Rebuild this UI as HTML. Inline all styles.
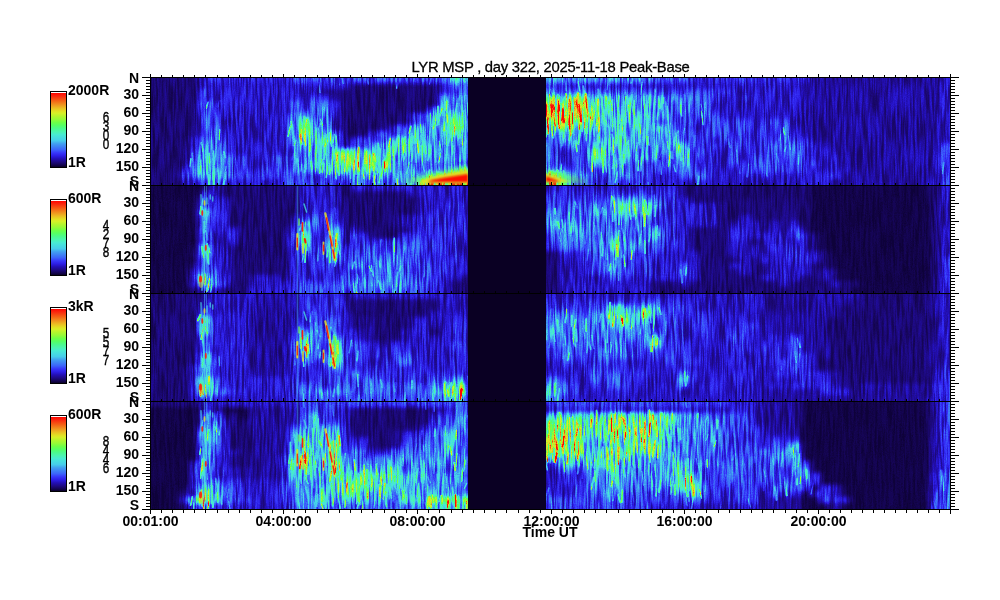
<!DOCTYPE html>
<html><head><meta charset="utf-8"><title>LYR MSP keogram</title>
<style>
html,body{margin:0;padding:0;background:#fff;width:1000px;height:600px;overflow:hidden}
svg{display:block}
text{font-family:"Liberation Sans",Arial,sans-serif;fill:#000}
.b{font-weight:bold;font-size:14px}
.t{font-size:14.8px;letter-spacing:-0.25px;stroke:#000;stroke-width:0.3px}
.w{font-size:13px;stroke:#000;stroke-width:0.35px}
</style></head><body>
<svg width="1000" height="600" viewBox="0 0 1000 600" shape-rendering="crispEdges">
<defs>
<linearGradient id="cbg" x1="0" y1="0" x2="0" y2="1"><stop offset="0.000" stop-color="rgb(255,5,0)"/><stop offset="0.041" stop-color="rgb(250,40,15)"/><stop offset="0.096" stop-color="rgb(245,90,20)"/><stop offset="0.151" stop-color="rgb(240,140,30)"/><stop offset="0.205" stop-color="rgb(235,190,35)"/><stop offset="0.247" stop-color="rgb(225,225,35)"/><stop offset="0.274" stop-color="rgb(215,240,40)"/><stop offset="0.315" stop-color="rgb(180,245,45)"/><stop offset="0.356" stop-color="rgb(150,250,55)"/><stop offset="0.397" stop-color="rgb(110,255,70)"/><stop offset="0.438" stop-color="rgb(85,255,100)"/><stop offset="0.479" stop-color="rgb(75,250,140)"/><stop offset="0.521" stop-color="rgb(75,245,175)"/><stop offset="0.562" stop-color="rgb(72,235,210)"/><stop offset="0.603" stop-color="rgb(70,220,225)"/><stop offset="0.644" stop-color="rgb(70,205,235)"/><stop offset="0.685" stop-color="rgb(65,160,240)"/><stop offset="0.726" stop-color="rgb(62,130,245)"/><stop offset="0.767" stop-color="rgb(60,100,250)"/><stop offset="0.808" stop-color="rgb(55,55,250)"/><stop offset="0.849" stop-color="rgb(45,30,230)"/><stop offset="0.890" stop-color="rgb(35,15,180)"/><stop offset="0.932" stop-color="rgb(30,10,130)"/><stop offset="0.973" stop-color="rgb(20,5,80)"/><stop offset="1.000" stop-color="rgb(10,0,40)"/></linearGradient>
<clipPath id="cp0"><rect x="150" y="77" width="800" height="108"/></clipPath>
<clipPath id="cp1"><rect x="150" y="185" width="800" height="108"/></clipPath>
<clipPath id="cp2"><rect x="150" y="293" width="800" height="108"/></clipPath>
<clipPath id="cp3"><rect x="150" y="401" width="800" height="108"/></clipPath>
<filter id="cm" x="-2%" y="-10%" width="104%" height="120%" color-interpolation-filters="sRGB">
<feOffset in="SourceGraphic" dx="0" dy="0" result="b"/>
<feTurbulence type="fractalNoise" baseFrequency="0.45 0.035" numOctaves="2" seed="7" result="n"/>
<feColorMatrix in="n" type="matrix" values="1 0 0 0 0  1 0 0 0 0  1 0 0 0 0  0 0 0 0 1" result="ng"/>
<feComponentTransfer in="ng" result="n3"><feFuncR type="table" tableValues="0.3 0.3 0.32 0.38 0.5 0.68 0.85 1 1 1 1"/><feFuncG type="table" tableValues="0.3 0.3 0.32 0.38 0.5 0.68 0.85 1 1 1 1"/><feFuncB type="table" tableValues="0.3 0.3 0.32 0.38 0.5 0.68 0.85 1 1 1 1"/></feComponentTransfer>
<feBlend in="b" in2="n3" mode="multiply" result="m"/>
<feTurbulence type="fractalNoise" baseFrequency="0.9" numOctaves="1" seed="3" result="f"/>
<feColorMatrix in="f" type="matrix" values="0.35 0 0 0 0.7  0.35 0 0 0 0.7  0.35 0 0 0 0.7  0 0 0 0 1" result="f3"/>
<feBlend in="m" in2="f3" mode="multiply" result="m2"/>
<feComponentTransfer in="m2">
<feFuncR type="table" tableValues="0.039 0.058 0.076 0.089 0.101 0.113 0.121 0.127 0.133 0.140 0.153 0.165 0.177 0.189 0.201 0.213 0.220 0.226 0.232 0.237 0.239 0.241 0.244 0.248 0.251 0.255 0.261 0.267 0.273 0.275 0.275 0.275 0.276 0.278 0.281 0.283 0.287 0.290 0.294 0.294 0.294 0.294 0.302 0.314 0.326 0.345 0.375 0.405 0.438 0.486 0.534 0.583 0.620 0.656 0.692 0.732 0.775 0.817 0.850 0.868 0.885 0.897 0.909 0.920 0.926 0.930 0.935 0.939 0.944 0.948 0.953 0.957 0.962 0.966 0.971 0.975 0.980 0.986 0.992 0.998 1.000 1.000 1.000 1.000 1.000 1.000 1.000 1.000 1.000 1.000 1.000 1.000 1.000 1.000 1.000 1.000 1.000 1.000 1.000 1.000 1.000 1.000 1.000 1.000 1.000 1.000 1.000 1.000 1.000 1.000 1.000 1.000 1.000 1.000 1.000 1.000 1.000 1.000 1.000 1.000 1.000 1.000 1.000 1.000 1.000 1.000 1.000 1.000"/>
<feFuncG type="table" tableValues="0.000 0.009 0.018 0.025 0.031 0.037 0.043 0.049 0.055 0.064 0.082 0.100 0.118 0.148 0.178 0.208 0.257 0.311 0.365 0.410 0.447 0.483 0.519 0.555 0.591 0.627 0.682 0.736 0.790 0.817 0.835 0.853 0.872 0.890 0.908 0.924 0.936 0.948 0.961 0.967 0.972 0.978 0.984 0.990 0.996 1.000 1.000 1.000 0.999 0.993 0.987 0.981 0.975 0.969 0.963 0.957 0.951 0.945 0.931 0.903 0.873 0.832 0.791 0.749 0.704 0.658 0.613 0.567 0.522 0.477 0.432 0.387 0.342 0.297 0.252 0.207 0.162 0.120 0.078 0.035 0.020 0.020 0.020 0.020 0.020 0.020 0.020 0.020 0.020 0.020 0.020 0.020 0.020 0.020 0.020 0.020 0.020 0.020 0.020 0.020 0.020 0.020 0.020 0.020 0.020 0.020 0.020 0.020 0.020 0.020 0.020 0.020 0.020 0.020 0.020 0.020 0.020 0.020 0.020 0.020 0.020 0.020 0.020 0.020 0.020 0.020 0.020 0.020"/>
<feFuncB type="table" tableValues="0.157 0.230 0.303 0.365 0.426 0.486 0.545 0.604 0.663 0.722 0.782 0.843 0.902 0.926 0.951 0.975 0.980 0.980 0.980 0.977 0.971 0.965 0.959 0.953 0.947 0.941 0.935 0.929 0.923 0.913 0.901 0.889 0.874 0.855 0.837 0.814 0.771 0.729 0.687 0.646 0.605 0.564 0.518 0.470 0.421 0.378 0.342 0.306 0.272 0.254 0.236 0.218 0.205 0.193 0.181 0.173 0.167 0.161 0.153 0.144 0.137 0.137 0.137 0.137 0.133 0.129 0.124 0.119 0.112 0.103 0.094 0.085 0.077 0.073 0.068 0.064 0.059 0.043 0.025 0.007 0.000 0.000 0.000 0.000 0.000 0.000 0.000 0.000 0.000 0.000 0.000 0.000 0.000 0.000 0.000 0.000 0.000 0.000 0.000 0.000 0.000 0.000 0.000 0.000 0.000 0.000 0.000 0.000 0.000 0.000 0.000 0.000 0.000 0.000 0.000 0.000 0.000 0.000 0.000 0.000 0.000 0.000 0.000 0.000 0.000 0.000 0.000 0.000"/>
<feFuncA type="linear" slope="0" intercept="1"/>
</feComponentTransfer>
</filter>
<filter id="sb05" x="-20%" y="-20%" width="140%" height="140%"><feGaussianBlur stdDeviation="0.45"/></filter>
<filter id="sb1" x="-20%" y="-50%" width="140%" height="200%"><feGaussianBlur stdDeviation="1.2"/></filter>
<filter id="sb2" x="-20%" y="-50%" width="140%" height="200%"><feGaussianBlur stdDeviation="2"/></filter>
<filter id="gb" x="-3%" y="-12%" width="106%" height="124%" color-interpolation-filters="sRGB"><feGaussianBlur stdDeviation="3.5 2.2"/></filter>
</defs>
<rect width="1000" height="600" fill="#fff"/>
<g clip-path="url(#cp0)"><g filter="url(#cm)" shape-rendering="auto">
<g filter="url(#gb)">
<rect x="140" y="69" width="60" height="14" fill="#0f0f0f"/>
<rect x="200" y="69" width="90" height="14" fill="#292929"/>
<rect x="290" y="69" width="150" height="14" fill="#373737"/>
<rect x="440" y="69" width="10" height="14" fill="#4c4c4c"/>
<rect x="450" y="69" width="20" height="14" fill="#5e5e5e"/>
<rect x="470" y="69" width="70" height="14" fill="#000000"/>
<rect x="540" y="69" width="110" height="14" fill="#4c4c4c"/>
<rect x="650" y="69" width="40" height="14" fill="#373737"/>
<rect x="690" y="69" width="120" height="14" fill="#292929"/>
<rect x="810" y="69" width="130" height="14" fill="#181818"/>
<rect x="940" y="69" width="20" height="14" fill="#212121"/>
<rect x="140" y="83" width="60" height="6" fill="#0f0f0f"/>
<rect x="200" y="83" width="150" height="6" fill="#212121"/>
<rect x="350" y="83" width="90" height="6" fill="#0f0f0f"/>
<rect x="440" y="83" width="10" height="6" fill="#212121"/>
<rect x="450" y="83" width="20" height="6" fill="#3e3e3e"/>
<rect x="470" y="83" width="70" height="6" fill="#000000"/>
<rect x="540" y="83" width="20" height="6" fill="#303030"/>
<rect x="560" y="83" width="240" height="6" fill="#212121"/>
<rect x="800" y="83" width="140" height="6" fill="#181818"/>
<rect x="940" y="83" width="20" height="6" fill="#212121"/>
<rect x="140" y="89" width="60" height="6" fill="#0f0f0f"/>
<rect x="200" y="89" width="10" height="6" fill="#303030"/>
<rect x="210" y="89" width="110" height="6" fill="#212121"/>
<rect x="320" y="89" width="120" height="6" fill="#0f0f0f"/>
<rect x="440" y="89" width="10" height="6" fill="#212121"/>
<rect x="450" y="89" width="20" height="6" fill="#3e3e3e"/>
<rect x="470" y="89" width="70" height="6" fill="#000000"/>
<rect x="540" y="89" width="10" height="6" fill="#4c4c4c"/>
<rect x="550" y="89" width="50" height="6" fill="#3e3e3e"/>
<rect x="600" y="89" width="10" height="6" fill="#303030"/>
<rect x="610" y="89" width="10" height="6" fill="#3e3e3e"/>
<rect x="620" y="89" width="30" height="6" fill="#303030"/>
<rect x="650" y="89" width="10" height="6" fill="#3e3e3e"/>
<rect x="660" y="89" width="70" height="6" fill="#303030"/>
<rect x="730" y="89" width="70" height="6" fill="#212121"/>
<rect x="800" y="89" width="140" height="6" fill="#181818"/>
<rect x="940" y="89" width="20" height="6" fill="#212121"/>
<rect x="140" y="95" width="60" height="6" fill="#0f0f0f"/>
<rect x="200" y="95" width="10" height="6" fill="#303030"/>
<rect x="210" y="95" width="90" height="6" fill="#212121"/>
<rect x="300" y="95" width="20" height="6" fill="#303030"/>
<rect x="320" y="95" width="10" height="6" fill="#212121"/>
<rect x="330" y="95" width="110" height="6" fill="#0f0f0f"/>
<rect x="440" y="95" width="10" height="6" fill="#4c4c4c"/>
<rect x="450" y="95" width="20" height="6" fill="#5e5e5e"/>
<rect x="470" y="95" width="70" height="6" fill="#000000"/>
<rect x="540" y="95" width="10" height="6" fill="#a3a3a3"/>
<rect x="550" y="95" width="10" height="6" fill="#8c8c8c"/>
<rect x="560" y="95" width="10" height="6" fill="#a3a3a3"/>
<rect x="570" y="95" width="30" height="6" fill="#8c8c8c"/>
<rect x="600" y="95" width="10" height="6" fill="#5e5e5e"/>
<rect x="610" y="95" width="10" height="6" fill="#737373"/>
<rect x="620" y="95" width="40" height="6" fill="#5e5e5e"/>
<rect x="660" y="95" width="30" height="6" fill="#4c4c4c"/>
<rect x="690" y="95" width="10" height="6" fill="#3e3e3e"/>
<rect x="700" y="95" width="10" height="6" fill="#303030"/>
<rect x="710" y="95" width="10" height="6" fill="#3e3e3e"/>
<rect x="720" y="95" width="20" height="6" fill="#212121"/>
<rect x="740" y="95" width="10" height="6" fill="#303030"/>
<rect x="750" y="95" width="50" height="6" fill="#212121"/>
<rect x="800" y="95" width="140" height="6" fill="#181818"/>
<rect x="940" y="95" width="20" height="6" fill="#212121"/>
<rect x="140" y="101" width="60" height="6" fill="#0f0f0f"/>
<rect x="200" y="101" width="10" height="6" fill="#3e3e3e"/>
<rect x="210" y="101" width="10" height="6" fill="#303030"/>
<rect x="220" y="101" width="70" height="6" fill="#212121"/>
<rect x="290" y="101" width="40" height="6" fill="#373737"/>
<rect x="330" y="101" width="10" height="6" fill="#212121"/>
<rect x="340" y="101" width="100" height="6" fill="#0f0f0f"/>
<rect x="440" y="101" width="30" height="6" fill="#5e5e5e"/>
<rect x="470" y="101" width="70" height="6" fill="#000000"/>
<rect x="540" y="101" width="10" height="6" fill="#b8b8b8"/>
<rect x="550" y="101" width="10" height="6" fill="#a3a3a3"/>
<rect x="560" y="101" width="10" height="6" fill="#cccccc"/>
<rect x="570" y="101" width="10" height="6" fill="#a3a3a3"/>
<rect x="580" y="101" width="20" height="6" fill="#8c8c8c"/>
<rect x="600" y="101" width="10" height="6" fill="#5e5e5e"/>
<rect x="610" y="101" width="10" height="6" fill="#737373"/>
<rect x="620" y="101" width="40" height="6" fill="#5e5e5e"/>
<rect x="660" y="101" width="10" height="6" fill="#4c4c4c"/>
<rect x="670" y="101" width="10" height="6" fill="#303030"/>
<rect x="680" y="101" width="10" height="6" fill="#4c4c4c"/>
<rect x="690" y="101" width="10" height="6" fill="#303030"/>
<rect x="700" y="101" width="10" height="6" fill="#3e3e3e"/>
<rect x="710" y="101" width="10" height="6" fill="#303030"/>
<rect x="720" y="101" width="80" height="6" fill="#212121"/>
<rect x="800" y="101" width="140" height="6" fill="#181818"/>
<rect x="940" y="101" width="20" height="6" fill="#212121"/>
<rect x="140" y="107" width="60" height="6" fill="#0f0f0f"/>
<rect x="200" y="107" width="10" height="6" fill="#3e3e3e"/>
<rect x="210" y="107" width="10" height="6" fill="#303030"/>
<rect x="220" y="107" width="70" height="6" fill="#212121"/>
<rect x="290" y="107" width="30" height="6" fill="#373737"/>
<rect x="320" y="107" width="10" height="6" fill="#4c4c4c"/>
<rect x="330" y="107" width="10" height="6" fill="#212121"/>
<rect x="340" y="107" width="90" height="6" fill="#0f0f0f"/>
<rect x="430" y="107" width="40" height="6" fill="#5e5e5e"/>
<rect x="470" y="107" width="70" height="6" fill="#000000"/>
<rect x="540" y="107" width="10" height="6" fill="#cccccc"/>
<rect x="550" y="107" width="20" height="6" fill="#b8b8b8"/>
<rect x="570" y="107" width="10" height="6" fill="#cccccc"/>
<rect x="580" y="107" width="10" height="6" fill="#a3a3a3"/>
<rect x="590" y="107" width="10" height="6" fill="#8c8c8c"/>
<rect x="600" y="107" width="20" height="6" fill="#5e5e5e"/>
<rect x="620" y="107" width="10" height="6" fill="#737373"/>
<rect x="630" y="107" width="20" height="6" fill="#5e5e5e"/>
<rect x="650" y="107" width="20" height="6" fill="#4c4c4c"/>
<rect x="670" y="107" width="10" height="6" fill="#303030"/>
<rect x="680" y="107" width="10" height="6" fill="#4c4c4c"/>
<rect x="690" y="107" width="10" height="6" fill="#303030"/>
<rect x="700" y="107" width="10" height="6" fill="#3e3e3e"/>
<rect x="710" y="107" width="10" height="6" fill="#303030"/>
<rect x="720" y="107" width="80" height="6" fill="#212121"/>
<rect x="800" y="107" width="140" height="6" fill="#181818"/>
<rect x="940" y="107" width="20" height="6" fill="#212121"/>
<rect x="140" y="113" width="60" height="6" fill="#0f0f0f"/>
<rect x="200" y="113" width="10" height="6" fill="#3e3e3e"/>
<rect x="210" y="113" width="10" height="6" fill="#303030"/>
<rect x="220" y="113" width="70" height="6" fill="#212121"/>
<rect x="290" y="113" width="20" height="6" fill="#4c4c4c"/>
<rect x="310" y="113" width="10" height="6" fill="#373737"/>
<rect x="320" y="113" width="10" height="6" fill="#4c4c4c"/>
<rect x="330" y="113" width="10" height="6" fill="#212121"/>
<rect x="340" y="113" width="70" height="6" fill="#0f0f0f"/>
<rect x="410" y="113" width="20" height="6" fill="#303030"/>
<rect x="430" y="113" width="20" height="6" fill="#5e5e5e"/>
<rect x="450" y="113" width="10" height="6" fill="#737373"/>
<rect x="460" y="113" width="10" height="6" fill="#5e5e5e"/>
<rect x="470" y="113" width="70" height="6" fill="#000000"/>
<rect x="540" y="113" width="10" height="6" fill="#cccccc"/>
<rect x="550" y="113" width="10" height="6" fill="#b8b8b8"/>
<rect x="560" y="113" width="10" height="6" fill="#a3a3a3"/>
<rect x="570" y="113" width="10" height="6" fill="#cccccc"/>
<rect x="580" y="113" width="10" height="6" fill="#a3a3a3"/>
<rect x="590" y="113" width="10" height="6" fill="#8c8c8c"/>
<rect x="600" y="113" width="50" height="6" fill="#5e5e5e"/>
<rect x="650" y="113" width="20" height="6" fill="#4c4c4c"/>
<rect x="670" y="113" width="30" height="6" fill="#303030"/>
<rect x="700" y="113" width="10" height="6" fill="#3e3e3e"/>
<rect x="710" y="113" width="10" height="6" fill="#303030"/>
<rect x="720" y="113" width="80" height="6" fill="#212121"/>
<rect x="800" y="113" width="140" height="6" fill="#181818"/>
<rect x="940" y="113" width="20" height="6" fill="#212121"/>
<rect x="140" y="119" width="60" height="6" fill="#0f0f0f"/>
<rect x="200" y="119" width="10" height="6" fill="#3e3e3e"/>
<rect x="210" y="119" width="10" height="6" fill="#303030"/>
<rect x="220" y="119" width="70" height="6" fill="#212121"/>
<rect x="290" y="119" width="10" height="6" fill="#4c4c4c"/>
<rect x="300" y="119" width="10" height="6" fill="#737373"/>
<rect x="310" y="119" width="20" height="6" fill="#4c4c4c"/>
<rect x="330" y="119" width="10" height="6" fill="#212121"/>
<rect x="340" y="119" width="70" height="6" fill="#0f0f0f"/>
<rect x="410" y="119" width="20" height="6" fill="#303030"/>
<rect x="430" y="119" width="20" height="6" fill="#5e5e5e"/>
<rect x="450" y="119" width="10" height="6" fill="#737373"/>
<rect x="460" y="119" width="10" height="6" fill="#5e5e5e"/>
<rect x="470" y="119" width="70" height="6" fill="#000000"/>
<rect x="540" y="119" width="10" height="6" fill="#cccccc"/>
<rect x="550" y="119" width="10" height="6" fill="#a3a3a3"/>
<rect x="560" y="119" width="10" height="6" fill="#8c8c8c"/>
<rect x="570" y="119" width="10" height="6" fill="#a3a3a3"/>
<rect x="580" y="119" width="10" height="6" fill="#8c8c8c"/>
<rect x="590" y="119" width="10" height="6" fill="#737373"/>
<rect x="600" y="119" width="40" height="6" fill="#5e5e5e"/>
<rect x="640" y="119" width="20" height="6" fill="#4c4c4c"/>
<rect x="660" y="119" width="90" height="6" fill="#303030"/>
<rect x="750" y="119" width="10" height="6" fill="#212121"/>
<rect x="760" y="119" width="30" height="6" fill="#303030"/>
<rect x="790" y="119" width="10" height="6" fill="#212121"/>
<rect x="800" y="119" width="140" height="6" fill="#181818"/>
<rect x="940" y="119" width="20" height="6" fill="#212121"/>
<rect x="140" y="125" width="60" height="6" fill="#0f0f0f"/>
<rect x="200" y="125" width="20" height="6" fill="#3e3e3e"/>
<rect x="220" y="125" width="10" height="6" fill="#303030"/>
<rect x="230" y="125" width="60" height="6" fill="#212121"/>
<rect x="290" y="125" width="10" height="6" fill="#5e5e5e"/>
<rect x="300" y="125" width="10" height="6" fill="#737373"/>
<rect x="310" y="125" width="20" height="6" fill="#5e5e5e"/>
<rect x="330" y="125" width="10" height="6" fill="#212121"/>
<rect x="340" y="125" width="50" height="6" fill="#0f0f0f"/>
<rect x="390" y="125" width="20" height="6" fill="#303030"/>
<rect x="410" y="125" width="20" height="6" fill="#5e5e5e"/>
<rect x="430" y="125" width="10" height="6" fill="#4c4c4c"/>
<rect x="440" y="125" width="10" height="6" fill="#5e5e5e"/>
<rect x="450" y="125" width="10" height="6" fill="#737373"/>
<rect x="460" y="125" width="10" height="6" fill="#5e5e5e"/>
<rect x="470" y="125" width="70" height="6" fill="#000000"/>
<rect x="540" y="125" width="10" height="6" fill="#a3a3a3"/>
<rect x="550" y="125" width="10" height="6" fill="#8c8c8c"/>
<rect x="560" y="125" width="10" height="6" fill="#737373"/>
<rect x="570" y="125" width="10" height="6" fill="#8c8c8c"/>
<rect x="580" y="125" width="20" height="6" fill="#737373"/>
<rect x="600" y="125" width="10" height="6" fill="#4c4c4c"/>
<rect x="610" y="125" width="20" height="6" fill="#5e5e5e"/>
<rect x="630" y="125" width="20" height="6" fill="#4c4c4c"/>
<rect x="650" y="125" width="10" height="6" fill="#737373"/>
<rect x="660" y="125" width="10" height="6" fill="#4c4c4c"/>
<rect x="670" y="125" width="20" height="6" fill="#303030"/>
<rect x="690" y="125" width="10" height="6" fill="#212121"/>
<rect x="700" y="125" width="50" height="6" fill="#303030"/>
<rect x="750" y="125" width="10" height="6" fill="#212121"/>
<rect x="760" y="125" width="20" height="6" fill="#303030"/>
<rect x="780" y="125" width="10" height="6" fill="#3e3e3e"/>
<rect x="790" y="125" width="10" height="6" fill="#303030"/>
<rect x="800" y="125" width="140" height="6" fill="#181818"/>
<rect x="940" y="125" width="20" height="6" fill="#212121"/>
<rect x="140" y="131" width="60" height="6" fill="#0f0f0f"/>
<rect x="200" y="131" width="20" height="6" fill="#3e3e3e"/>
<rect x="220" y="131" width="10" height="6" fill="#303030"/>
<rect x="230" y="131" width="60" height="6" fill="#212121"/>
<rect x="290" y="131" width="10" height="6" fill="#5e5e5e"/>
<rect x="300" y="131" width="10" height="6" fill="#8c8c8c"/>
<rect x="310" y="131" width="10" height="6" fill="#5e5e5e"/>
<rect x="320" y="131" width="10" height="6" fill="#8c8c8c"/>
<rect x="330" y="131" width="10" height="6" fill="#4c4c4c"/>
<rect x="340" y="131" width="30" height="6" fill="#0f0f0f"/>
<rect x="370" y="131" width="40" height="6" fill="#303030"/>
<rect x="410" y="131" width="10" height="6" fill="#737373"/>
<rect x="420" y="131" width="10" height="6" fill="#5e5e5e"/>
<rect x="430" y="131" width="20" height="6" fill="#4c4c4c"/>
<rect x="450" y="131" width="20" height="6" fill="#5e5e5e"/>
<rect x="470" y="131" width="70" height="6" fill="#000000"/>
<rect x="540" y="131" width="30" height="6" fill="#4c4c4c"/>
<rect x="570" y="131" width="10" height="6" fill="#737373"/>
<rect x="580" y="131" width="30" height="6" fill="#4c4c4c"/>
<rect x="610" y="131" width="20" height="6" fill="#5e5e5e"/>
<rect x="630" y="131" width="50" height="6" fill="#4c4c4c"/>
<rect x="680" y="131" width="70" height="6" fill="#303030"/>
<rect x="750" y="131" width="10" height="6" fill="#212121"/>
<rect x="760" y="131" width="20" height="6" fill="#303030"/>
<rect x="780" y="131" width="10" height="6" fill="#3e3e3e"/>
<rect x="790" y="131" width="10" height="6" fill="#303030"/>
<rect x="800" y="131" width="140" height="6" fill="#181818"/>
<rect x="940" y="131" width="20" height="6" fill="#212121"/>
<rect x="140" y="137" width="50" height="6" fill="#0f0f0f"/>
<rect x="190" y="137" width="10" height="6" fill="#212121"/>
<rect x="200" y="137" width="10" height="6" fill="#4c4c4c"/>
<rect x="210" y="137" width="10" height="6" fill="#3e3e3e"/>
<rect x="220" y="137" width="10" height="6" fill="#303030"/>
<rect x="230" y="137" width="60" height="6" fill="#212121"/>
<rect x="290" y="137" width="10" height="6" fill="#5e5e5e"/>
<rect x="300" y="137" width="10" height="6" fill="#737373"/>
<rect x="310" y="137" width="10" height="6" fill="#5e5e5e"/>
<rect x="320" y="137" width="10" height="6" fill="#a3a3a3"/>
<rect x="330" y="137" width="10" height="6" fill="#4c4c4c"/>
<rect x="340" y="137" width="10" height="6" fill="#0f0f0f"/>
<rect x="350" y="137" width="40" height="6" fill="#303030"/>
<rect x="390" y="137" width="30" height="6" fill="#737373"/>
<rect x="420" y="137" width="10" height="6" fill="#5e5e5e"/>
<rect x="430" y="137" width="30" height="6" fill="#4c4c4c"/>
<rect x="460" y="137" width="10" height="6" fill="#5e5e5e"/>
<rect x="470" y="137" width="70" height="6" fill="#000000"/>
<rect x="540" y="137" width="20" height="6" fill="#3e3e3e"/>
<rect x="560" y="137" width="10" height="6" fill="#4c4c4c"/>
<rect x="570" y="137" width="10" height="6" fill="#5e5e5e"/>
<rect x="580" y="137" width="10" height="6" fill="#303030"/>
<rect x="590" y="137" width="20" height="6" fill="#5e5e5e"/>
<rect x="610" y="137" width="20" height="6" fill="#737373"/>
<rect x="630" y="137" width="10" height="6" fill="#4c4c4c"/>
<rect x="640" y="137" width="10" height="6" fill="#5e5e5e"/>
<rect x="650" y="137" width="20" height="6" fill="#4c4c4c"/>
<rect x="670" y="137" width="10" height="6" fill="#5e5e5e"/>
<rect x="680" y="137" width="30" height="6" fill="#303030"/>
<rect x="710" y="137" width="10" height="6" fill="#212121"/>
<rect x="720" y="137" width="30" height="6" fill="#303030"/>
<rect x="750" y="137" width="10" height="6" fill="#212121"/>
<rect x="760" y="137" width="20" height="6" fill="#303030"/>
<rect x="780" y="137" width="10" height="6" fill="#3e3e3e"/>
<rect x="790" y="137" width="10" height="6" fill="#303030"/>
<rect x="800" y="137" width="10" height="6" fill="#292929"/>
<rect x="810" y="137" width="130" height="6" fill="#181818"/>
<rect x="940" y="137" width="20" height="6" fill="#212121"/>
<rect x="140" y="143" width="50" height="6" fill="#0f0f0f"/>
<rect x="190" y="143" width="10" height="6" fill="#212121"/>
<rect x="200" y="143" width="10" height="6" fill="#4c4c4c"/>
<rect x="210" y="143" width="10" height="6" fill="#3e3e3e"/>
<rect x="220" y="143" width="10" height="6" fill="#303030"/>
<rect x="230" y="143" width="60" height="6" fill="#212121"/>
<rect x="290" y="143" width="10" height="6" fill="#4c4c4c"/>
<rect x="300" y="143" width="30" height="6" fill="#5e5e5e"/>
<rect x="330" y="143" width="10" height="6" fill="#4c4c4c"/>
<rect x="340" y="143" width="10" height="6" fill="#0f0f0f"/>
<rect x="350" y="143" width="20" height="6" fill="#303030"/>
<rect x="370" y="143" width="10" height="6" fill="#4c4c4c"/>
<rect x="380" y="143" width="10" height="6" fill="#5e5e5e"/>
<rect x="390" y="143" width="20" height="6" fill="#737373"/>
<rect x="410" y="143" width="20" height="6" fill="#5e5e5e"/>
<rect x="430" y="143" width="40" height="6" fill="#4c4c4c"/>
<rect x="470" y="143" width="70" height="6" fill="#000000"/>
<rect x="540" y="143" width="10" height="6" fill="#3e3e3e"/>
<rect x="550" y="143" width="10" height="6" fill="#303030"/>
<rect x="560" y="143" width="10" height="6" fill="#3e3e3e"/>
<rect x="570" y="143" width="10" height="6" fill="#4c4c4c"/>
<rect x="580" y="143" width="10" height="6" fill="#303030"/>
<rect x="590" y="143" width="20" height="6" fill="#5e5e5e"/>
<rect x="610" y="143" width="10" height="6" fill="#737373"/>
<rect x="620" y="143" width="10" height="6" fill="#5e5e5e"/>
<rect x="630" y="143" width="40" height="6" fill="#4c4c4c"/>
<rect x="670" y="143" width="10" height="6" fill="#737373"/>
<rect x="680" y="143" width="10" height="6" fill="#5e5e5e"/>
<rect x="690" y="143" width="10" height="6" fill="#303030"/>
<rect x="700" y="143" width="10" height="6" fill="#212121"/>
<rect x="710" y="143" width="10" height="6" fill="#303030"/>
<rect x="720" y="143" width="10" height="6" fill="#212121"/>
<rect x="730" y="143" width="20" height="6" fill="#303030"/>
<rect x="750" y="143" width="10" height="6" fill="#212121"/>
<rect x="760" y="143" width="10" height="6" fill="#303030"/>
<rect x="770" y="143" width="10" height="6" fill="#3e3e3e"/>
<rect x="780" y="143" width="10" height="6" fill="#303030"/>
<rect x="790" y="143" width="10" height="6" fill="#3e3e3e"/>
<rect x="800" y="143" width="10" height="6" fill="#303030"/>
<rect x="810" y="143" width="10" height="6" fill="#212121"/>
<rect x="820" y="143" width="120" height="6" fill="#181818"/>
<rect x="940" y="143" width="20" height="6" fill="#303030"/>
<rect x="140" y="149" width="50" height="6" fill="#0f0f0f"/>
<rect x="190" y="149" width="10" height="6" fill="#303030"/>
<rect x="200" y="149" width="10" height="6" fill="#4c4c4c"/>
<rect x="210" y="149" width="10" height="6" fill="#3e3e3e"/>
<rect x="220" y="149" width="10" height="6" fill="#303030"/>
<rect x="230" y="149" width="60" height="6" fill="#212121"/>
<rect x="290" y="149" width="20" height="6" fill="#4c4c4c"/>
<rect x="310" y="149" width="10" height="6" fill="#5e5e5e"/>
<rect x="320" y="149" width="10" height="6" fill="#4c4c4c"/>
<rect x="330" y="149" width="40" height="6" fill="#737373"/>
<rect x="370" y="149" width="10" height="6" fill="#4c4c4c"/>
<rect x="380" y="149" width="30" height="6" fill="#737373"/>
<rect x="410" y="149" width="20" height="6" fill="#5e5e5e"/>
<rect x="430" y="149" width="40" height="6" fill="#4c4c4c"/>
<rect x="470" y="149" width="70" height="6" fill="#000000"/>
<rect x="540" y="149" width="10" height="6" fill="#3e3e3e"/>
<rect x="550" y="149" width="40" height="6" fill="#303030"/>
<rect x="590" y="149" width="10" height="6" fill="#8c8c8c"/>
<rect x="600" y="149" width="30" height="6" fill="#5e5e5e"/>
<rect x="630" y="149" width="40" height="6" fill="#4c4c4c"/>
<rect x="670" y="149" width="10" height="6" fill="#737373"/>
<rect x="680" y="149" width="10" height="6" fill="#5e5e5e"/>
<rect x="690" y="149" width="20" height="6" fill="#303030"/>
<rect x="710" y="149" width="20" height="6" fill="#212121"/>
<rect x="730" y="149" width="20" height="6" fill="#303030"/>
<rect x="750" y="149" width="10" height="6" fill="#212121"/>
<rect x="760" y="149" width="30" height="6" fill="#303030"/>
<rect x="790" y="149" width="10" height="6" fill="#3e3e3e"/>
<rect x="800" y="149" width="10" height="6" fill="#303030"/>
<rect x="810" y="149" width="20" height="6" fill="#212121"/>
<rect x="830" y="149" width="110" height="6" fill="#181818"/>
<rect x="940" y="149" width="20" height="6" fill="#303030"/>
<rect x="140" y="155" width="50" height="6" fill="#0f0f0f"/>
<rect x="190" y="155" width="10" height="6" fill="#303030"/>
<rect x="200" y="155" width="10" height="6" fill="#5e5e5e"/>
<rect x="210" y="155" width="10" height="6" fill="#4c4c4c"/>
<rect x="220" y="155" width="10" height="6" fill="#3e3e3e"/>
<rect x="230" y="155" width="20" height="6" fill="#303030"/>
<rect x="250" y="155" width="20" height="6" fill="#212121"/>
<rect x="270" y="155" width="20" height="6" fill="#303030"/>
<rect x="290" y="155" width="40" height="6" fill="#4c4c4c"/>
<rect x="330" y="155" width="10" height="6" fill="#737373"/>
<rect x="340" y="155" width="10" height="6" fill="#8c8c8c"/>
<rect x="350" y="155" width="40" height="6" fill="#737373"/>
<rect x="390" y="155" width="20" height="6" fill="#4c4c4c"/>
<rect x="410" y="155" width="10" height="6" fill="#5e5e5e"/>
<rect x="420" y="155" width="50" height="6" fill="#4c4c4c"/>
<rect x="470" y="155" width="70" height="6" fill="#000000"/>
<rect x="540" y="155" width="20" height="6" fill="#3e3e3e"/>
<rect x="560" y="155" width="30" height="6" fill="#303030"/>
<rect x="590" y="155" width="10" height="6" fill="#737373"/>
<rect x="600" y="155" width="10" height="6" fill="#5e5e5e"/>
<rect x="610" y="155" width="10" height="6" fill="#737373"/>
<rect x="620" y="155" width="40" height="6" fill="#4c4c4c"/>
<rect x="660" y="155" width="10" height="6" fill="#303030"/>
<rect x="670" y="155" width="20" height="6" fill="#5e5e5e"/>
<rect x="690" y="155" width="20" height="6" fill="#303030"/>
<rect x="710" y="155" width="20" height="6" fill="#212121"/>
<rect x="730" y="155" width="10" height="6" fill="#303030"/>
<rect x="740" y="155" width="10" height="6" fill="#212121"/>
<rect x="750" y="155" width="60" height="6" fill="#303030"/>
<rect x="810" y="155" width="30" height="6" fill="#212121"/>
<rect x="840" y="155" width="100" height="6" fill="#181818"/>
<rect x="940" y="155" width="20" height="6" fill="#303030"/>
<rect x="140" y="161" width="50" height="6" fill="#0f0f0f"/>
<rect x="190" y="161" width="10" height="6" fill="#3e3e3e"/>
<rect x="200" y="161" width="10" height="6" fill="#5e5e5e"/>
<rect x="210" y="161" width="10" height="6" fill="#4c4c4c"/>
<rect x="220" y="161" width="10" height="6" fill="#3e3e3e"/>
<rect x="230" y="161" width="20" height="6" fill="#303030"/>
<rect x="250" y="161" width="20" height="6" fill="#212121"/>
<rect x="270" y="161" width="20" height="6" fill="#303030"/>
<rect x="290" y="161" width="30" height="6" fill="#4c4c4c"/>
<rect x="320" y="161" width="10" height="6" fill="#5e5e5e"/>
<rect x="330" y="161" width="20" height="6" fill="#737373"/>
<rect x="350" y="161" width="10" height="6" fill="#8c8c8c"/>
<rect x="360" y="161" width="20" height="6" fill="#737373"/>
<rect x="380" y="161" width="10" height="6" fill="#8c8c8c"/>
<rect x="390" y="161" width="10" height="6" fill="#5e5e5e"/>
<rect x="400" y="161" width="20" height="6" fill="#4c4c4c"/>
<rect x="420" y="161" width="50" height="6" fill="#3e3e3e"/>
<rect x="470" y="161" width="70" height="6" fill="#000000"/>
<rect x="540" y="161" width="10" height="6" fill="#4c4c4c"/>
<rect x="550" y="161" width="10" height="6" fill="#3e3e3e"/>
<rect x="560" y="161" width="30" height="6" fill="#303030"/>
<rect x="590" y="161" width="20" height="6" fill="#4c4c4c"/>
<rect x="610" y="161" width="10" height="6" fill="#737373"/>
<rect x="620" y="161" width="10" height="6" fill="#4c4c4c"/>
<rect x="630" y="161" width="40" height="6" fill="#303030"/>
<rect x="670" y="161" width="10" height="6" fill="#4c4c4c"/>
<rect x="680" y="161" width="10" height="6" fill="#5e5e5e"/>
<rect x="690" y="161" width="20" height="6" fill="#303030"/>
<rect x="710" y="161" width="20" height="6" fill="#212121"/>
<rect x="730" y="161" width="30" height="6" fill="#303030"/>
<rect x="760" y="161" width="10" height="6" fill="#3e3e3e"/>
<rect x="770" y="161" width="50" height="6" fill="#303030"/>
<rect x="820" y="161" width="20" height="6" fill="#212121"/>
<rect x="840" y="161" width="100" height="6" fill="#181818"/>
<rect x="940" y="161" width="20" height="6" fill="#303030"/>
<rect x="140" y="167" width="40" height="6" fill="#0f0f0f"/>
<rect x="180" y="167" width="10" height="6" fill="#212121"/>
<rect x="190" y="167" width="10" height="6" fill="#4c4c4c"/>
<rect x="200" y="167" width="20" height="6" fill="#5e5e5e"/>
<rect x="220" y="167" width="10" height="6" fill="#3e3e3e"/>
<rect x="230" y="167" width="20" height="6" fill="#303030"/>
<rect x="250" y="167" width="10" height="6" fill="#212121"/>
<rect x="260" y="167" width="30" height="6" fill="#303030"/>
<rect x="290" y="167" width="30" height="6" fill="#4c4c4c"/>
<rect x="320" y="167" width="10" height="6" fill="#5e5e5e"/>
<rect x="330" y="167" width="60" height="6" fill="#737373"/>
<rect x="390" y="167" width="20" height="6" fill="#4c4c4c"/>
<rect x="410" y="167" width="30" height="6" fill="#3e3e3e"/>
<rect x="440" y="167" width="10" height="6" fill="#4c4c4c"/>
<rect x="450" y="167" width="10" height="6" fill="#737373"/>
<rect x="460" y="167" width="10" height="6" fill="#b8b8b8"/>
<rect x="470" y="167" width="70" height="6" fill="#000000"/>
<rect x="540" y="167" width="10" height="6" fill="#5e5e5e"/>
<rect x="550" y="167" width="10" height="6" fill="#4c4c4c"/>
<rect x="560" y="167" width="20" height="6" fill="#3e3e3e"/>
<rect x="580" y="167" width="30" height="6" fill="#303030"/>
<rect x="610" y="167" width="10" height="6" fill="#5e5e5e"/>
<rect x="620" y="167" width="10" height="6" fill="#3e3e3e"/>
<rect x="630" y="167" width="50" height="6" fill="#303030"/>
<rect x="680" y="167" width="10" height="6" fill="#4c4c4c"/>
<rect x="690" y="167" width="20" height="6" fill="#303030"/>
<rect x="710" y="167" width="30" height="6" fill="#212121"/>
<rect x="740" y="167" width="20" height="6" fill="#303030"/>
<rect x="760" y="167" width="10" height="6" fill="#3e3e3e"/>
<rect x="770" y="167" width="40" height="6" fill="#303030"/>
<rect x="810" y="167" width="40" height="6" fill="#212121"/>
<rect x="850" y="167" width="90" height="6" fill="#181818"/>
<rect x="940" y="167" width="20" height="6" fill="#303030"/>
<rect x="140" y="173" width="40" height="6" fill="#0f0f0f"/>
<rect x="180" y="173" width="10" height="6" fill="#303030"/>
<rect x="190" y="173" width="10" height="6" fill="#4c4c4c"/>
<rect x="200" y="173" width="20" height="6" fill="#5e5e5e"/>
<rect x="220" y="173" width="10" height="6" fill="#4c4c4c"/>
<rect x="230" y="173" width="20" height="6" fill="#303030"/>
<rect x="250" y="173" width="10" height="6" fill="#212121"/>
<rect x="260" y="173" width="70" height="6" fill="#303030"/>
<rect x="330" y="173" width="20" height="6" fill="#3e3e3e"/>
<rect x="350" y="173" width="70" height="6" fill="#4c4c4c"/>
<rect x="420" y="173" width="10" height="6" fill="#5e5e5e"/>
<rect x="430" y="173" width="10" height="6" fill="#8c8c8c"/>
<rect x="440" y="173" width="10" height="6" fill="#e0e0e0"/>
<rect x="450" y="173" width="20" height="6" fill="#f5f5f5"/>
<rect x="470" y="173" width="70" height="6" fill="#000000"/>
<rect x="540" y="173" width="10" height="6" fill="#f5f5f5"/>
<rect x="550" y="173" width="10" height="6" fill="#a3a3a3"/>
<rect x="560" y="173" width="10" height="6" fill="#5e5e5e"/>
<rect x="570" y="173" width="20" height="6" fill="#4c4c4c"/>
<rect x="590" y="173" width="30" height="6" fill="#373737"/>
<rect x="620" y="173" width="10" height="6" fill="#4c4c4c"/>
<rect x="630" y="173" width="20" height="6" fill="#373737"/>
<rect x="650" y="173" width="30" height="6" fill="#212121"/>
<rect x="680" y="173" width="30" height="6" fill="#373737"/>
<rect x="710" y="173" width="50" height="6" fill="#212121"/>
<rect x="760" y="173" width="10" height="6" fill="#303030"/>
<rect x="770" y="173" width="60" height="6" fill="#212121"/>
<rect x="830" y="173" width="10" height="6" fill="#303030"/>
<rect x="840" y="173" width="100" height="6" fill="#181818"/>
<rect x="940" y="173" width="20" height="6" fill="#303030"/>
<rect x="140" y="179" width="40" height="14" fill="#0f0f0f"/>
<rect x="180" y="179" width="10" height="14" fill="#212121"/>
<rect x="190" y="179" width="10" height="14" fill="#303030"/>
<rect x="200" y="179" width="20" height="14" fill="#3e3e3e"/>
<rect x="220" y="179" width="10" height="14" fill="#303030"/>
<rect x="230" y="179" width="50" height="14" fill="#212121"/>
<rect x="280" y="179" width="70" height="14" fill="#303030"/>
<rect x="350" y="179" width="60" height="14" fill="#3e3e3e"/>
<rect x="410" y="179" width="10" height="14" fill="#4c4c4c"/>
<rect x="420" y="179" width="10" height="14" fill="#b8b8b8"/>
<rect x="430" y="179" width="10" height="14" fill="#e0e0e0"/>
<rect x="440" y="179" width="30" height="14" fill="#f5f5f5"/>
<rect x="470" y="179" width="70" height="14" fill="#000000"/>
<rect x="540" y="179" width="10" height="14" fill="#f5f5f5"/>
<rect x="550" y="179" width="10" height="14" fill="#cccccc"/>
<rect x="560" y="179" width="10" height="14" fill="#5e5e5e"/>
<rect x="570" y="179" width="20" height="14" fill="#3e3e3e"/>
<rect x="590" y="179" width="60" height="14" fill="#303030"/>
<rect x="650" y="179" width="180" height="14" fill="#212121"/>
<rect x="830" y="179" width="100" height="14" fill="#181818"/>
<rect x="930" y="179" width="10" height="14" fill="#212121"/>
<rect x="940" y="179" width="20" height="14" fill="#303030"/>
</g>
<g fill="none" stroke-linecap="round" filter="url(#sb05)"><path d="M319.1 82.5l0.9 10.2" stroke="#3e3e3e" stroke-width="1.2"/><path d="M339.9 74.1l-0.1 10.8" stroke="#3f3f3f" stroke-width="1.5"/><path d="M341.1 74.1l2.3 9.4" stroke="#494949" stroke-width="1.2"/><path d="M366.8 78.6l1.6 5.4" stroke="#494949" stroke-width="1.2"/><path d="M399.3 78.1l-2.4 9.8" stroke="#3e3e3e" stroke-width="2.0"/><path d="M430.8 78.5l-1.4 5.7" stroke="#4e4e4e" stroke-width="1.2"/><path d="M463.1 74.4l1.5 7.5" stroke="#717171" stroke-width="1.2"/><path d="M565.6 80.9l0.4 9.5" stroke="#616161" stroke-width="1.5"/><path d="M578.2 81.9l1.4 9.0" stroke="#757575" stroke-width="1.3"/><path d="M608.4 77.4l-1.2 12.4" stroke="#5d5d5d" stroke-width="1.2"/><path d="M629.1 76.4l1.7 6.4" stroke="#5d5d5d" stroke-width="2.0"/><path d="M642.1 82.1l-1.4 12.2" stroke="#696969" stroke-width="1.2"/><path d="M551.9 88.0l-1.3 9.1" stroke="#454545" stroke-width="1.5"/><path d="M550.6 89.2l2.0 6.4" stroke="#6e6e6e" stroke-width="1.0"/><path d="M583.3 86.0l0.7 11.1" stroke="#7f7f7f" stroke-width="1.3"/><path d="M598.2 89.4l2.3 12.9" stroke="#535353" stroke-width="2.0"/><path d="M625.3 92.9l-0.5 7.5" stroke="#3a3a3a" stroke-width="2.0"/><path d="M633.8 87.9l0.4 11.4" stroke="#3b3b3b" stroke-width="1.2"/><path d="M654.9 89.4l-0.1 5.0" stroke="#4e4e4e" stroke-width="1.5"/><path d="M458.0 98.5l-2.0 10.9" stroke="#888888" stroke-width="1.5"/><path d="M468.9 100.1l-0.8 8.0" stroke="#727272" stroke-width="1.5"/><path d="M549.5 94.6l1.6 6.8" stroke="#b8b8b8" stroke-width="1.5"/><path d="M542.0 96.6l-0.2 13.2" stroke="#dfdfdf" stroke-width="1.2"/><path d="M558.2 94.3l-2.4 6.2" stroke="#bbbbbb" stroke-width="1.0"/><path d="M559.9 96.6l0.1 8.9" stroke="#c4c4c4" stroke-width="1.2"/><path d="M564.9 97.2l-2.1 8.1" stroke="#dbdbdb" stroke-width="1.2"/><path d="M565.6 93.5l2.2 9.5" stroke="#e6e6e6" stroke-width="1.2"/><path d="M575.3 99.6l2.1 11.2" stroke="#bcbcbc" stroke-width="2.0"/><path d="M578.4 93.2l0.3 14.0" stroke="#b8b8b8" stroke-width="2.0"/><path d="M589.3 98.9l1.9 11.1" stroke="#b8b8b8" stroke-width="2.0"/><path d="M586.2 93.8l0.1 13.5" stroke="#b7b7b7" stroke-width="1.5"/><path d="M598.1 99.5l-0.8 8.8" stroke="#bcbcbc" stroke-width="1.5"/><path d="M596.9 99.2l-0.7 12.8" stroke="#afafaf" stroke-width="1.0"/><path d="M606.1 96.9l2.4 6.3" stroke="#868686" stroke-width="2.0"/><path d="M619.1 96.2l-0.6 10.4" stroke="#8f8f8f" stroke-width="1.5"/><path d="M612.9 100.1l-1.2 10.2" stroke="#969696" stroke-width="2.0"/><path d="M625.9 96.8l-0.7 7.9" stroke="#7f7f7f" stroke-width="1.5"/><path d="M639.1 99.9l0.2 13.7" stroke="#707070" stroke-width="1.5"/><path d="M647.3 95.2l1.6 11.7" stroke="#797979" stroke-width="1.5"/><path d="M658.3 96.6l1.5 11.5" stroke="#7c7c7c" stroke-width="1.5"/><path d="M664.0 97.2l-0.2 6.0" stroke="#929292" stroke-width="1.0"/><path d="M683.9 94.6l-0.5 9.7" stroke="#646464" stroke-width="1.2"/><path d="M208.1 102.2l-1.6 5.7" stroke="#9a9a9a" stroke-width="1.3"/><path d="M219.7 100.8l-2.2 5.9" stroke="#3a3a3a" stroke-width="2.0"/><path d="M446.8 101.4l-1.1 8.6" stroke="#868686" stroke-width="2.0"/><path d="M459.3 103.5l2.1 6.4" stroke="#7c7c7c" stroke-width="1.2"/><path d="M468.5 102.7l-0.3 12.3" stroke="#7e7e7e" stroke-width="1.5"/><path d="M542.9 106.7l-1.7 13.1" stroke="#efefef" stroke-width="1.2"/><path d="M549.8 103.7l2.1 6.9" stroke="#ededed" stroke-width="1.2"/><path d="M547.2 104.5l-1.3 5.6" stroke="#e2e2e2" stroke-width="2.0"/><path d="M557.8 100.1l0.1 7.7" stroke="#d1d1d1" stroke-width="2.0"/><path d="M556.8 100.7l1.5 11.9" stroke="#bebebe" stroke-width="1.0"/><path d="M560.9 102.9l-1.8 8.0" stroke="#fafafa" stroke-width="1.5"/><path d="M568.7 99.5l-1.3 12.1" stroke="#fafafa" stroke-width="1.3"/><path d="M573.9 100.0l-1.8 10.0" stroke="#c7c7c7" stroke-width="1.2"/><path d="M574.1 98.0l1.9 13.6" stroke="#c0c0c0" stroke-width="2.0"/><path d="M583.6 102.0l-2.4 11.1" stroke="#b3b3b3" stroke-width="1.5"/><path d="M589.1 103.2l0.4 7.2" stroke="#c1c1c1" stroke-width="2.0"/><path d="M595.9 98.2l-1.9 11.3" stroke="#b6b6b6" stroke-width="1.5"/><path d="M594.0 99.9l-1.9 8.9" stroke="#a3a3a3" stroke-width="1.3"/><path d="M607.5 100.1l-0.6 5.6" stroke="#717171" stroke-width="1.2"/><path d="M610.6 100.5l2.1 9.7" stroke="#a4a4a4" stroke-width="1.0"/><path d="M626.2 103.2l-1.3 13.0" stroke="#8c8c8c" stroke-width="1.3"/><path d="M630.1 100.6l2.3 10.9" stroke="#6f6f6f" stroke-width="1.3"/><path d="M646.1 106.3l-0.3 8.8" stroke="#7c7c7c" stroke-width="1.5"/><path d="M665.8 101.8l2.4 13.1" stroke="#646464" stroke-width="2.0"/><path d="M681.8 99.0l-0.8 13.1" stroke="#626262" stroke-width="2.0"/><path d="M700.9 104.3l1.8 6.1" stroke="#535353" stroke-width="1.2"/><path d="M309.1 108.1l-2.4 10.5" stroke="#484848" stroke-width="1.2"/><path d="M318.1 108.0l2.1 10.0" stroke="#414141" stroke-width="1.2"/><path d="M438.2 106.8l-2.3 13.4" stroke="#7d7d7d" stroke-width="2.0"/><path d="M442.1 108.7l-2.0 7.2" stroke="#969696" stroke-width="1.3"/><path d="M456.3 107.9l-0.5 12.0" stroke="#6f6f6f" stroke-width="1.2"/><path d="M463.9 110.3l-1.8 5.3" stroke="#7f7f7f" stroke-width="1.0"/><path d="M543.4 109.5l0.0 10.4" stroke="#fafafa" stroke-width="1.5"/><path d="M544.2 106.8l0.6 9.9" stroke="#f1f1f1" stroke-width="2.0"/><path d="M546.3 110.3l-0.6 10.9" stroke="#fafafa" stroke-width="2.0"/><path d="M552.8 105.3l2.5 6.2" stroke="#fafafa" stroke-width="2.0"/><path d="M556.2 106.2l0.5 6.5" stroke="#fafafa" stroke-width="2.0"/><path d="M552.6 107.3l-0.8 5.4" stroke="#fafafa" stroke-width="2.0"/><path d="M563.1 108.3l-0.6 11.1" stroke="#f6f6f6" stroke-width="1.3"/><path d="M564.2 112.4l0.1 9.0" stroke="#f3f3f3" stroke-width="2.0"/><path d="M561.9 112.5l-0.5 7.8" stroke="#e1e1e1" stroke-width="1.3"/><path d="M572.6 112.4l-0.2 10.5" stroke="#efefef" stroke-width="1.5"/><path d="M578.6 104.6l0.4 10.1" stroke="#fafafa" stroke-width="2.0"/><path d="M583.8 112.3l0.5 8.7" stroke="#c0c0c0" stroke-width="1.5"/><path d="M588.9 112.0l1.2 6.1" stroke="#dddddd" stroke-width="1.2"/><path d="M594.5 110.8l-1.7 9.1" stroke="#c4c4c4" stroke-width="1.5"/><path d="M596.9 104.4l1.3 10.8" stroke="#a1a1a1" stroke-width="1.5"/><path d="M601.9 112.8l-0.6 12.8" stroke="#6e6e6e" stroke-width="1.5"/><path d="M610.5 106.2l-0.1 10.2" stroke="#6b6b6b" stroke-width="1.5"/><path d="M628.6 105.0l-1.9 6.3" stroke="#8d8d8d" stroke-width="1.0"/><path d="M632.1 106.8l2.0 7.3" stroke="#7e7e7e" stroke-width="1.5"/><path d="M644.5 104.6l1.0 5.4" stroke="#808080" stroke-width="2.0"/><path d="M667.3 106.3l0.9 13.6" stroke="#959595" stroke-width="1.3"/><path d="M681.2 104.7l0.7 11.0" stroke="#6a6a6a" stroke-width="2.0"/><path d="M693.9 108.3l-2.5 5.4" stroke="#404040" stroke-width="1.2"/><path d="M295.2 113.3l-2.3 12.9" stroke="#545454" stroke-width="1.2"/><path d="M306.7 117.8l-1.9 12.3" stroke="#626262" stroke-width="1.5"/><path d="M319.9 115.9l-2.1 10.7" stroke="#424242" stroke-width="2.0"/><path d="M430.4 113.8l1.2 13.0" stroke="#797979" stroke-width="1.3"/><path d="M446.4 114.2l1.2 7.5" stroke="#858585" stroke-width="2.0"/><path d="M451.7 110.8l-1.3 13.0" stroke="#808080" stroke-width="2.0"/><path d="M462.1 115.5l1.5 13.2" stroke="#707070" stroke-width="1.0"/><path d="M549.8 110.7l-0.2 6.0" stroke="#efefef" stroke-width="1.2"/><path d="M547.5 118.2l-0.9 6.8" stroke="#fafafa" stroke-width="2.0"/><path d="M554.2 113.7l-0.3 11.0" stroke="#e7e7e7" stroke-width="2.0"/><path d="M558.6 115.7l0.8 12.3" stroke="#fafafa" stroke-width="2.0"/><path d="M554.9 117.7l-0.7 7.4" stroke="#dfdfdf" stroke-width="1.0"/><path d="M568.6 118.2l-0.2 13.0" stroke="#d5d5d5" stroke-width="1.0"/><path d="M564.8 112.9l-2.0 9.8" stroke="#b7b7b7" stroke-width="1.3"/><path d="M577.7 116.5l1.5 12.7" stroke="#fafafa" stroke-width="2.0"/><path d="M579.3 114.9l1.9 6.3" stroke="#fafafa" stroke-width="1.5"/><path d="M584.8 114.7l-0.4 13.4" stroke="#bababa" stroke-width="1.2"/><path d="M581.8 114.7l0.5 8.9" stroke="#c4c4c4" stroke-width="1.2"/><path d="M598.5 117.4l-2.0 8.1" stroke="#a0a0a0" stroke-width="2.0"/><path d="M593.9 118.3l-2.1 7.5" stroke="#9c9c9c" stroke-width="1.2"/><path d="M608.8 111.4l0.9 7.3" stroke="#868686" stroke-width="2.0"/><path d="M619.8 114.9l1.6 5.9" stroke="#868686" stroke-width="1.2"/><path d="M620.6 115.2l-1.3 8.5" stroke="#838383" stroke-width="1.0"/><path d="M630.1 112.7l-1.8 9.7" stroke="#7c7c7c" stroke-width="2.0"/><path d="M646.3 111.5l1.9 6.3" stroke="#6c6c6c" stroke-width="1.5"/><path d="M658.1 113.0l-1.5 6.6" stroke="#626262" stroke-width="1.5"/><path d="M668.7 111.9l-0.5 10.5" stroke="#5f5f5f" stroke-width="1.5"/><path d="M701.4 111.2l1.8 13.7" stroke="#9c9c9c" stroke-width="1.0"/><path d="M713.1 115.4l-2.3 5.5" stroke="#363636" stroke-width="2.0"/><path d="M291.0 121.6l1.3 6.0" stroke="#646464" stroke-width="1.5"/><path d="M304.5 116.9l-0.3 11.9" stroke="#858585" stroke-width="1.5"/><path d="M307.0 119.2l-2.4 10.1" stroke="#a2a2a2" stroke-width="1.2"/><path d="M320.3 119.1l2.4 6.5" stroke="#959595" stroke-width="1.0"/><path d="M428.5 122.6l-0.7 12.5" stroke="#3a3a3a" stroke-width="1.5"/><path d="M439.0 119.5l-2.3 6.2" stroke="#797979" stroke-width="1.3"/><path d="M444.7 122.4l-0.8 8.2" stroke="#838383" stroke-width="2.0"/><path d="M453.0 118.8l1.2 10.5" stroke="#969696" stroke-width="1.3"/><path d="M468.7 118.5l-0.4 12.8" stroke="#797979" stroke-width="2.0"/><path d="M548.0 124.8l-0.2 8.5" stroke="#f4f4f4" stroke-width="2.0"/><path d="M543.0 123.9l2.0 8.7" stroke="#fafafa" stroke-width="1.5"/><path d="M557.4 120.0l-1.1 6.0" stroke="#dadada" stroke-width="2.0"/><path d="M551.7 123.4l0.5 6.7" stroke="#b7b7b7" stroke-width="2.0"/><path d="M569.5 116.4l1.1 12.6" stroke="#bdbdbd" stroke-width="2.0"/><path d="M570.2 124.9l-2.0 5.3" stroke="#c6c6c6" stroke-width="2.0"/><path d="M572.6 121.0l1.0 6.7" stroke="#dedede" stroke-width="1.5"/><path d="M584.0 123.7l-1.6 7.9" stroke="#c1c1c1" stroke-width="1.3"/><path d="M585.8 119.1l0.8 13.6" stroke="#c5c5c5" stroke-width="2.0"/><path d="M599.6 118.7l0.2 10.3" stroke="#828282" stroke-width="1.0"/><path d="M605.9 120.8l2.1 5.9" stroke="#7a7a7a" stroke-width="1.5"/><path d="M612.4 124.9l-0.5 6.2" stroke="#757575" stroke-width="2.0"/><path d="M636.0 119.0l-1.9 9.8" stroke="#686868" stroke-width="1.2"/><path d="M640.1 124.2l0.6 9.9" stroke="#9b9b9b" stroke-width="1.0"/><path d="M769.7 119.1l1.1 5.5" stroke="#373737" stroke-width="1.2"/><path d="M290.4 126.1l-2.3 10.3" stroke="#7f7f7f" stroke-width="1.2"/><path d="M306.6 124.0l0.4 8.6" stroke="#909090" stroke-width="1.0"/><path d="M302.0 129.7l1.7 7.7" stroke="#8d8d8d" stroke-width="2.0"/><path d="M315.2 130.7l0.3 7.3" stroke="#6b6b6b" stroke-width="1.5"/><path d="M321.0 122.4l-2.4 7.0" stroke="#848484" stroke-width="1.5"/><path d="M404.9 128.2l0.2 7.3" stroke="#414141" stroke-width="1.5"/><path d="M411.2 126.2l-2.4 7.4" stroke="#878787" stroke-width="1.5"/><path d="M420.6 124.8l0.6 7.4" stroke="#888888" stroke-width="1.0"/><path d="M435.1 123.4l-2.1 5.5" stroke="#7f7f7f" stroke-width="1.3"/><path d="M446.3 130.8l0.1 13.4" stroke="#828282" stroke-width="2.0"/><path d="M455.0 126.9l-1.9 9.5" stroke="#9b9b9b" stroke-width="2.0"/><path d="M461.4 127.0l-2.0 10.7" stroke="#7a7a7a" stroke-width="2.0"/><path d="M547.5 130.2l-1.1 6.8" stroke="#c1c1c1" stroke-width="1.0"/><path d="M545.5 122.2l1.0 12.5" stroke="#ececec" stroke-width="1.2"/><path d="M551.5 128.0l1.3 8.1" stroke="#acacac" stroke-width="1.0"/><path d="M555.2 127.9l-1.8 10.0" stroke="#a4a4a4" stroke-width="1.5"/><path d="M568.3 126.0l-0.0 13.9" stroke="#828282" stroke-width="1.5"/><path d="M567.4 130.8l0.9 6.2" stroke="#9d9d9d" stroke-width="1.0"/><path d="M570.9 122.4l-0.2 13.4" stroke="#b0b0b0" stroke-width="1.5"/><path d="M572.7 127.2l-1.0 6.6" stroke="#b4b4b4" stroke-width="1.2"/><path d="M586.1 122.9l-0.2 10.2" stroke="#8e8e8e" stroke-width="1.5"/><path d="M593.4 128.6l0.7 7.4" stroke="#9b9b9b" stroke-width="1.0"/><path d="M599.3 125.1l-0.7 6.7" stroke="#959595" stroke-width="1.3"/><path d="M604.3 128.5l1.8 12.8" stroke="#666666" stroke-width="2.0"/><path d="M618.6 124.5l0.0 9.5" stroke="#6b6b6b" stroke-width="1.2"/><path d="M622.4 126.8l0.8 11.4" stroke="#8f8f8f" stroke-width="1.0"/><path d="M637.1 124.4l1.7 13.1" stroke="#7a7a7a" stroke-width="1.0"/><path d="M660.0 126.5l-0.6 5.2" stroke="#7f7f7f" stroke-width="1.2"/><path d="M668.1 123.1l1.0 9.4" stroke="#6d6d6d" stroke-width="1.2"/><path d="M670.6 122.9l-1.1 7.0" stroke="#434343" stroke-width="1.2"/><path d="M684.6 128.3l-1.4 5.6" stroke="#3e3e3e" stroke-width="1.2"/><path d="M783.3 127.8l1.1 6.4" stroke="#9c9c9c" stroke-width="1.0"/><path d="M795.7 130.4l0.4 7.6" stroke="#393939" stroke-width="1.5"/><path d="M219.9 129.9l-0.6 9.7" stroke="#858585" stroke-width="1.3"/><path d="M299.3 135.7l0.4 12.8" stroke="#6a6a6a" stroke-width="1.2"/><path d="M300.2 136.2l2.2 7.9" stroke="#c4c4c4" stroke-width="1.5"/><path d="M305.8 128.9l-1.0 11.1" stroke="#9d9d9d" stroke-width="1.5"/><path d="M319.5 129.9l-0.2 7.2" stroke="#909090" stroke-width="1.3"/><path d="M329.6 132.7l1.9 13.7" stroke="#a0a0a0" stroke-width="1.2"/><path d="M334.4 134.3l-1.1 7.5" stroke="#9e9e9e" stroke-width="1.3"/><path d="M413.9 136.5l0.0 7.2" stroke="#a6a6a6" stroke-width="1.3"/><path d="M420.6 135.6l2.0 5.9" stroke="#727272" stroke-width="2.0"/><path d="M445.4 131.7l-1.8 12.0" stroke="#5a5a5a" stroke-width="1.5"/><path d="M452.7 130.1l-0.6 10.9" stroke="#8c8c8c" stroke-width="1.3"/><path d="M461.7 134.7l0.9 10.3" stroke="#828282" stroke-width="1.5"/><path d="M567.7 128.8l1.8 10.7" stroke="#686868" stroke-width="1.5"/><path d="M579.9 132.5l-1.7 11.3" stroke="#909090" stroke-width="2.0"/><path d="M579.1 135.4l-1.0 8.0" stroke="#848484" stroke-width="1.5"/><path d="M586.9 128.5l-0.6 11.9" stroke="#646464" stroke-width="1.5"/><path d="M597.1 135.0l-0.2 7.8" stroke="#737373" stroke-width="1.3"/><path d="M619.3 135.6l0.2 13.4" stroke="#818181" stroke-width="1.0"/><path d="M628.5 136.5l1.0 10.7" stroke="#767676" stroke-width="1.2"/><path d="M638.4 133.7l1.5 12.1" stroke="#5e5e5e" stroke-width="2.0"/><path d="M647.2 136.7l2.2 8.4" stroke="#9e9e9e" stroke-width="1.3"/><path d="M655.9 136.6l-2.3 10.8" stroke="#575757" stroke-width="1.2"/><path d="M677.9 131.1l-1.8 9.8" stroke="#626262" stroke-width="1.5"/><path d="M695.3 136.0l-0.7 10.3" stroke="#434343" stroke-width="2.0"/><path d="M781.3 134.0l-2.0 6.2" stroke="#474747" stroke-width="2.0"/><path d="M296.4 140.3l-2.4 5.2" stroke="#7d7d7d" stroke-width="1.0"/><path d="M300.9 134.3l-0.4 8.6" stroke="#a5a5a5" stroke-width="1.5"/><path d="M304.4 139.1l1.5 6.3" stroke="#989898" stroke-width="1.5"/><path d="M310.5 139.2l-0.5 12.1" stroke="#8e8e8e" stroke-width="1.3"/><path d="M326.8 140.6l-1.4 5.9" stroke="#b7b7b7" stroke-width="2.0"/><path d="M326.7 134.5l-0.8 5.4" stroke="#bdbdbd" stroke-width="1.2"/><path d="M336.0 135.8l1.9 13.3" stroke="#656565" stroke-width="1.2"/><path d="M378.6 134.4l1.5 13.3" stroke="#373737" stroke-width="2.0"/><path d="M390.5 138.6l-1.9 8.3" stroke="#9b9b9b" stroke-width="1.3"/><path d="M403.5 141.5l0.5 8.7" stroke="#a3a3a3" stroke-width="1.2"/><path d="M403.6 138.6l-0.5 8.7" stroke="#808080" stroke-width="1.5"/><path d="M417.0 139.6l1.5 13.1" stroke="#959595" stroke-width="1.2"/><path d="M426.3 141.7l-0.3 11.4" stroke="#696969" stroke-width="2.0"/><path d="M439.1 141.2l2.4 10.2" stroke="#8d8d8d" stroke-width="1.0"/><path d="M449.3 138.7l-1.6 7.4" stroke="#686868" stroke-width="1.5"/><path d="M547.4 138.0l-0.3 8.4" stroke="#464646" stroke-width="1.5"/><path d="M563.2 135.1l-1.0 10.6" stroke="#6c6c6c" stroke-width="1.5"/><path d="M575.3 141.1l1.8 10.1" stroke="#727272" stroke-width="2.0"/><path d="M599.5 136.9l0.7 5.4" stroke="#818181" stroke-width="1.2"/><path d="M611.8 134.5l1.9 8.5" stroke="#9d9d9d" stroke-width="1.5"/><path d="M628.7 140.4l-2.3 5.1" stroke="#9e9e9e" stroke-width="1.0"/><path d="M638.1 142.4l-1.7 8.3" stroke="#767676" stroke-width="1.3"/><path d="M648.1 137.2l-0.6 6.6" stroke="#6f6f6f" stroke-width="2.0"/><path d="M673.7 140.9l0.3 10.9" stroke="#6f6f6f" stroke-width="1.2"/><path d="M728.0 139.2l2.4 8.2" stroke="#414141" stroke-width="2.0"/><path d="M788.7 136.3l1.7 13.1" stroke="#565656" stroke-width="1.2"/><path d="M201.2 142.8l1.6 8.2" stroke="#6c6c6c" stroke-width="1.5"/><path d="M220.5 144.1l-2.2 6.9" stroke="#414141" stroke-width="2.0"/><path d="M299.8 140.4l0.2 11.2" stroke="#686868" stroke-width="2.0"/><path d="M307.9 147.0l0.4 9.0" stroke="#6a6a6a" stroke-width="1.2"/><path d="M316.7 146.4l-1.0 9.1" stroke="#696969" stroke-width="1.5"/><path d="M325.9 146.3l-1.9 13.0" stroke="#7f7f7f" stroke-width="1.5"/><path d="M378.1 143.6l1.7 10.0" stroke="#626262" stroke-width="2.0"/><path d="M383.8 144.0l0.8 13.3" stroke="#6c6c6c" stroke-width="1.2"/><path d="M392.0 146.5l1.8 13.3" stroke="#969696" stroke-width="1.5"/><path d="M402.5 147.5l-0.0 13.4" stroke="#a1a1a1" stroke-width="2.0"/><path d="M406.0 144.6l-1.1 7.2" stroke="#8a8a8a" stroke-width="2.0"/><path d="M413.4 144.4l-0.6 13.5" stroke="#6f6f6f" stroke-width="1.2"/><path d="M421.5 145.2l0.9 10.5" stroke="#7e7e7e" stroke-width="1.5"/><path d="M452.8 145.9l-0.2 8.0" stroke="#5c5c5c" stroke-width="1.5"/><path d="M461.3 147.7l-1.0 13.0" stroke="#6d6d6d" stroke-width="2.0"/><path d="M564.7 143.8l0.1 9.8" stroke="#454545" stroke-width="1.2"/><path d="M596.6 142.5l2.5 13.0" stroke="#777777" stroke-width="1.3"/><path d="M601.5 148.2l-0.5 10.8" stroke="#818181" stroke-width="1.5"/><path d="M612.8 140.9l1.4 11.6" stroke="#878787" stroke-width="1.2"/><path d="M611.3 147.7l0.4 6.9" stroke="#989898" stroke-width="2.0"/><path d="M628.4 145.2l1.7 10.9" stroke="#6d6d6d" stroke-width="1.2"/><path d="M640.3 140.2l0.2 7.8" stroke="#6e6e6e" stroke-width="2.0"/><path d="M657.3 145.3l-0.8 12.6" stroke="#737373" stroke-width="1.0"/><path d="M667.1 141.4l1.2 7.5" stroke="#999999" stroke-width="1.0"/><path d="M678.5 147.3l2.5 13.2" stroke="#8d8d8d" stroke-width="1.5"/><path d="M679.3 145.0l1.0 7.2" stroke="#a3a3a3" stroke-width="1.2"/><path d="M686.8 147.8l1.3 9.9" stroke="#6f6f6f" stroke-width="2.0"/><path d="M692.0 144.4l2.0 6.7" stroke="#363636" stroke-width="1.2"/><path d="M786.5 145.6l-1.7 5.6" stroke="#464646" stroke-width="1.5"/><path d="M213.5 150.8l0.7 13.8" stroke="#838383" stroke-width="1.0"/><path d="M293.6 154.3l-1.6 5.5" stroke="#666666" stroke-width="2.0"/><path d="M300.4 150.4l-1.8 10.7" stroke="#616161" stroke-width="2.0"/><path d="M314.9 149.5l0.8 10.3" stroke="#787878" stroke-width="1.0"/><path d="M321.0 148.9l-0.3 9.7" stroke="#6b6b6b" stroke-width="1.2"/><path d="M335.5 153.3l-0.4 12.0" stroke="#808080" stroke-width="2.0"/><path d="M345.6 149.1l-1.0 13.0" stroke="#9d9d9d" stroke-width="1.0"/><path d="M358.8 147.7l-0.7 10.9" stroke="#989898" stroke-width="2.0"/><path d="M357.7 153.2l2.2 8.9" stroke="#848484" stroke-width="1.2"/><path d="M366.8 151.2l-0.6 12.3" stroke="#9d9d9d" stroke-width="1.5"/><path d="M384.6 149.8l-1.2 5.7" stroke="#9e9e9e" stroke-width="1.5"/><path d="M393.1 150.3l-0.5 9.6" stroke="#959595" stroke-width="2.0"/><path d="M390.5 147.3l-0.5 11.8" stroke="#9b9b9b" stroke-width="1.5"/><path d="M402.3 146.5l2.1 12.4" stroke="#8f8f8f" stroke-width="1.0"/><path d="M416.3 153.6l-0.6 8.3" stroke="#727272" stroke-width="1.5"/><path d="M422.1 148.7l0.4 13.1" stroke="#6b6b6b" stroke-width="2.0"/><path d="M430.0 149.8l-2.3 10.3" stroke="#656565" stroke-width="2.0"/><path d="M456.2 153.4l-2.0 12.3" stroke="#585858" stroke-width="1.2"/><path d="M597.4 149.0l0.6 9.5" stroke="#a1a1a1" stroke-width="1.0"/><path d="M605.2 150.7l1.0 5.1" stroke="#727272" stroke-width="2.0"/><path d="M623.7 154.8l0.8 8.2" stroke="#7e7e7e" stroke-width="2.0"/><path d="M645.3 147.3l2.0 12.0" stroke="#6a6a6a" stroke-width="1.5"/><path d="M661.4 151.9l-2.1 5.8" stroke="#727272" stroke-width="1.0"/><path d="M671.4 151.7l0.2 6.2" stroke="#979797" stroke-width="1.5"/><path d="M671.8 151.7l0.7 6.5" stroke="#949494" stroke-width="2.0"/><path d="M689.7 149.1l-1.6 7.6" stroke="#7e7e7e" stroke-width="1.2"/><path d="M736.4 149.8l1.0 13.1" stroke="#3f3f3f" stroke-width="1.2"/><path d="M788.2 152.5l-2.1 12.1" stroke="#363636" stroke-width="2.0"/><path d="M799.5 150.6l-1.0 13.3" stroke="#4d4d4d" stroke-width="1.2"/><path d="M192.5 153.6l0.6 7.8" stroke="#3b3b3b" stroke-width="2.0"/><path d="M209.4 153.1l0.4 10.0" stroke="#848484" stroke-width="1.2"/><path d="M224.0 152.0l1.5 5.5" stroke="#4f4f4f" stroke-width="2.0"/><path d="M235.9 158.8l0.6 8.1" stroke="#3b3b3b" stroke-width="1.2"/><path d="M306.8 158.1l-0.3 11.0" stroke="#686868" stroke-width="1.5"/><path d="M316.5 158.7l-1.1 12.6" stroke="#686868" stroke-width="1.2"/><path d="M321.6 159.5l-2.1 13.6" stroke="#989898" stroke-width="1.3"/><path d="M338.1 152.1l-2.5 13.8" stroke="#9e9e9e" stroke-width="1.2"/><path d="M346.2 161.0l-1.3 10.7" stroke="#b0b0b0" stroke-width="1.3"/><path d="M355.4 158.9l-1.5 10.4" stroke="#939393" stroke-width="2.0"/><path d="M369.8 155.2l-0.1 12.0" stroke="#9b9b9b" stroke-width="2.0"/><path d="M373.7 153.8l2.2 7.6" stroke="#959595" stroke-width="2.0"/><path d="M388.7 153.1l1.1 11.4" stroke="#7e7e7e" stroke-width="2.0"/><path d="M392.6 156.4l1.7 11.4" stroke="#646464" stroke-width="1.2"/><path d="M404.2 153.8l-1.9 7.8" stroke="#565656" stroke-width="1.5"/><path d="M412.0 153.7l-1.0 7.6" stroke="#7e7e7e" stroke-width="1.2"/><path d="M421.9 159.7l2.4 12.1" stroke="#6b6b6b" stroke-width="1.2"/><path d="M437.1 160.8l2.3 8.6" stroke="#646464" stroke-width="1.2"/><path d="M440.9 152.8l-2.5 10.3" stroke="#9a9a9a" stroke-width="1.0"/><path d="M454.7 158.2l-0.6 5.4" stroke="#616161" stroke-width="1.5"/><path d="M469.1 152.7l-0.2 8.3" stroke="#757575" stroke-width="1.3"/><path d="M592.0 156.1l0.2 13.1" stroke="#a0a0a0" stroke-width="1.0"/><path d="M603.0 159.6l0.2 12.9" stroke="#7b7b7b" stroke-width="1.3"/><path d="M613.3 160.6l-1.0 7.9" stroke="#848484" stroke-width="1.5"/><path d="M638.8 160.3l-0.7 10.5" stroke="#9c9c9c" stroke-width="1.0"/><path d="M641.2 157.5l-0.6 13.2" stroke="#6d6d6d" stroke-width="2.0"/><path d="M659.7 160.7l1.4 13.3" stroke="#5a5a5a" stroke-width="2.0"/><path d="M670.2 152.9l-1.7 13.5" stroke="#8d8d8d" stroke-width="1.0"/><path d="M683.9 153.6l0.4 12.2" stroke="#6e6e6e" stroke-width="1.2"/><path d="M697.5 152.9l2.4 10.4" stroke="#424242" stroke-width="1.5"/><path d="M737.8 160.6l2.1 13.1" stroke="#3b3b3b" stroke-width="1.2"/><path d="M776.4 153.8l2.1 7.5" stroke="#404040" stroke-width="1.2"/><path d="M190.9 158.7l-1.1 8.0" stroke="#585858" stroke-width="1.5"/><path d="M201.1 160.3l-1.8 12.9" stroke="#696969" stroke-width="1.5"/><path d="M297.0 158.9l1.1 8.1" stroke="#616161" stroke-width="1.2"/><path d="M301.9 164.2l-0.8 6.8" stroke="#7b7b7b" stroke-width="1.3"/><path d="M310.8 161.6l1.4 7.1" stroke="#686868" stroke-width="2.0"/><path d="M323.7 163.4l-1.5 8.6" stroke="#848484" stroke-width="2.0"/><path d="M334.5 165.3l1.9 13.7" stroke="#919191" stroke-width="1.0"/><path d="M341.4 160.4l1.0 13.3" stroke="#838383" stroke-width="1.5"/><path d="M357.3 165.1l-1.0 8.9" stroke="#9a9a9a" stroke-width="2.0"/><path d="M358.3 162.2l1.5 9.0" stroke="#c0c0c0" stroke-width="1.2"/><path d="M369.6 166.6l-0.0 12.4" stroke="#a2a2a2" stroke-width="1.5"/><path d="M375.8 164.1l-0.6 6.7" stroke="#838383" stroke-width="1.0"/><path d="M371.4 162.9l1.6 7.7" stroke="#868686" stroke-width="1.5"/><path d="M387.0 163.9l-1.8 7.8" stroke="#9f9f9f" stroke-width="1.0"/><path d="M384.5 161.6l0.3 6.3" stroke="#cbcbcb" stroke-width="1.5"/><path d="M390.3 165.3l1.0 5.9" stroke="#7b7b7b" stroke-width="2.0"/><path d="M409.2 162.2l-2.5 11.5" stroke="#909090" stroke-width="1.0"/><path d="M411.8 164.3l2.1 9.8" stroke="#5e5e5e" stroke-width="2.0"/><path d="M421.2 163.3l-0.7 5.7" stroke="#555555" stroke-width="1.2"/><path d="M451.4 164.3l2.1 6.7" stroke="#4e4e4e" stroke-width="1.2"/><path d="M541.4 165.3l1.6 5.1" stroke="#969696" stroke-width="1.0"/><path d="M589.5 165.4l1.8 5.6" stroke="#434343" stroke-width="2.0"/><path d="M592.2 166.2l0.3 5.5" stroke="#959595" stroke-width="1.0"/><path d="M605.2 164.4l1.5 7.7" stroke="#646464" stroke-width="1.5"/><path d="M618.7 158.7l-2.2 8.4" stroke="#868686" stroke-width="2.0"/><path d="M622.5 165.2l-0.7 11.2" stroke="#636363" stroke-width="1.2"/><path d="M662.0 160.9l2.4 6.6" stroke="#3a3a3a" stroke-width="1.5"/><path d="M673.6 165.1l2.0 6.3" stroke="#6d6d6d" stroke-width="1.5"/><path d="M687.9 160.5l-1.7 10.6" stroke="#737373" stroke-width="1.2"/><path d="M748.6 164.5l-1.3 12.2" stroke="#454545" stroke-width="2.0"/><path d="M943.8 162.4l-1.3 11.1" stroke="#3f3f3f" stroke-width="1.5"/><path d="M197.0 164.7l-0.5 5.8" stroke="#545454" stroke-width="1.5"/><path d="M200.7 166.3l-0.7 8.0" stroke="#909090" stroke-width="1.0"/><path d="M215.9 168.9l1.5 14.0" stroke="#707070" stroke-width="2.0"/><path d="M226.1 166.2l-1.4 9.7" stroke="#868686" stroke-width="1.0"/><path d="M265.2 171.2l-0.9 8.3" stroke="#363636" stroke-width="2.0"/><path d="M277.1 168.8l-0.1 10.0" stroke="#454545" stroke-width="1.2"/><path d="M304.6 165.0l-1.3 13.8" stroke="#626262" stroke-width="1.5"/><path d="M327.9 166.5l-2.0 10.8" stroke="#707070" stroke-width="1.2"/><path d="M331.2 169.1l-2.0 5.3" stroke="#919191" stroke-width="1.0"/><path d="M341.3 169.6l-2.0 5.1" stroke="#888888" stroke-width="2.0"/><path d="M351.9 166.7l-1.1 11.8" stroke="#838383" stroke-width="1.2"/><path d="M362.2 167.8l1.8 10.6" stroke="#9c9c9c" stroke-width="1.2"/><path d="M375.9 172.9l-2.1 9.1" stroke="#a6a6a6" stroke-width="1.5"/><path d="M375.7 167.1l2.1 5.1" stroke="#999999" stroke-width="2.0"/><path d="M382.7 167.1l-2.3 10.9" stroke="#8d8d8d" stroke-width="2.0"/><path d="M394.5 167.7l-1.5 5.4" stroke="#676767" stroke-width="1.5"/><path d="M409.9 170.1l1.3 5.9" stroke="#5a5a5a" stroke-width="2.0"/><path d="M413.4 164.3l2.5 10.8" stroke="#4f4f4f" stroke-width="2.0"/><path d="M445.6 171.3l1.7 7.6" stroke="#5c5c5c" stroke-width="1.5"/><path d="M452.5 170.3l2.0 7.8" stroke="#888888" stroke-width="1.5"/><path d="M461.6 169.4l-0.3 6.0" stroke="#f4f4f4" stroke-width="1.2"/><path d="M468.7 167.9l-1.9 9.3" stroke="#d7d7d7" stroke-width="2.0"/><path d="M540.7 171.5l0.4 12.5" stroke="#777777" stroke-width="2.0"/><path d="M561.7 164.0l-0.5 5.3" stroke="#969696" stroke-width="1.0"/><path d="M617.5 171.9l-2.3 10.8" stroke="#797979" stroke-width="1.2"/><path d="M678.3 165.0l1.0 7.1" stroke="#434343" stroke-width="1.2"/><path d="M764.6 165.2l2.3 10.8" stroke="#4c4c4c" stroke-width="1.2"/><path d="M209.6 175.5l-1.3 13.9" stroke="#737373" stroke-width="2.0"/><path d="M213.3 172.9l1.2 12.0" stroke="#686868" stroke-width="2.0"/><path d="M225.5 171.9l-2.0 13.6" stroke="#676767" stroke-width="2.0"/><path d="M303.4 174.2l-1.4 13.3" stroke="#383838" stroke-width="2.0"/><path d="M356.9 176.6l0.5 9.2" stroke="#969696" stroke-width="1.3"/><path d="M373.0 175.5l1.9 8.9" stroke="#838383" stroke-width="1.3"/><path d="M380.5 177.5l-1.5 5.1" stroke="#676767" stroke-width="1.2"/><path d="M396.9 178.9l1.3 9.4" stroke="#8a8a8a" stroke-width="1.3"/><path d="M400.3 171.1l1.2 10.8" stroke="#646464" stroke-width="1.2"/><path d="M413.8 177.6l2.1 6.6" stroke="#858585" stroke-width="1.0"/><path d="M429.6 170.1l-2.5 12.1" stroke="#808080" stroke-width="1.5"/><path d="M434.1 176.9l0.3 7.6" stroke="#bebebe" stroke-width="1.2"/><path d="M430.6 178.5l-2.5 8.7" stroke="#c0c0c0" stroke-width="1.0"/><path d="M448.2 178.8l2.5 9.6" stroke="#fafafa" stroke-width="1.5"/><path d="M445.5 178.2l-1.1 13.7" stroke="#fafafa" stroke-width="2.0"/><path d="M445.4 173.7l-1.2 12.4" stroke="#fafafa" stroke-width="1.5"/><path d="M456.5 175.9l1.3 13.0" stroke="#fafafa" stroke-width="1.2"/><path d="M450.9 177.7l2.0 10.2" stroke="#fafafa" stroke-width="2.0"/><path d="M457.0 174.3l-0.6 10.7" stroke="#fafafa" stroke-width="1.3"/><path d="M463.2 178.6l0.4 11.7" stroke="#fafafa" stroke-width="1.2"/><path d="M466.4 177.0l-1.6 10.9" stroke="#fafafa" stroke-width="1.3"/><path d="M465.4 178.4l-1.2 8.3" stroke="#fafafa" stroke-width="1.3"/><path d="M544.6 172.2l0.5 7.2" stroke="#fafafa" stroke-width="1.2"/><path d="M541.1 171.8l0.0 5.8" stroke="#fafafa" stroke-width="1.2"/><path d="M546.3 175.0l-1.5 7.5" stroke="#fafafa" stroke-width="2.0"/><path d="M541.2 174.2l0.8 11.4" stroke="#fafafa" stroke-width="2.0"/><path d="M551.4 171.5l-2.0 8.7" stroke="#d0d0d0" stroke-width="2.0"/><path d="M558.0 170.2l2.5 10.3" stroke="#c1c1c1" stroke-width="1.5"/><path d="M563.3 171.0l0.0 12.3" stroke="#717171" stroke-width="2.0"/><path d="M625.0 175.3l-0.2 10.6" stroke="#595959" stroke-width="2.0"/><path d="M699.0 176.8l-1.4 11.4" stroke="#494949" stroke-width="2.0"/><path d="M341.9 178.9l-1.7 9.1" stroke="#3f3f3f" stroke-width="2.0"/><path d="M408.4 182.6l1.0 11.6" stroke="#4e4e4e" stroke-width="1.5"/><path d="M410.8 184.2l-2.2 12.0" stroke="#5e5e5e" stroke-width="2.0"/><path d="M421.3 183.3l2.4 5.9" stroke="#e1e1e1" stroke-width="1.5"/><path d="M422.2 179.4l-1.8 9.5" stroke="#ebebeb" stroke-width="2.0"/><path d="M430.2 176.2l-1.0 6.3" stroke="#fafafa" stroke-width="2.0"/><path d="M436.9 181.2l1.7 7.6" stroke="#fafafa" stroke-width="1.0"/><path d="M434.3 178.6l-2.4 8.9" stroke="#fafafa" stroke-width="2.0"/><path d="M447.8 177.7l-0.1 6.6" stroke="#fafafa" stroke-width="1.0"/><path d="M441.0 176.4l0.3 8.0" stroke="#fafafa" stroke-width="1.5"/><path d="M442.4 178.3l-0.6 6.5" stroke="#fafafa" stroke-width="1.2"/><path d="M457.6 176.7l-2.1 10.3" stroke="#fafafa" stroke-width="1.2"/><path d="M457.8 178.5l0.1 9.4" stroke="#fafafa" stroke-width="2.0"/><path d="M456.7 176.2l2.0 11.2" stroke="#fafafa" stroke-width="1.3"/><path d="M467.4 182.2l-0.3 10.4" stroke="#fafafa" stroke-width="2.0"/><path d="M468.2 182.7l-0.1 8.7" stroke="#fafafa" stroke-width="2.0"/><path d="M463.0 176.4l0.5 11.0" stroke="#fafafa" stroke-width="1.2"/><path d="M549.5 176.6l2.0 9.6" stroke="#fafafa" stroke-width="1.5"/><path d="M542.1 177.1l1.6 7.4" stroke="#fafafa" stroke-width="2.0"/><path d="M544.4 183.2l1.5 9.3" stroke="#fafafa" stroke-width="2.0"/><path d="M553.8 177.8l-2.0 12.0" stroke="#fafafa" stroke-width="1.0"/><path d="M550.7 177.0l0.7 6.8" stroke="#fafafa" stroke-width="1.2"/><path d="M558.6 180.7l-0.0 5.3" stroke="#f0f0f0" stroke-width="2.0"/><path d="M569.4 181.1l2.3 9.5" stroke="#6d6d6d" stroke-width="2.0"/><path d="M572.5 184.2l2.4 12.0" stroke="#515151" stroke-width="2.0"/><path d="M635.6 184.2l1.8 13.7" stroke="#464646" stroke-width="2.0"/><path d="M648.0 182.9l-1.6 13.5" stroke="#434343" stroke-width="2.0"/></g>

</g>
<g shape-rendering="auto">
<polygon points="400,183 468,183 468,166 440,172 415,178" fill="rgb(110,255,70)" opacity="0.55" filter="url(#sb2)"/>
<polygon points="418,183 468,183 468,170 440,175 425,179" fill="rgb(225,225,35)" filter="url(#sb1)"/>
<polygon points="428,182 468,182 468,174 445,177.5 432,180" fill="rgb(255,10,0)" filter="url(#sb1)"/>
<polygon points="546,183 590,183 575,177 560,173 546,170" fill="rgb(110,255,70)" opacity="0.5" filter="url(#sb2)"/>
<polygon points="546,182 570,182 560,178 546,174" fill="rgb(225,225,35)" filter="url(#sb1)"/>
<polygon points="546,181.5 560,181.5 552,178.5 546,176.5" fill="rgb(255,10,0)" filter="url(#sb1)"/>
</g>

</g>
<rect x="468" y="77" width="78" height="108" fill="#0a0023"/>
<g clip-path="url(#cp1)"><g filter="url(#cm)" shape-rendering="auto">
<g filter="url(#gb)">
<rect x="140" y="177" width="60" height="14" fill="#060606"/>
<rect x="200" y="177" width="10" height="14" fill="#0f0f0f"/>
<rect x="210" y="177" width="10" height="14" fill="#212121"/>
<rect x="220" y="177" width="80" height="14" fill="#0f0f0f"/>
<rect x="300" y="177" width="40" height="14" fill="#212121"/>
<rect x="340" y="177" width="10" height="14" fill="#0f0f0f"/>
<rect x="350" y="177" width="120" height="14" fill="#212121"/>
<rect x="470" y="177" width="70" height="14" fill="#000000"/>
<rect x="540" y="177" width="140" height="14" fill="#212121"/>
<rect x="680" y="177" width="130" height="14" fill="#0f0f0f"/>
<rect x="810" y="177" width="120" height="14" fill="#060606"/>
<rect x="930" y="177" width="10" height="14" fill="#0f0f0f"/>
<rect x="940" y="177" width="20" height="14" fill="#212121"/>
<rect x="140" y="191" width="60" height="6" fill="#060606"/>
<rect x="200" y="191" width="10" height="6" fill="#292929"/>
<rect x="210" y="191" width="10" height="6" fill="#212121"/>
<rect x="220" y="191" width="80" height="6" fill="#0f0f0f"/>
<rect x="300" y="191" width="40" height="6" fill="#212121"/>
<rect x="340" y="191" width="70" height="6" fill="#0f0f0f"/>
<rect x="410" y="191" width="60" height="6" fill="#212121"/>
<rect x="470" y="191" width="70" height="6" fill="#000000"/>
<rect x="540" y="191" width="10" height="6" fill="#292929"/>
<rect x="550" y="191" width="10" height="6" fill="#303030"/>
<rect x="560" y="191" width="50" height="6" fill="#292929"/>
<rect x="610" y="191" width="40" height="6" fill="#303030"/>
<rect x="650" y="191" width="30" height="6" fill="#292929"/>
<rect x="680" y="191" width="130" height="6" fill="#0f0f0f"/>
<rect x="810" y="191" width="120" height="6" fill="#060606"/>
<rect x="930" y="191" width="10" height="6" fill="#0f0f0f"/>
<rect x="940" y="191" width="20" height="6" fill="#212121"/>
<rect x="140" y="197" width="60" height="6" fill="#060606"/>
<rect x="200" y="197" width="10" height="6" fill="#373737"/>
<rect x="210" y="197" width="20" height="6" fill="#212121"/>
<rect x="230" y="197" width="70" height="6" fill="#0f0f0f"/>
<rect x="300" y="197" width="10" height="6" fill="#212121"/>
<rect x="310" y="197" width="10" height="6" fill="#292929"/>
<rect x="320" y="197" width="20" height="6" fill="#212121"/>
<rect x="340" y="197" width="80" height="6" fill="#0f0f0f"/>
<rect x="420" y="197" width="50" height="6" fill="#212121"/>
<rect x="470" y="197" width="70" height="6" fill="#000000"/>
<rect x="540" y="197" width="70" height="6" fill="#303030"/>
<rect x="610" y="197" width="10" height="6" fill="#5e5e5e"/>
<rect x="620" y="197" width="10" height="6" fill="#4c4c4c"/>
<rect x="630" y="197" width="10" height="6" fill="#5e5e5e"/>
<rect x="640" y="197" width="10" height="6" fill="#4c4c4c"/>
<rect x="650" y="197" width="10" height="6" fill="#3e3e3e"/>
<rect x="660" y="197" width="20" height="6" fill="#292929"/>
<rect x="680" y="197" width="10" height="6" fill="#212121"/>
<rect x="690" y="197" width="120" height="6" fill="#0f0f0f"/>
<rect x="810" y="197" width="120" height="6" fill="#060606"/>
<rect x="930" y="197" width="10" height="6" fill="#0f0f0f"/>
<rect x="940" y="197" width="20" height="6" fill="#212121"/>
<rect x="140" y="203" width="60" height="6" fill="#060606"/>
<rect x="200" y="203" width="10" height="6" fill="#3e3e3e"/>
<rect x="210" y="203" width="20" height="6" fill="#212121"/>
<rect x="230" y="203" width="70" height="6" fill="#0f0f0f"/>
<rect x="300" y="203" width="10" height="6" fill="#212121"/>
<rect x="310" y="203" width="10" height="6" fill="#292929"/>
<rect x="320" y="203" width="20" height="6" fill="#212121"/>
<rect x="340" y="203" width="80" height="6" fill="#0f0f0f"/>
<rect x="420" y="203" width="20" height="6" fill="#212121"/>
<rect x="440" y="203" width="30" height="6" fill="#292929"/>
<rect x="470" y="203" width="70" height="6" fill="#000000"/>
<rect x="540" y="203" width="30" height="6" fill="#303030"/>
<rect x="570" y="203" width="10" height="6" fill="#3e3e3e"/>
<rect x="580" y="203" width="10" height="6" fill="#303030"/>
<rect x="590" y="203" width="10" height="6" fill="#4c4c4c"/>
<rect x="600" y="203" width="10" height="6" fill="#303030"/>
<rect x="610" y="203" width="40" height="6" fill="#737373"/>
<rect x="650" y="203" width="10" height="6" fill="#4c4c4c"/>
<rect x="660" y="203" width="10" height="6" fill="#303030"/>
<rect x="670" y="203" width="10" height="6" fill="#292929"/>
<rect x="680" y="203" width="40" height="6" fill="#212121"/>
<rect x="720" y="203" width="90" height="6" fill="#0f0f0f"/>
<rect x="810" y="203" width="120" height="6" fill="#060606"/>
<rect x="930" y="203" width="10" height="6" fill="#0f0f0f"/>
<rect x="940" y="203" width="20" height="6" fill="#212121"/>
<rect x="140" y="209" width="60" height="6" fill="#060606"/>
<rect x="200" y="209" width="10" height="6" fill="#737373"/>
<rect x="210" y="209" width="20" height="6" fill="#212121"/>
<rect x="230" y="209" width="70" height="6" fill="#0f0f0f"/>
<rect x="300" y="209" width="10" height="6" fill="#212121"/>
<rect x="310" y="209" width="10" height="6" fill="#292929"/>
<rect x="320" y="209" width="10" height="6" fill="#212121"/>
<rect x="330" y="209" width="10" height="6" fill="#373737"/>
<rect x="340" y="209" width="80" height="6" fill="#0f0f0f"/>
<rect x="420" y="209" width="10" height="6" fill="#212121"/>
<rect x="430" y="209" width="40" height="6" fill="#292929"/>
<rect x="470" y="209" width="70" height="6" fill="#000000"/>
<rect x="540" y="209" width="50" height="6" fill="#3e3e3e"/>
<rect x="590" y="209" width="20" height="6" fill="#4c4c4c"/>
<rect x="610" y="209" width="10" height="6" fill="#737373"/>
<rect x="620" y="209" width="20" height="6" fill="#5e5e5e"/>
<rect x="640" y="209" width="10" height="6" fill="#737373"/>
<rect x="650" y="209" width="10" height="6" fill="#303030"/>
<rect x="660" y="209" width="20" height="6" fill="#292929"/>
<rect x="680" y="209" width="40" height="6" fill="#212121"/>
<rect x="720" y="209" width="90" height="6" fill="#0f0f0f"/>
<rect x="810" y="209" width="120" height="6" fill="#060606"/>
<rect x="930" y="209" width="10" height="6" fill="#0f0f0f"/>
<rect x="940" y="209" width="20" height="6" fill="#212121"/>
<rect x="140" y="215" width="60" height="6" fill="#060606"/>
<rect x="200" y="215" width="10" height="6" fill="#4c4c4c"/>
<rect x="210" y="215" width="20" height="6" fill="#212121"/>
<rect x="230" y="215" width="60" height="6" fill="#0f0f0f"/>
<rect x="290" y="215" width="10" height="6" fill="#212121"/>
<rect x="300" y="215" width="20" height="6" fill="#373737"/>
<rect x="320" y="215" width="10" height="6" fill="#212121"/>
<rect x="330" y="215" width="10" height="6" fill="#3e3e3e"/>
<rect x="340" y="215" width="60" height="6" fill="#0f0f0f"/>
<rect x="400" y="215" width="20" height="6" fill="#212121"/>
<rect x="420" y="215" width="50" height="6" fill="#292929"/>
<rect x="470" y="215" width="70" height="6" fill="#000000"/>
<rect x="540" y="215" width="20" height="6" fill="#4c4c4c"/>
<rect x="560" y="215" width="10" height="6" fill="#3e3e3e"/>
<rect x="570" y="215" width="10" height="6" fill="#4c4c4c"/>
<rect x="580" y="215" width="30" height="6" fill="#3e3e3e"/>
<rect x="610" y="215" width="20" height="6" fill="#4c4c4c"/>
<rect x="630" y="215" width="20" height="6" fill="#3e3e3e"/>
<rect x="650" y="215" width="10" height="6" fill="#303030"/>
<rect x="660" y="215" width="20" height="6" fill="#292929"/>
<rect x="680" y="215" width="40" height="6" fill="#212121"/>
<rect x="720" y="215" width="20" height="6" fill="#0f0f0f"/>
<rect x="740" y="215" width="10" height="6" fill="#212121"/>
<rect x="750" y="215" width="60" height="6" fill="#0f0f0f"/>
<rect x="810" y="215" width="120" height="6" fill="#060606"/>
<rect x="930" y="215" width="10" height="6" fill="#0f0f0f"/>
<rect x="940" y="215" width="20" height="6" fill="#212121"/>
<rect x="140" y="221" width="60" height="6" fill="#060606"/>
<rect x="200" y="221" width="10" height="6" fill="#3e3e3e"/>
<rect x="210" y="221" width="20" height="6" fill="#212121"/>
<rect x="230" y="221" width="60" height="6" fill="#0f0f0f"/>
<rect x="290" y="221" width="10" height="6" fill="#212121"/>
<rect x="300" y="221" width="10" height="6" fill="#737373"/>
<rect x="310" y="221" width="10" height="6" fill="#3e3e3e"/>
<rect x="320" y="221" width="10" height="6" fill="#212121"/>
<rect x="330" y="221" width="10" height="6" fill="#4c4c4c"/>
<rect x="340" y="221" width="60" height="6" fill="#0f0f0f"/>
<rect x="400" y="221" width="20" height="6" fill="#212121"/>
<rect x="420" y="221" width="50" height="6" fill="#292929"/>
<rect x="470" y="221" width="70" height="6" fill="#000000"/>
<rect x="540" y="221" width="10" height="6" fill="#4c4c4c"/>
<rect x="550" y="221" width="10" height="6" fill="#5e5e5e"/>
<rect x="560" y="221" width="10" height="6" fill="#4c4c4c"/>
<rect x="570" y="221" width="10" height="6" fill="#5e5e5e"/>
<rect x="580" y="221" width="10" height="6" fill="#4c4c4c"/>
<rect x="590" y="221" width="60" height="6" fill="#3e3e3e"/>
<rect x="650" y="221" width="10" height="6" fill="#303030"/>
<rect x="660" y="221" width="20" height="6" fill="#292929"/>
<rect x="680" y="221" width="40" height="6" fill="#212121"/>
<rect x="720" y="221" width="10" height="6" fill="#0f0f0f"/>
<rect x="730" y="221" width="30" height="6" fill="#212121"/>
<rect x="760" y="221" width="10" height="6" fill="#0f0f0f"/>
<rect x="770" y="221" width="10" height="6" fill="#212121"/>
<rect x="780" y="221" width="10" height="6" fill="#0f0f0f"/>
<rect x="790" y="221" width="10" height="6" fill="#212121"/>
<rect x="800" y="221" width="10" height="6" fill="#0f0f0f"/>
<rect x="810" y="221" width="120" height="6" fill="#060606"/>
<rect x="930" y="221" width="10" height="6" fill="#0f0f0f"/>
<rect x="940" y="221" width="20" height="6" fill="#212121"/>
<rect x="140" y="227" width="60" height="6" fill="#060606"/>
<rect x="200" y="227" width="10" height="6" fill="#4c4c4c"/>
<rect x="210" y="227" width="10" height="6" fill="#212121"/>
<rect x="220" y="227" width="10" height="6" fill="#292929"/>
<rect x="230" y="227" width="10" height="6" fill="#212121"/>
<rect x="240" y="227" width="50" height="6" fill="#0f0f0f"/>
<rect x="290" y="227" width="10" height="6" fill="#292929"/>
<rect x="300" y="227" width="10" height="6" fill="#4c4c4c"/>
<rect x="310" y="227" width="10" height="6" fill="#373737"/>
<rect x="320" y="227" width="10" height="6" fill="#212121"/>
<rect x="330" y="227" width="10" height="6" fill="#737373"/>
<rect x="340" y="227" width="10" height="6" fill="#0f0f0f"/>
<rect x="350" y="227" width="10" height="6" fill="#212121"/>
<rect x="360" y="227" width="50" height="6" fill="#0f0f0f"/>
<rect x="410" y="227" width="10" height="6" fill="#212121"/>
<rect x="420" y="227" width="50" height="6" fill="#292929"/>
<rect x="470" y="227" width="70" height="6" fill="#000000"/>
<rect x="540" y="227" width="10" height="6" fill="#3e3e3e"/>
<rect x="550" y="227" width="20" height="6" fill="#4c4c4c"/>
<rect x="570" y="227" width="10" height="6" fill="#5e5e5e"/>
<rect x="580" y="227" width="70" height="6" fill="#3e3e3e"/>
<rect x="650" y="227" width="10" height="6" fill="#5e5e5e"/>
<rect x="660" y="227" width="20" height="6" fill="#292929"/>
<rect x="680" y="227" width="10" height="6" fill="#212121"/>
<rect x="690" y="227" width="40" height="6" fill="#0f0f0f"/>
<rect x="730" y="227" width="10" height="6" fill="#292929"/>
<rect x="740" y="227" width="20" height="6" fill="#212121"/>
<rect x="760" y="227" width="10" height="6" fill="#0f0f0f"/>
<rect x="770" y="227" width="10" height="6" fill="#292929"/>
<rect x="780" y="227" width="10" height="6" fill="#0f0f0f"/>
<rect x="790" y="227" width="10" height="6" fill="#3e3e3e"/>
<rect x="800" y="227" width="10" height="6" fill="#0f0f0f"/>
<rect x="810" y="227" width="120" height="6" fill="#060606"/>
<rect x="930" y="227" width="10" height="6" fill="#0f0f0f"/>
<rect x="940" y="227" width="20" height="6" fill="#212121"/>
<rect x="140" y="233" width="60" height="6" fill="#060606"/>
<rect x="200" y="233" width="10" height="6" fill="#3e3e3e"/>
<rect x="210" y="233" width="10" height="6" fill="#212121"/>
<rect x="220" y="233" width="10" height="6" fill="#292929"/>
<rect x="230" y="233" width="10" height="6" fill="#212121"/>
<rect x="240" y="233" width="50" height="6" fill="#0f0f0f"/>
<rect x="290" y="233" width="10" height="6" fill="#373737"/>
<rect x="300" y="233" width="10" height="6" fill="#737373"/>
<rect x="310" y="233" width="10" height="6" fill="#373737"/>
<rect x="320" y="233" width="10" height="6" fill="#292929"/>
<rect x="330" y="233" width="10" height="6" fill="#737373"/>
<rect x="340" y="233" width="10" height="6" fill="#0f0f0f"/>
<rect x="350" y="233" width="10" height="6" fill="#373737"/>
<rect x="360" y="233" width="10" height="6" fill="#212121"/>
<rect x="370" y="233" width="30" height="6" fill="#0f0f0f"/>
<rect x="400" y="233" width="70" height="6" fill="#292929"/>
<rect x="470" y="233" width="70" height="6" fill="#000000"/>
<rect x="540" y="233" width="10" height="6" fill="#303030"/>
<rect x="550" y="233" width="20" height="6" fill="#3e3e3e"/>
<rect x="570" y="233" width="10" height="6" fill="#4c4c4c"/>
<rect x="580" y="233" width="10" height="6" fill="#3e3e3e"/>
<rect x="590" y="233" width="10" height="6" fill="#303030"/>
<rect x="600" y="233" width="10" height="6" fill="#3e3e3e"/>
<rect x="610" y="233" width="10" height="6" fill="#4c4c4c"/>
<rect x="620" y="233" width="10" height="6" fill="#3e3e3e"/>
<rect x="630" y="233" width="10" height="6" fill="#303030"/>
<rect x="640" y="233" width="10" height="6" fill="#3e3e3e"/>
<rect x="650" y="233" width="10" height="6" fill="#5e5e5e"/>
<rect x="660" y="233" width="20" height="6" fill="#292929"/>
<rect x="680" y="233" width="10" height="6" fill="#212121"/>
<rect x="690" y="233" width="40" height="6" fill="#0f0f0f"/>
<rect x="730" y="233" width="10" height="6" fill="#292929"/>
<rect x="740" y="233" width="30" height="6" fill="#212121"/>
<rect x="770" y="233" width="10" height="6" fill="#292929"/>
<rect x="780" y="233" width="10" height="6" fill="#212121"/>
<rect x="790" y="233" width="10" height="6" fill="#3e3e3e"/>
<rect x="800" y="233" width="10" height="6" fill="#212121"/>
<rect x="810" y="233" width="10" height="6" fill="#0f0f0f"/>
<rect x="820" y="233" width="110" height="6" fill="#060606"/>
<rect x="930" y="233" width="10" height="6" fill="#0f0f0f"/>
<rect x="940" y="233" width="20" height="6" fill="#212121"/>
<rect x="140" y="239" width="60" height="6" fill="#060606"/>
<rect x="200" y="239" width="10" height="6" fill="#373737"/>
<rect x="210" y="239" width="30" height="6" fill="#212121"/>
<rect x="240" y="239" width="50" height="6" fill="#0f0f0f"/>
<rect x="290" y="239" width="10" height="6" fill="#373737"/>
<rect x="300" y="239" width="10" height="6" fill="#737373"/>
<rect x="310" y="239" width="20" height="6" fill="#373737"/>
<rect x="330" y="239" width="10" height="6" fill="#737373"/>
<rect x="340" y="239" width="10" height="6" fill="#0f0f0f"/>
<rect x="350" y="239" width="30" height="6" fill="#292929"/>
<rect x="380" y="239" width="10" height="6" fill="#373737"/>
<rect x="390" y="239" width="10" height="6" fill="#3e3e3e"/>
<rect x="400" y="239" width="10" height="6" fill="#292929"/>
<rect x="410" y="239" width="10" height="6" fill="#373737"/>
<rect x="420" y="239" width="50" height="6" fill="#292929"/>
<rect x="470" y="239" width="70" height="6" fill="#000000"/>
<rect x="540" y="239" width="20" height="6" fill="#303030"/>
<rect x="560" y="239" width="20" height="6" fill="#3e3e3e"/>
<rect x="580" y="239" width="20" height="6" fill="#373737"/>
<rect x="600" y="239" width="10" height="6" fill="#4c4c4c"/>
<rect x="610" y="239" width="10" height="6" fill="#737373"/>
<rect x="620" y="239" width="10" height="6" fill="#4c4c4c"/>
<rect x="630" y="239" width="10" height="6" fill="#373737"/>
<rect x="640" y="239" width="10" height="6" fill="#4c4c4c"/>
<rect x="650" y="239" width="10" height="6" fill="#373737"/>
<rect x="660" y="239" width="10" height="6" fill="#292929"/>
<rect x="670" y="239" width="10" height="6" fill="#303030"/>
<rect x="680" y="239" width="10" height="6" fill="#212121"/>
<rect x="690" y="239" width="40" height="6" fill="#0f0f0f"/>
<rect x="730" y="239" width="20" height="6" fill="#212121"/>
<rect x="750" y="239" width="10" height="6" fill="#0f0f0f"/>
<rect x="760" y="239" width="20" height="6" fill="#212121"/>
<rect x="780" y="239" width="20" height="6" fill="#292929"/>
<rect x="800" y="239" width="10" height="6" fill="#212121"/>
<rect x="810" y="239" width="10" height="6" fill="#0f0f0f"/>
<rect x="820" y="239" width="110" height="6" fill="#060606"/>
<rect x="930" y="239" width="10" height="6" fill="#0f0f0f"/>
<rect x="940" y="239" width="20" height="6" fill="#212121"/>
<rect x="140" y="245" width="50" height="6" fill="#060606"/>
<rect x="190" y="245" width="10" height="6" fill="#0f0f0f"/>
<rect x="200" y="245" width="10" height="6" fill="#737373"/>
<rect x="210" y="245" width="20" height="6" fill="#212121"/>
<rect x="230" y="245" width="60" height="6" fill="#0f0f0f"/>
<rect x="290" y="245" width="10" height="6" fill="#292929"/>
<rect x="300" y="245" width="10" height="6" fill="#4c4c4c"/>
<rect x="310" y="245" width="10" height="6" fill="#373737"/>
<rect x="320" y="245" width="10" height="6" fill="#3e3e3e"/>
<rect x="330" y="245" width="10" height="6" fill="#737373"/>
<rect x="340" y="245" width="10" height="6" fill="#212121"/>
<rect x="350" y="245" width="10" height="6" fill="#292929"/>
<rect x="360" y="245" width="40" height="6" fill="#373737"/>
<rect x="400" y="245" width="10" height="6" fill="#3e3e3e"/>
<rect x="410" y="245" width="10" height="6" fill="#373737"/>
<rect x="420" y="245" width="40" height="6" fill="#292929"/>
<rect x="460" y="245" width="10" height="6" fill="#212121"/>
<rect x="470" y="245" width="70" height="6" fill="#000000"/>
<rect x="540" y="245" width="20" height="6" fill="#292929"/>
<rect x="560" y="245" width="10" height="6" fill="#3e3e3e"/>
<rect x="570" y="245" width="10" height="6" fill="#303030"/>
<rect x="580" y="245" width="20" height="6" fill="#373737"/>
<rect x="600" y="245" width="10" height="6" fill="#4c4c4c"/>
<rect x="610" y="245" width="10" height="6" fill="#737373"/>
<rect x="620" y="245" width="20" height="6" fill="#4c4c4c"/>
<rect x="640" y="245" width="10" height="6" fill="#373737"/>
<rect x="650" y="245" width="10" height="6" fill="#303030"/>
<rect x="660" y="245" width="20" height="6" fill="#292929"/>
<rect x="680" y="245" width="10" height="6" fill="#212121"/>
<rect x="690" y="245" width="40" height="6" fill="#0f0f0f"/>
<rect x="730" y="245" width="40" height="6" fill="#212121"/>
<rect x="770" y="245" width="30" height="6" fill="#292929"/>
<rect x="800" y="245" width="10" height="6" fill="#212121"/>
<rect x="810" y="245" width="10" height="6" fill="#0f0f0f"/>
<rect x="820" y="245" width="110" height="6" fill="#060606"/>
<rect x="930" y="245" width="10" height="6" fill="#0f0f0f"/>
<rect x="940" y="245" width="20" height="6" fill="#212121"/>
<rect x="140" y="251" width="50" height="6" fill="#060606"/>
<rect x="190" y="251" width="10" height="6" fill="#0f0f0f"/>
<rect x="200" y="251" width="10" height="6" fill="#737373"/>
<rect x="210" y="251" width="20" height="6" fill="#212121"/>
<rect x="230" y="251" width="60" height="6" fill="#0f0f0f"/>
<rect x="290" y="251" width="10" height="6" fill="#292929"/>
<rect x="300" y="251" width="10" height="6" fill="#3e3e3e"/>
<rect x="310" y="251" width="10" height="6" fill="#292929"/>
<rect x="320" y="251" width="10" height="6" fill="#373737"/>
<rect x="330" y="251" width="10" height="6" fill="#737373"/>
<rect x="340" y="251" width="10" height="6" fill="#212121"/>
<rect x="350" y="251" width="20" height="6" fill="#373737"/>
<rect x="370" y="251" width="10" height="6" fill="#3e3e3e"/>
<rect x="380" y="251" width="10" height="6" fill="#373737"/>
<rect x="390" y="251" width="10" height="6" fill="#4c4c4c"/>
<rect x="400" y="251" width="20" height="6" fill="#373737"/>
<rect x="420" y="251" width="40" height="6" fill="#292929"/>
<rect x="460" y="251" width="10" height="6" fill="#212121"/>
<rect x="470" y="251" width="70" height="6" fill="#000000"/>
<rect x="540" y="251" width="20" height="6" fill="#0f0f0f"/>
<rect x="560" y="251" width="10" height="6" fill="#292929"/>
<rect x="570" y="251" width="10" height="6" fill="#212121"/>
<rect x="580" y="251" width="10" height="6" fill="#292929"/>
<rect x="590" y="251" width="10" height="6" fill="#303030"/>
<rect x="600" y="251" width="20" height="6" fill="#4c4c4c"/>
<rect x="620" y="251" width="10" height="6" fill="#3e3e3e"/>
<rect x="630" y="251" width="20" height="6" fill="#303030"/>
<rect x="650" y="251" width="10" height="6" fill="#292929"/>
<rect x="660" y="251" width="40" height="6" fill="#212121"/>
<rect x="700" y="251" width="30" height="6" fill="#0f0f0f"/>
<rect x="730" y="251" width="50" height="6" fill="#212121"/>
<rect x="780" y="251" width="30" height="6" fill="#292929"/>
<rect x="810" y="251" width="10" height="6" fill="#212121"/>
<rect x="820" y="251" width="10" height="6" fill="#0f0f0f"/>
<rect x="830" y="251" width="100" height="6" fill="#060606"/>
<rect x="930" y="251" width="10" height="6" fill="#0f0f0f"/>
<rect x="940" y="251" width="20" height="6" fill="#212121"/>
<rect x="140" y="257" width="60" height="6" fill="#060606"/>
<rect x="200" y="257" width="10" height="6" fill="#4c4c4c"/>
<rect x="210" y="257" width="20" height="6" fill="#212121"/>
<rect x="230" y="257" width="60" height="6" fill="#0f0f0f"/>
<rect x="290" y="257" width="40" height="6" fill="#292929"/>
<rect x="330" y="257" width="10" height="6" fill="#4c4c4c"/>
<rect x="340" y="257" width="10" height="6" fill="#292929"/>
<rect x="350" y="257" width="60" height="6" fill="#3e3e3e"/>
<rect x="410" y="257" width="10" height="6" fill="#373737"/>
<rect x="420" y="257" width="40" height="6" fill="#292929"/>
<rect x="460" y="257" width="10" height="6" fill="#212121"/>
<rect x="470" y="257" width="70" height="6" fill="#000000"/>
<rect x="540" y="257" width="20" height="6" fill="#0f0f0f"/>
<rect x="560" y="257" width="20" height="6" fill="#212121"/>
<rect x="580" y="257" width="10" height="6" fill="#292929"/>
<rect x="590" y="257" width="10" height="6" fill="#3e3e3e"/>
<rect x="600" y="257" width="10" height="6" fill="#303030"/>
<rect x="610" y="257" width="10" height="6" fill="#4c4c4c"/>
<rect x="620" y="257" width="30" height="6" fill="#303030"/>
<rect x="650" y="257" width="10" height="6" fill="#292929"/>
<rect x="660" y="257" width="40" height="6" fill="#212121"/>
<rect x="700" y="257" width="40" height="6" fill="#0f0f0f"/>
<rect x="740" y="257" width="10" height="6" fill="#212121"/>
<rect x="750" y="257" width="10" height="6" fill="#0f0f0f"/>
<rect x="760" y="257" width="20" height="6" fill="#212121"/>
<rect x="780" y="257" width="10" height="6" fill="#292929"/>
<rect x="790" y="257" width="10" height="6" fill="#212121"/>
<rect x="800" y="257" width="10" height="6" fill="#292929"/>
<rect x="810" y="257" width="10" height="6" fill="#212121"/>
<rect x="820" y="257" width="10" height="6" fill="#0f0f0f"/>
<rect x="830" y="257" width="100" height="6" fill="#060606"/>
<rect x="930" y="257" width="10" height="6" fill="#0f0f0f"/>
<rect x="940" y="257" width="20" height="6" fill="#292929"/>
<rect x="140" y="263" width="50" height="6" fill="#060606"/>
<rect x="190" y="263" width="10" height="6" fill="#0f0f0f"/>
<rect x="200" y="263" width="10" height="6" fill="#3e3e3e"/>
<rect x="210" y="263" width="10" height="6" fill="#292929"/>
<rect x="220" y="263" width="10" height="6" fill="#212121"/>
<rect x="230" y="263" width="60" height="6" fill="#0f0f0f"/>
<rect x="290" y="263" width="10" height="6" fill="#292929"/>
<rect x="300" y="263" width="10" height="6" fill="#212121"/>
<rect x="310" y="263" width="30" height="6" fill="#292929"/>
<rect x="340" y="263" width="10" height="6" fill="#212121"/>
<rect x="350" y="263" width="10" height="6" fill="#737373"/>
<rect x="360" y="263" width="50" height="6" fill="#3e3e3e"/>
<rect x="410" y="263" width="20" height="6" fill="#373737"/>
<rect x="430" y="263" width="20" height="6" fill="#292929"/>
<rect x="450" y="263" width="20" height="6" fill="#212121"/>
<rect x="470" y="263" width="70" height="6" fill="#000000"/>
<rect x="540" y="263" width="20" height="6" fill="#0f0f0f"/>
<rect x="560" y="263" width="20" height="6" fill="#212121"/>
<rect x="580" y="263" width="10" height="6" fill="#292929"/>
<rect x="590" y="263" width="10" height="6" fill="#3e3e3e"/>
<rect x="600" y="263" width="10" height="6" fill="#303030"/>
<rect x="610" y="263" width="10" height="6" fill="#5e5e5e"/>
<rect x="620" y="263" width="30" height="6" fill="#303030"/>
<rect x="650" y="263" width="10" height="6" fill="#292929"/>
<rect x="660" y="263" width="20" height="6" fill="#212121"/>
<rect x="680" y="263" width="10" height="6" fill="#3e3e3e"/>
<rect x="690" y="263" width="10" height="6" fill="#212121"/>
<rect x="700" y="263" width="30" height="6" fill="#0f0f0f"/>
<rect x="730" y="263" width="20" height="6" fill="#212121"/>
<rect x="750" y="263" width="20" height="6" fill="#0f0f0f"/>
<rect x="770" y="263" width="40" height="6" fill="#212121"/>
<rect x="810" y="263" width="20" height="6" fill="#0f0f0f"/>
<rect x="830" y="263" width="100" height="6" fill="#060606"/>
<rect x="930" y="263" width="10" height="6" fill="#0f0f0f"/>
<rect x="940" y="263" width="20" height="6" fill="#292929"/>
<rect x="140" y="269" width="50" height="6" fill="#060606"/>
<rect x="190" y="269" width="10" height="6" fill="#212121"/>
<rect x="200" y="269" width="10" height="6" fill="#3e3e3e"/>
<rect x="210" y="269" width="10" height="6" fill="#373737"/>
<rect x="220" y="269" width="10" height="6" fill="#212121"/>
<rect x="230" y="269" width="60" height="6" fill="#0f0f0f"/>
<rect x="290" y="269" width="10" height="6" fill="#292929"/>
<rect x="300" y="269" width="10" height="6" fill="#212121"/>
<rect x="310" y="269" width="10" height="6" fill="#292929"/>
<rect x="320" y="269" width="10" height="6" fill="#212121"/>
<rect x="330" y="269" width="20" height="6" fill="#292929"/>
<rect x="350" y="269" width="50" height="6" fill="#3e3e3e"/>
<rect x="400" y="269" width="30" height="6" fill="#373737"/>
<rect x="430" y="269" width="20" height="6" fill="#292929"/>
<rect x="450" y="269" width="20" height="6" fill="#212121"/>
<rect x="470" y="269" width="70" height="6" fill="#000000"/>
<rect x="540" y="269" width="20" height="6" fill="#0f0f0f"/>
<rect x="560" y="269" width="20" height="6" fill="#212121"/>
<rect x="580" y="269" width="10" height="6" fill="#292929"/>
<rect x="590" y="269" width="10" height="6" fill="#3e3e3e"/>
<rect x="600" y="269" width="10" height="6" fill="#303030"/>
<rect x="610" y="269" width="10" height="6" fill="#4c4c4c"/>
<rect x="620" y="269" width="30" height="6" fill="#303030"/>
<rect x="650" y="269" width="10" height="6" fill="#292929"/>
<rect x="660" y="269" width="20" height="6" fill="#212121"/>
<rect x="680" y="269" width="10" height="6" fill="#3e3e3e"/>
<rect x="690" y="269" width="10" height="6" fill="#212121"/>
<rect x="700" y="269" width="40" height="6" fill="#0f0f0f"/>
<rect x="740" y="269" width="10" height="6" fill="#212121"/>
<rect x="750" y="269" width="20" height="6" fill="#0f0f0f"/>
<rect x="770" y="269" width="40" height="6" fill="#212121"/>
<rect x="810" y="269" width="10" height="6" fill="#0f0f0f"/>
<rect x="820" y="269" width="10" height="6" fill="#212121"/>
<rect x="830" y="269" width="10" height="6" fill="#0f0f0f"/>
<rect x="840" y="269" width="90" height="6" fill="#060606"/>
<rect x="930" y="269" width="10" height="6" fill="#0f0f0f"/>
<rect x="940" y="269" width="20" height="6" fill="#292929"/>
<rect x="140" y="275" width="50" height="6" fill="#060606"/>
<rect x="190" y="275" width="10" height="6" fill="#292929"/>
<rect x="200" y="275" width="10" height="6" fill="#a3a3a3"/>
<rect x="210" y="275" width="10" height="6" fill="#373737"/>
<rect x="220" y="275" width="10" height="6" fill="#292929"/>
<rect x="230" y="275" width="20" height="6" fill="#0f0f0f"/>
<rect x="250" y="275" width="30" height="6" fill="#212121"/>
<rect x="280" y="275" width="10" height="6" fill="#0f0f0f"/>
<rect x="290" y="275" width="50" height="6" fill="#292929"/>
<rect x="340" y="275" width="10" height="6" fill="#373737"/>
<rect x="350" y="275" width="40" height="6" fill="#3e3e3e"/>
<rect x="390" y="275" width="10" height="6" fill="#4c4c4c"/>
<rect x="400" y="275" width="20" height="6" fill="#3e3e3e"/>
<rect x="420" y="275" width="10" height="6" fill="#373737"/>
<rect x="430" y="275" width="10" height="6" fill="#292929"/>
<rect x="440" y="275" width="20" height="6" fill="#212121"/>
<rect x="460" y="275" width="10" height="6" fill="#0f0f0f"/>
<rect x="470" y="275" width="70" height="6" fill="#000000"/>
<rect x="540" y="275" width="20" height="6" fill="#0f0f0f"/>
<rect x="560" y="275" width="40" height="6" fill="#212121"/>
<rect x="600" y="275" width="10" height="6" fill="#292929"/>
<rect x="610" y="275" width="10" height="6" fill="#373737"/>
<rect x="620" y="275" width="10" height="6" fill="#292929"/>
<rect x="630" y="275" width="10" height="6" fill="#212121"/>
<rect x="640" y="275" width="10" height="6" fill="#292929"/>
<rect x="650" y="275" width="30" height="6" fill="#212121"/>
<rect x="680" y="275" width="10" height="6" fill="#292929"/>
<rect x="690" y="275" width="10" height="6" fill="#212121"/>
<rect x="700" y="275" width="60" height="6" fill="#0f0f0f"/>
<rect x="760" y="275" width="40" height="6" fill="#212121"/>
<rect x="800" y="275" width="20" height="6" fill="#0f0f0f"/>
<rect x="820" y="275" width="10" height="6" fill="#212121"/>
<rect x="830" y="275" width="10" height="6" fill="#0f0f0f"/>
<rect x="840" y="275" width="90" height="6" fill="#060606"/>
<rect x="930" y="275" width="10" height="6" fill="#0f0f0f"/>
<rect x="940" y="275" width="20" height="6" fill="#292929"/>
<rect x="140" y="281" width="50" height="6" fill="#060606"/>
<rect x="190" y="281" width="10" height="6" fill="#292929"/>
<rect x="200" y="281" width="20" height="6" fill="#4c4c4c"/>
<rect x="220" y="281" width="10" height="6" fill="#292929"/>
<rect x="230" y="281" width="20" height="6" fill="#0f0f0f"/>
<rect x="250" y="281" width="40" height="6" fill="#212121"/>
<rect x="290" y="281" width="10" height="6" fill="#292929"/>
<rect x="300" y="281" width="40" height="6" fill="#373737"/>
<rect x="340" y="281" width="10" height="6" fill="#3e3e3e"/>
<rect x="350" y="281" width="60" height="6" fill="#4c4c4c"/>
<rect x="410" y="281" width="10" height="6" fill="#3e3e3e"/>
<rect x="420" y="281" width="10" height="6" fill="#373737"/>
<rect x="430" y="281" width="10" height="6" fill="#292929"/>
<rect x="440" y="281" width="10" height="6" fill="#212121"/>
<rect x="450" y="281" width="20" height="6" fill="#0f0f0f"/>
<rect x="470" y="281" width="70" height="6" fill="#000000"/>
<rect x="540" y="281" width="20" height="6" fill="#0f0f0f"/>
<rect x="560" y="281" width="50" height="6" fill="#212121"/>
<rect x="610" y="281" width="10" height="6" fill="#292929"/>
<rect x="620" y="281" width="30" height="6" fill="#212121"/>
<rect x="650" y="281" width="30" height="6" fill="#0f0f0f"/>
<rect x="680" y="281" width="10" height="6" fill="#212121"/>
<rect x="690" y="281" width="90" height="6" fill="#0f0f0f"/>
<rect x="780" y="281" width="10" height="6" fill="#212121"/>
<rect x="790" y="281" width="40" height="6" fill="#0f0f0f"/>
<rect x="830" y="281" width="10" height="6" fill="#212121"/>
<rect x="840" y="281" width="20" height="6" fill="#0f0f0f"/>
<rect x="860" y="281" width="70" height="6" fill="#060606"/>
<rect x="930" y="281" width="10" height="6" fill="#0f0f0f"/>
<rect x="940" y="281" width="20" height="6" fill="#292929"/>
<rect x="140" y="287" width="50" height="14" fill="#060606"/>
<rect x="190" y="287" width="10" height="14" fill="#0f0f0f"/>
<rect x="200" y="287" width="20" height="14" fill="#212121"/>
<rect x="220" y="287" width="30" height="14" fill="#0f0f0f"/>
<rect x="250" y="287" width="40" height="14" fill="#212121"/>
<rect x="290" y="287" width="10" height="14" fill="#292929"/>
<rect x="300" y="287" width="40" height="14" fill="#373737"/>
<rect x="340" y="287" width="10" height="14" fill="#292929"/>
<rect x="350" y="287" width="60" height="14" fill="#3e3e3e"/>
<rect x="410" y="287" width="10" height="14" fill="#373737"/>
<rect x="420" y="287" width="20" height="14" fill="#292929"/>
<rect x="440" y="287" width="10" height="14" fill="#212121"/>
<rect x="450" y="287" width="20" height="14" fill="#0f0f0f"/>
<rect x="470" y="287" width="70" height="14" fill="#000000"/>
<rect x="540" y="287" width="20" height="14" fill="#0f0f0f"/>
<rect x="560" y="287" width="90" height="14" fill="#212121"/>
<rect x="650" y="287" width="200" height="14" fill="#0f0f0f"/>
<rect x="850" y="287" width="80" height="14" fill="#060606"/>
<rect x="930" y="287" width="10" height="14" fill="#0f0f0f"/>
<rect x="940" y="287" width="20" height="14" fill="#292929"/>
</g>
<g fill="none" stroke-linecap="round" filter="url(#sb05)"><path d="M647.1 194.5l-1.4 12.1" stroke="#3c3c3c" stroke-width="1.2"/><path d="M203.5 198.2l-2.3 8.3" stroke="#4c4c4c" stroke-width="1.5"/><path d="M585.3 202.7l-2.4 9.7" stroke="#383838" stroke-width="1.5"/><path d="M612.0 196.7l2.1 8.5" stroke="#808080" stroke-width="2.0"/><path d="M633.1 202.9l-0.2 13.4" stroke="#6d6d6d" stroke-width="2.0"/><path d="M654.4 195.3l0.8 12.9" stroke="#4c4c4c" stroke-width="1.5"/><path d="M541.0 205.4l-0.6 7.2" stroke="#353535" stroke-width="2.0"/><path d="M575.3 202.3l2.1 5.7" stroke="#555555" stroke-width="2.0"/><path d="M596.8 208.7l1.0 6.7" stroke="#5d5d5d" stroke-width="1.2"/><path d="M614.1 200.9l-0.2 11.3" stroke="#969696" stroke-width="1.3"/><path d="M629.5 208.4l1.2 10.8" stroke="#8f8f8f" stroke-width="1.2"/><path d="M634.7 205.2l1.7 13.7" stroke="#a2a2a2" stroke-width="2.0"/><path d="M645.1 200.4l2.4 13.7" stroke="#9d9d9d" stroke-width="2.0"/><path d="M655.3 205.9l-0.7 10.3" stroke="#606060" stroke-width="1.5"/><path d="M200.9 207.2l-0.8 6.7" stroke="#999999" stroke-width="1.2"/><path d="M201.5 207.2l-0.2 7.3" stroke="#828282" stroke-width="2.0"/><path d="M334.7 208.1l1.4 10.2" stroke="#464646" stroke-width="1.5"/><path d="M555.1 208.5l0.0 5.5" stroke="#909090" stroke-width="1.3"/><path d="M569.3 212.8l-0.1 11.0" stroke="#595959" stroke-width="1.5"/><path d="M602.3 207.5l-1.5 6.3" stroke="#8e8e8e" stroke-width="1.0"/><path d="M613.0 211.2l0.2 9.8" stroke="#898989" stroke-width="2.0"/><path d="M619.1 211.4l-0.5 13.1" stroke="#939393" stroke-width="1.3"/><path d="M629.6 206.7l2.2 10.4" stroke="#787878" stroke-width="1.0"/><path d="M635.8 213.6l-0.2 12.0" stroke="#898989" stroke-width="1.0"/><path d="M643.1 207.6l1.4 11.3" stroke="#7f7f7f" stroke-width="2.0"/><path d="M644.9 213.7l-0.6 12.6" stroke="#7f7f7f" stroke-width="2.0"/><path d="M206.6 217.6l-0.6 10.9" stroke="#585858" stroke-width="1.2"/><path d="M575.1 220.4l2.3 8.4" stroke="#5d5d5d" stroke-width="1.2"/><path d="M618.9 214.2l0.1 8.3" stroke="#5b5b5b" stroke-width="1.5"/><path d="M637.5 215.8l-2.4 12.5" stroke="#4f4f4f" stroke-width="1.5"/><path d="M650.1 216.0l1.3 6.2" stroke="#414141" stroke-width="1.2"/><path d="M204.1 221.7l-0.2 11.4" stroke="#929292" stroke-width="1.0"/><path d="M301.2 224.4l-1.2 5.7" stroke="#8c8c8c" stroke-width="1.5"/><path d="M305.4 222.4l-1.8 12.7" stroke="#a0a0a0" stroke-width="1.2"/><path d="M557.6 222.1l2.0 6.1" stroke="#848484" stroke-width="2.0"/><path d="M561.9 219.9l1.4 7.1" stroke="#6e6e6e" stroke-width="2.0"/><path d="M570.0 223.1l0.9 7.4" stroke="#6c6c6c" stroke-width="2.0"/><path d="M621.6 222.4l0.6 6.4" stroke="#545454" stroke-width="1.5"/><path d="M637.7 218.7l0.6 11.3" stroke="#535353" stroke-width="1.2"/><path d="M205.9 231.0l1.9 8.7" stroke="#575757" stroke-width="2.0"/><path d="M305.5 225.4l0.6 14.0" stroke="#5f5f5f" stroke-width="1.5"/><path d="M333.0 230.8l-1.8 11.0" stroke="#8b8b8b" stroke-width="1.2"/><path d="M561.1 228.6l-1.2 10.0" stroke="#888888" stroke-width="1.0"/><path d="M571.7 226.3l-0.0 6.0" stroke="#717171" stroke-width="2.0"/><path d="M586.6 230.2l-1.5 13.2" stroke="#4e4e4e" stroke-width="2.0"/><path d="M595.6 225.7l0.6 8.9" stroke="#585858" stroke-width="2.0"/><path d="M601.0 232.4l1.8 11.0" stroke="#585858" stroke-width="1.2"/><path d="M619.5 231.0l-1.3 10.4" stroke="#8c8c8c" stroke-width="1.3"/><path d="M622.3 228.4l2.1 12.9" stroke="#6d6d6d" stroke-width="1.3"/><path d="M657.6 226.0l1.2 9.3" stroke="#747474" stroke-width="1.5"/><path d="M297.2 235.1l0.4 10.0" stroke="#414141" stroke-width="1.5"/><path d="M303.7 236.8l2.1 13.5" stroke="#888888" stroke-width="1.2"/><path d="M333.3 235.1l1.8 12.8" stroke="#949494" stroke-width="1.3"/><path d="M336.9 233.8l-1.6 13.0" stroke="#a0a0a0" stroke-width="2.0"/><path d="M561.1 235.6l-0.9 5.7" stroke="#4b4b4b" stroke-width="1.5"/><path d="M573.2 235.5l-0.3 5.0" stroke="#646464" stroke-width="2.0"/><path d="M597.5 231.8l-0.9 10.9" stroke="#454545" stroke-width="1.5"/><path d="M607.5 232.9l-1.7 11.1" stroke="#4b4b4b" stroke-width="2.0"/><path d="M619.3 230.8l2.2 13.7" stroke="#686868" stroke-width="1.5"/><path d="M623.6 234.4l-1.1 8.0" stroke="#535353" stroke-width="1.2"/><path d="M641.7 231.0l-2.3 12.5" stroke="#525252" stroke-width="1.5"/><path d="M650.4 234.9l-1.5 6.6" stroke="#6d6d6d" stroke-width="1.2"/><path d="M203.8 237.3l2.1 7.0" stroke="#444444" stroke-width="1.2"/><path d="M305.5 240.7l1.9 9.9" stroke="#969696" stroke-width="1.5"/><path d="M313.8 239.4l0.8 11.0" stroke="#464646" stroke-width="1.5"/><path d="M337.2 243.2l2.4 10.7" stroke="#949494" stroke-width="1.2"/><path d="M381.3 240.3l-1.2 8.5" stroke="#424242" stroke-width="2.0"/><path d="M394.5 238.1l-0.1 13.5" stroke="#8b8b8b" stroke-width="1.3"/><path d="M412.6 242.1l-0.8 8.1" stroke="#404040" stroke-width="1.2"/><path d="M590.0 239.1l0.6 10.8" stroke="#414141" stroke-width="2.0"/><path d="M616.5 244.4l1.1 8.4" stroke="#9c9c9c" stroke-width="1.0"/><path d="M622.5 244.7l-0.7 12.8" stroke="#656565" stroke-width="1.2"/><path d="M645.0 240.8l0.3 12.5" stroke="#858585" stroke-width="1.3"/><path d="M207.3 243.9l2.4 8.5" stroke="#a2a2a2" stroke-width="1.3"/><path d="M201.8 246.9l1.9 10.6" stroke="#939393" stroke-width="1.0"/><path d="M305.8 249.2l-0.9 13.1" stroke="#9a9a9a" stroke-width="1.3"/><path d="M318.8 248.2l-1.0 12.3" stroke="#424242" stroke-width="2.0"/><path d="M327.9 250.4l-0.9 6.7" stroke="#828282" stroke-width="1.0"/><path d="M330.7 249.0l-0.7 13.6" stroke="#8d8d8d" stroke-width="1.2"/><path d="M382.1 244.6l1.1 12.5" stroke="#3e3e3e" stroke-width="2.0"/><path d="M588.7 249.0l-1.7 11.7" stroke="#464646" stroke-width="1.2"/><path d="M604.2 242.4l-1.9 13.1" stroke="#626262" stroke-width="2.0"/><path d="M616.4 246.9l1.7 9.2" stroke="#a5a5a5" stroke-width="1.2"/><path d="M619.1 242.6l-1.3 13.9" stroke="#a2a2a2" stroke-width="1.5"/><path d="M632.2 250.6l-1.0 8.7" stroke="#8f8f8f" stroke-width="1.3"/><path d="M208.1 251.2l1.3 12.9" stroke="#949494" stroke-width="1.2"/><path d="M303.6 256.1l-2.2 6.2" stroke="#4a4a4a" stroke-width="1.2"/><path d="M335.5 252.7l-0.9 9.6" stroke="#959595" stroke-width="1.5"/><path d="M396.8 255.3l0.1 13.9" stroke="#696969" stroke-width="1.2"/><path d="M400.5 249.8l-0.1 11.6" stroke="#434343" stroke-width="1.5"/><path d="M606.9 252.6l0.1 6.5" stroke="#575757" stroke-width="2.0"/><path d="M616.9 251.4l-2.1 8.4" stroke="#878787" stroke-width="1.3"/><path d="M623.5 254.7l1.6 11.9" stroke="#7d7d7d" stroke-width="1.0"/><path d="M207.3 257.1l1.2 6.5" stroke="#646464" stroke-width="1.5"/><path d="M336.2 258.4l-1.6 8.0" stroke="#929292" stroke-width="1.3"/><path d="M378.7 261.3l1.2 5.5" stroke="#525252" stroke-width="2.0"/><path d="M387.8 262.7l0.3 9.6" stroke="#4e4e4e" stroke-width="1.2"/><path d="M393.2 260.3l-2.3 13.6" stroke="#494949" stroke-width="1.2"/><path d="M416.9 262.4l-0.4 13.7" stroke="#404040" stroke-width="1.5"/><path d="M209.2 267.4l-0.9 11.1" stroke="#494949" stroke-width="1.2"/><path d="M354.2 261.8l-1.9 7.0" stroke="#a5a5a5" stroke-width="1.2"/><path d="M369.0 266.1l2.3 5.4" stroke="#9c9c9c" stroke-width="1.0"/><path d="M371.5 265.3l1.9 10.5" stroke="#828282" stroke-width="1.3"/><path d="M400.9 266.4l-2.4 6.3" stroke="#4f4f4f" stroke-width="2.0"/><path d="M610.5 264.1l-1.3 6.6" stroke="#838383" stroke-width="1.5"/><path d="M686.6 267.8l-1.2 7.2" stroke="#505050" stroke-width="1.5"/><path d="M357.2 274.1l2.1 5.7" stroke="#7d7d7d" stroke-width="1.0"/><path d="M403.4 268.5l-0.6 11.1" stroke="#4b4b4b" stroke-width="1.2"/><path d="M425.7 270.6l-1.7 5.8" stroke="#4b4b4b" stroke-width="2.0"/><path d="M617.8 272.1l0.9 8.2" stroke="#565656" stroke-width="1.5"/><path d="M680.8 270.0l1.0 12.6" stroke="#4a4a4a" stroke-width="2.0"/><path d="M204.8 274.1l0.2 10.5" stroke="#b5b5b5" stroke-width="1.2"/><path d="M209.5 279.2l-2.5 12.0" stroke="#d4d4d4" stroke-width="2.0"/><path d="M341.3 276.5l1.6 12.8" stroke="#484848" stroke-width="2.0"/><path d="M357.9 276.1l-0.3 7.3" stroke="#787878" stroke-width="1.3"/><path d="M363.5 278.9l-1.0 5.5" stroke="#505050" stroke-width="1.5"/><path d="M397.9 272.3l-1.0 13.9" stroke="#6a6a6a" stroke-width="1.5"/><path d="M208.7 279.4l1.6 8.6" stroke="#616161" stroke-width="1.2"/><path d="M212.0 284.6l-1.7 7.6" stroke="#646464" stroke-width="1.2"/><path d="M308.8 279.9l-1.0 6.8" stroke="#3c3c3c" stroke-width="2.0"/><path d="M343.2 285.4l0.5 7.1" stroke="#484848" stroke-width="1.5"/><path d="M353.1 283.7l2.1 12.7" stroke="#646464" stroke-width="1.2"/><path d="M378.6 280.9l2.1 8.1" stroke="#6d6d6d" stroke-width="1.2"/><path d="M392.9 286.0l2.4 10.8" stroke="#868686" stroke-width="1.3"/><path d="M400.1 282.3l-0.5 9.8" stroke="#5f5f5f" stroke-width="1.2"/><path d="M324.3 285.9l-1.6 5.5" stroke="#4e4e4e" stroke-width="1.2"/><path d="M356.6 292.2l1.0 9.3" stroke="#8d8d8d" stroke-width="1.3"/><path d="M382.6 289.3l0.9 14.0" stroke="#545454" stroke-width="1.2"/><path d="M393.9 284.7l-1.5 7.0" stroke="#484848" stroke-width="1.5"/></g>

</g>
<g shape-rendering="auto" filter="url(#sb05)"><polyline points="204.5,186 204.5,293" fill="none" stroke="rgb(80,190,240)" stroke-width="1" opacity="0.5" stroke-linecap="round"/><polyline points="206.5,186 206.5,293" fill="none" stroke="rgb(80,190,240)" stroke-width="1" opacity="0.4" stroke-linecap="round"/><polyline points="201,195 203,230 205,260 202,290" fill="none" stroke="rgb(70,215,230)" stroke-width="2" opacity="0.55" stroke-linecap="round"/><ellipse cx="204.5" cy="203" rx="1" ry="3" fill="rgb(225,225,35)" opacity="0.8"/><ellipse cx="202.3" cy="213" rx="1" ry="3" fill="rgb(250,30,10)" opacity="0.9"/><ellipse cx="205.8" cy="248" rx="1" ry="3.2" fill="rgb(250,30,10)" opacity="0.9"/><ellipse cx="201" cy="282" rx="2.5" ry="6" fill="rgb(225,225,35)" opacity="0.5"/><ellipse cx="200.5" cy="279" rx="1.5" ry="3.5" fill="rgb(250,30,10)" opacity="0.9"/><polyline points="210.3,195 210.3,199" fill="none" stroke="rgb(70,215,230)" stroke-width="1.5" opacity="0.7" stroke-linecap="round"/><polyline points="212.7,197 212.7,201" fill="none" stroke="rgb(70,215,230)" stroke-width="1.5" opacity="0.7" stroke-linecap="round"/><polyline points="207,198 207,204" fill="none" stroke="rgb(70,215,230)" stroke-width="1.5" opacity="0.7" stroke-linecap="round"/><polyline points="297.5,186 297.5,293" fill="none" stroke="rgb(70,170,240)" stroke-width="1.5" opacity="0.45" stroke-linecap="round"/><polyline points="334,186 334,293" fill="none" stroke="rgb(60,120,245)" stroke-width="1" opacity="0.35" stroke-linecap="round"/><polyline points="297.3,234 297.3,249.5" fill="none" stroke="rgb(225,225,35)" stroke-width="2" opacity="0.9" stroke-linecap="round"/><polyline points="297.3,238 297.3,247" fill="none" stroke="rgb(250,30,10)" stroke-width="1.2" opacity="1.0" stroke-linecap="round"/><polyline points="302.5,222.7 302.5,231" fill="none" stroke="rgb(250,30,10)" stroke-width="1.6" opacity="1.0" stroke-linecap="round"/><polyline points="304.8,239 305.5,242.5" fill="none" stroke="rgb(250,30,10)" stroke-width="2" opacity="1.0" stroke-linecap="round"/><polyline points="303,243.7 303,253" fill="none" stroke="rgb(225,225,35)" stroke-width="1.6" opacity="0.9" stroke-linecap="round"/><polyline points="299,219 299,225" fill="none" stroke="rgb(110,255,70)" stroke-width="1.5" opacity="0.8" stroke-linecap="round"/><polyline points="304,204 306.6,212" fill="none" stroke="rgb(70,215,230)" stroke-width="1.5" opacity="0.8" stroke-linecap="round"/><polyline points="325.3,213.3 328,225 331,238 333,250 334.6,260" fill="none" stroke="rgb(225,225,35)" stroke-width="2.2" opacity="0.85" stroke-linecap="round"/><polyline points="326.5,218 328.5,230" fill="none" stroke="rgb(250,30,10)" stroke-width="1.4" opacity="1.0" stroke-linecap="round"/><polyline points="330,236 332,246" fill="none" stroke="rgb(250,30,10)" stroke-width="1.4" opacity="1.0" stroke-linecap="round"/><polyline points="333,250 334.5,258" fill="none" stroke="rgb(250,30,10)" stroke-width="1.4" opacity="1.0" stroke-linecap="round"/><polyline points="323.5,242.5 323.5,254" fill="none" stroke="rgb(225,225,35)" stroke-width="1.8" opacity="0.85" stroke-linecap="round"/><polyline points="323.5,245 323.5,251" fill="none" stroke="rgb(250,30,10)" stroke-width="1.2" opacity="1.0" stroke-linecap="round"/></g>
</g>
<rect x="468" y="185" width="78" height="108" fill="#0a0023"/>
<g clip-path="url(#cp2)"><g filter="url(#cm)" shape-rendering="auto">
<g filter="url(#gb)">
<rect x="140" y="285" width="60" height="14" fill="#0f0f0f"/>
<rect x="200" y="285" width="50" height="14" fill="#212121"/>
<rect x="250" y="285" width="50" height="14" fill="#181818"/>
<rect x="300" y="285" width="40" height="14" fill="#292929"/>
<rect x="340" y="285" width="10" height="14" fill="#181818"/>
<rect x="350" y="285" width="120" height="14" fill="#212121"/>
<rect x="470" y="285" width="70" height="14" fill="#000000"/>
<rect x="540" y="285" width="220" height="14" fill="#212121"/>
<rect x="760" y="285" width="100" height="14" fill="#181818"/>
<rect x="860" y="285" width="70" height="14" fill="#0f0f0f"/>
<rect x="930" y="285" width="10" height="14" fill="#181818"/>
<rect x="940" y="285" width="20" height="14" fill="#212121"/>
<rect x="140" y="299" width="60" height="6" fill="#0f0f0f"/>
<rect x="200" y="299" width="10" height="6" fill="#373737"/>
<rect x="210" y="299" width="40" height="6" fill="#212121"/>
<rect x="250" y="299" width="50" height="6" fill="#181818"/>
<rect x="300" y="299" width="40" height="6" fill="#292929"/>
<rect x="340" y="299" width="10" height="6" fill="#212121"/>
<rect x="350" y="299" width="90" height="6" fill="#0f0f0f"/>
<rect x="440" y="299" width="30" height="6" fill="#212121"/>
<rect x="470" y="299" width="70" height="6" fill="#000000"/>
<rect x="540" y="299" width="110" height="6" fill="#292929"/>
<rect x="650" y="299" width="10" height="6" fill="#303030"/>
<rect x="660" y="299" width="20" height="6" fill="#292929"/>
<rect x="680" y="299" width="80" height="6" fill="#212121"/>
<rect x="760" y="299" width="90" height="6" fill="#181818"/>
<rect x="850" y="299" width="80" height="6" fill="#0f0f0f"/>
<rect x="930" y="299" width="10" height="6" fill="#181818"/>
<rect x="940" y="299" width="20" height="6" fill="#212121"/>
<rect x="140" y="305" width="60" height="6" fill="#0f0f0f"/>
<rect x="200" y="305" width="10" height="6" fill="#3e3e3e"/>
<rect x="210" y="305" width="40" height="6" fill="#212121"/>
<rect x="250" y="305" width="50" height="6" fill="#181818"/>
<rect x="300" y="305" width="10" height="6" fill="#292929"/>
<rect x="310" y="305" width="10" height="6" fill="#373737"/>
<rect x="320" y="305" width="20" height="6" fill="#292929"/>
<rect x="340" y="305" width="10" height="6" fill="#212121"/>
<rect x="350" y="305" width="90" height="6" fill="#0f0f0f"/>
<rect x="440" y="305" width="30" height="6" fill="#212121"/>
<rect x="470" y="305" width="70" height="6" fill="#000000"/>
<rect x="540" y="305" width="10" height="6" fill="#292929"/>
<rect x="550" y="305" width="60" height="6" fill="#303030"/>
<rect x="610" y="305" width="10" height="6" fill="#8c8c8c"/>
<rect x="620" y="305" width="10" height="6" fill="#5e5e5e"/>
<rect x="630" y="305" width="10" height="6" fill="#4c4c4c"/>
<rect x="640" y="305" width="10" height="6" fill="#5e5e5e"/>
<rect x="650" y="305" width="10" height="6" fill="#4c4c4c"/>
<rect x="660" y="305" width="20" height="6" fill="#303030"/>
<rect x="680" y="305" width="10" height="6" fill="#292929"/>
<rect x="690" y="305" width="70" height="6" fill="#212121"/>
<rect x="760" y="305" width="80" height="6" fill="#181818"/>
<rect x="840" y="305" width="90" height="6" fill="#0f0f0f"/>
<rect x="930" y="305" width="10" height="6" fill="#181818"/>
<rect x="940" y="305" width="20" height="6" fill="#212121"/>
<rect x="140" y="311" width="60" height="6" fill="#0f0f0f"/>
<rect x="200" y="311" width="10" height="6" fill="#3e3e3e"/>
<rect x="210" y="311" width="40" height="6" fill="#212121"/>
<rect x="250" y="311" width="50" height="6" fill="#181818"/>
<rect x="300" y="311" width="10" height="6" fill="#292929"/>
<rect x="310" y="311" width="10" height="6" fill="#373737"/>
<rect x="320" y="311" width="20" height="6" fill="#292929"/>
<rect x="340" y="311" width="10" height="6" fill="#212121"/>
<rect x="350" y="311" width="80" height="6" fill="#0f0f0f"/>
<rect x="430" y="311" width="40" height="6" fill="#212121"/>
<rect x="470" y="311" width="70" height="6" fill="#000000"/>
<rect x="540" y="311" width="10" height="6" fill="#303030"/>
<rect x="550" y="311" width="30" height="6" fill="#3e3e3e"/>
<rect x="580" y="311" width="10" height="6" fill="#303030"/>
<rect x="590" y="311" width="20" height="6" fill="#4c4c4c"/>
<rect x="610" y="311" width="10" height="6" fill="#8c8c8c"/>
<rect x="620" y="311" width="20" height="6" fill="#5e5e5e"/>
<rect x="640" y="311" width="10" height="6" fill="#a3a3a3"/>
<rect x="650" y="311" width="10" height="6" fill="#5e5e5e"/>
<rect x="660" y="311" width="20" height="6" fill="#303030"/>
<rect x="680" y="311" width="30" height="6" fill="#292929"/>
<rect x="710" y="311" width="50" height="6" fill="#212121"/>
<rect x="760" y="311" width="80" height="6" fill="#181818"/>
<rect x="840" y="311" width="90" height="6" fill="#0f0f0f"/>
<rect x="930" y="311" width="10" height="6" fill="#181818"/>
<rect x="940" y="311" width="20" height="6" fill="#212121"/>
<rect x="140" y="317" width="60" height="6" fill="#0f0f0f"/>
<rect x="200" y="317" width="10" height="6" fill="#737373"/>
<rect x="210" y="317" width="40" height="6" fill="#212121"/>
<rect x="250" y="317" width="40" height="6" fill="#181818"/>
<rect x="290" y="317" width="10" height="6" fill="#212121"/>
<rect x="300" y="317" width="10" height="6" fill="#292929"/>
<rect x="310" y="317" width="10" height="6" fill="#373737"/>
<rect x="320" y="317" width="10" height="6" fill="#292929"/>
<rect x="330" y="317" width="10" height="6" fill="#373737"/>
<rect x="340" y="317" width="10" height="6" fill="#212121"/>
<rect x="350" y="317" width="10" height="6" fill="#0f0f0f"/>
<rect x="360" y="317" width="10" height="6" fill="#212121"/>
<rect x="370" y="317" width="40" height="6" fill="#0f0f0f"/>
<rect x="410" y="317" width="50" height="6" fill="#212121"/>
<rect x="460" y="317" width="10" height="6" fill="#292929"/>
<rect x="470" y="317" width="70" height="6" fill="#000000"/>
<rect x="540" y="317" width="10" height="6" fill="#4c4c4c"/>
<rect x="550" y="317" width="20" height="6" fill="#3e3e3e"/>
<rect x="570" y="317" width="10" height="6" fill="#4c4c4c"/>
<rect x="580" y="317" width="10" height="6" fill="#3e3e3e"/>
<rect x="590" y="317" width="20" height="6" fill="#4c4c4c"/>
<rect x="610" y="317" width="10" height="6" fill="#5e5e5e"/>
<rect x="620" y="317" width="10" height="6" fill="#8c8c8c"/>
<rect x="630" y="317" width="10" height="6" fill="#4c4c4c"/>
<rect x="640" y="317" width="10" height="6" fill="#737373"/>
<rect x="650" y="317" width="10" height="6" fill="#3e3e3e"/>
<rect x="660" y="317" width="20" height="6" fill="#303030"/>
<rect x="680" y="317" width="30" height="6" fill="#292929"/>
<rect x="710" y="317" width="50" height="6" fill="#212121"/>
<rect x="760" y="317" width="70" height="6" fill="#181818"/>
<rect x="830" y="317" width="100" height="6" fill="#0f0f0f"/>
<rect x="930" y="317" width="10" height="6" fill="#181818"/>
<rect x="940" y="317" width="20" height="6" fill="#212121"/>
<rect x="140" y="323" width="60" height="6" fill="#0f0f0f"/>
<rect x="200" y="323" width="10" height="6" fill="#737373"/>
<rect x="210" y="323" width="40" height="6" fill="#212121"/>
<rect x="250" y="323" width="40" height="6" fill="#181818"/>
<rect x="290" y="323" width="10" height="6" fill="#212121"/>
<rect x="300" y="323" width="10" height="6" fill="#373737"/>
<rect x="310" y="323" width="10" height="6" fill="#3e3e3e"/>
<rect x="320" y="323" width="10" height="6" fill="#292929"/>
<rect x="330" y="323" width="10" height="6" fill="#3e3e3e"/>
<rect x="340" y="323" width="10" height="6" fill="#212121"/>
<rect x="350" y="323" width="10" height="6" fill="#0f0f0f"/>
<rect x="360" y="323" width="10" height="6" fill="#212121"/>
<rect x="370" y="323" width="40" height="6" fill="#0f0f0f"/>
<rect x="410" y="323" width="40" height="6" fill="#212121"/>
<rect x="450" y="323" width="20" height="6" fill="#292929"/>
<rect x="470" y="323" width="70" height="6" fill="#000000"/>
<rect x="540" y="323" width="20" height="6" fill="#4c4c4c"/>
<rect x="560" y="323" width="10" height="6" fill="#3e3e3e"/>
<rect x="570" y="323" width="10" height="6" fill="#4c4c4c"/>
<rect x="580" y="323" width="20" height="6" fill="#3e3e3e"/>
<rect x="600" y="323" width="30" height="6" fill="#4c4c4c"/>
<rect x="630" y="323" width="10" height="6" fill="#3e3e3e"/>
<rect x="640" y="323" width="10" height="6" fill="#4c4c4c"/>
<rect x="650" y="323" width="30" height="6" fill="#303030"/>
<rect x="680" y="323" width="30" height="6" fill="#292929"/>
<rect x="710" y="323" width="30" height="6" fill="#212121"/>
<rect x="740" y="323" width="20" height="6" fill="#292929"/>
<rect x="760" y="323" width="70" height="6" fill="#181818"/>
<rect x="830" y="323" width="100" height="6" fill="#0f0f0f"/>
<rect x="930" y="323" width="10" height="6" fill="#181818"/>
<rect x="940" y="323" width="20" height="6" fill="#212121"/>
<rect x="140" y="329" width="60" height="6" fill="#0f0f0f"/>
<rect x="200" y="329" width="10" height="6" fill="#737373"/>
<rect x="210" y="329" width="40" height="6" fill="#212121"/>
<rect x="250" y="329" width="40" height="6" fill="#181818"/>
<rect x="290" y="329" width="10" height="6" fill="#212121"/>
<rect x="300" y="329" width="10" height="6" fill="#737373"/>
<rect x="310" y="329" width="10" height="6" fill="#4c4c4c"/>
<rect x="320" y="329" width="10" height="6" fill="#292929"/>
<rect x="330" y="329" width="10" height="6" fill="#4c4c4c"/>
<rect x="340" y="329" width="30" height="6" fill="#212121"/>
<rect x="370" y="329" width="30" height="6" fill="#0f0f0f"/>
<rect x="400" y="329" width="30" height="6" fill="#212121"/>
<rect x="430" y="329" width="10" height="6" fill="#0f0f0f"/>
<rect x="440" y="329" width="10" height="6" fill="#212121"/>
<rect x="450" y="329" width="20" height="6" fill="#292929"/>
<rect x="470" y="329" width="70" height="6" fill="#000000"/>
<rect x="540" y="329" width="10" height="6" fill="#4c4c4c"/>
<rect x="550" y="329" width="10" height="6" fill="#5e5e5e"/>
<rect x="560" y="329" width="10" height="6" fill="#3e3e3e"/>
<rect x="570" y="329" width="10" height="6" fill="#4c4c4c"/>
<rect x="580" y="329" width="70" height="6" fill="#3e3e3e"/>
<rect x="650" y="329" width="10" height="6" fill="#303030"/>
<rect x="660" y="329" width="30" height="6" fill="#292929"/>
<rect x="690" y="329" width="10" height="6" fill="#212121"/>
<rect x="700" y="329" width="10" height="6" fill="#292929"/>
<rect x="710" y="329" width="20" height="6" fill="#212121"/>
<rect x="730" y="329" width="20" height="6" fill="#292929"/>
<rect x="750" y="329" width="10" height="6" fill="#212121"/>
<rect x="760" y="329" width="70" height="6" fill="#181818"/>
<rect x="830" y="329" width="100" height="6" fill="#0f0f0f"/>
<rect x="930" y="329" width="10" height="6" fill="#181818"/>
<rect x="940" y="329" width="20" height="6" fill="#212121"/>
<rect x="140" y="335" width="60" height="6" fill="#0f0f0f"/>
<rect x="200" y="335" width="10" height="6" fill="#3e3e3e"/>
<rect x="210" y="335" width="10" height="6" fill="#292929"/>
<rect x="220" y="335" width="10" height="6" fill="#212121"/>
<rect x="230" y="335" width="10" height="6" fill="#292929"/>
<rect x="240" y="335" width="10" height="6" fill="#212121"/>
<rect x="250" y="335" width="40" height="6" fill="#181818"/>
<rect x="290" y="335" width="10" height="6" fill="#292929"/>
<rect x="300" y="335" width="10" height="6" fill="#737373"/>
<rect x="310" y="335" width="10" height="6" fill="#4c4c4c"/>
<rect x="320" y="335" width="10" height="6" fill="#292929"/>
<rect x="330" y="335" width="10" height="6" fill="#737373"/>
<rect x="340" y="335" width="10" height="6" fill="#212121"/>
<rect x="350" y="335" width="10" height="6" fill="#292929"/>
<rect x="360" y="335" width="10" height="6" fill="#212121"/>
<rect x="370" y="335" width="30" height="6" fill="#0f0f0f"/>
<rect x="400" y="335" width="50" height="6" fill="#212121"/>
<rect x="450" y="335" width="20" height="6" fill="#292929"/>
<rect x="470" y="335" width="70" height="6" fill="#000000"/>
<rect x="540" y="335" width="10" height="6" fill="#3e3e3e"/>
<rect x="550" y="335" width="10" height="6" fill="#4c4c4c"/>
<rect x="560" y="335" width="10" height="6" fill="#3e3e3e"/>
<rect x="570" y="335" width="10" height="6" fill="#4c4c4c"/>
<rect x="580" y="335" width="70" height="6" fill="#3e3e3e"/>
<rect x="650" y="335" width="10" height="6" fill="#8c8c8c"/>
<rect x="660" y="335" width="30" height="6" fill="#292929"/>
<rect x="690" y="335" width="10" height="6" fill="#212121"/>
<rect x="700" y="335" width="10" height="6" fill="#292929"/>
<rect x="710" y="335" width="20" height="6" fill="#212121"/>
<rect x="730" y="335" width="10" height="6" fill="#373737"/>
<rect x="740" y="335" width="10" height="6" fill="#292929"/>
<rect x="750" y="335" width="10" height="6" fill="#212121"/>
<rect x="760" y="335" width="10" height="6" fill="#181818"/>
<rect x="770" y="335" width="10" height="6" fill="#292929"/>
<rect x="780" y="335" width="10" height="6" fill="#181818"/>
<rect x="790" y="335" width="10" height="6" fill="#3e3e3e"/>
<rect x="800" y="335" width="30" height="6" fill="#181818"/>
<rect x="830" y="335" width="100" height="6" fill="#0f0f0f"/>
<rect x="930" y="335" width="10" height="6" fill="#181818"/>
<rect x="940" y="335" width="20" height="6" fill="#212121"/>
<rect x="140" y="341" width="60" height="6" fill="#0f0f0f"/>
<rect x="200" y="341" width="10" height="6" fill="#3e3e3e"/>
<rect x="210" y="341" width="10" height="6" fill="#292929"/>
<rect x="220" y="341" width="10" height="6" fill="#212121"/>
<rect x="230" y="341" width="10" height="6" fill="#292929"/>
<rect x="240" y="341" width="10" height="6" fill="#212121"/>
<rect x="250" y="341" width="40" height="6" fill="#181818"/>
<rect x="290" y="341" width="10" height="6" fill="#373737"/>
<rect x="300" y="341" width="10" height="6" fill="#8c8c8c"/>
<rect x="310" y="341" width="10" height="6" fill="#373737"/>
<rect x="320" y="341" width="10" height="6" fill="#292929"/>
<rect x="330" y="341" width="10" height="6" fill="#8c8c8c"/>
<rect x="340" y="341" width="10" height="6" fill="#212121"/>
<rect x="350" y="341" width="10" height="6" fill="#3e3e3e"/>
<rect x="360" y="341" width="10" height="6" fill="#292929"/>
<rect x="370" y="341" width="10" height="6" fill="#212121"/>
<rect x="380" y="341" width="10" height="6" fill="#0f0f0f"/>
<rect x="390" y="341" width="10" height="6" fill="#292929"/>
<rect x="400" y="341" width="50" height="6" fill="#212121"/>
<rect x="450" y="341" width="10" height="6" fill="#373737"/>
<rect x="460" y="341" width="10" height="6" fill="#292929"/>
<rect x="470" y="341" width="70" height="6" fill="#000000"/>
<rect x="540" y="341" width="10" height="6" fill="#303030"/>
<rect x="550" y="341" width="40" height="6" fill="#3e3e3e"/>
<rect x="590" y="341" width="20" height="6" fill="#303030"/>
<rect x="610" y="341" width="10" height="6" fill="#4c4c4c"/>
<rect x="620" y="341" width="10" height="6" fill="#3e3e3e"/>
<rect x="630" y="341" width="10" height="6" fill="#303030"/>
<rect x="640" y="341" width="10" height="6" fill="#3e3e3e"/>
<rect x="650" y="341" width="10" height="6" fill="#8c8c8c"/>
<rect x="660" y="341" width="10" height="6" fill="#292929"/>
<rect x="670" y="341" width="10" height="6" fill="#303030"/>
<rect x="680" y="341" width="10" height="6" fill="#292929"/>
<rect x="690" y="341" width="10" height="6" fill="#212121"/>
<rect x="700" y="341" width="10" height="6" fill="#292929"/>
<rect x="710" y="341" width="20" height="6" fill="#212121"/>
<rect x="730" y="341" width="20" height="6" fill="#292929"/>
<rect x="750" y="341" width="10" height="6" fill="#212121"/>
<rect x="760" y="341" width="20" height="6" fill="#292929"/>
<rect x="780" y="341" width="10" height="6" fill="#212121"/>
<rect x="790" y="341" width="10" height="6" fill="#3e3e3e"/>
<rect x="800" y="341" width="30" height="6" fill="#181818"/>
<rect x="830" y="341" width="100" height="6" fill="#0f0f0f"/>
<rect x="930" y="341" width="10" height="6" fill="#181818"/>
<rect x="940" y="341" width="20" height="6" fill="#212121"/>
<rect x="140" y="347" width="60" height="6" fill="#0f0f0f"/>
<rect x="200" y="347" width="10" height="6" fill="#3e3e3e"/>
<rect x="210" y="347" width="10" height="6" fill="#292929"/>
<rect x="220" y="347" width="30" height="6" fill="#212121"/>
<rect x="250" y="347" width="40" height="6" fill="#181818"/>
<rect x="290" y="347" width="10" height="6" fill="#373737"/>
<rect x="300" y="347" width="10" height="6" fill="#737373"/>
<rect x="310" y="347" width="10" height="6" fill="#373737"/>
<rect x="320" y="347" width="10" height="6" fill="#292929"/>
<rect x="330" y="347" width="10" height="6" fill="#a3a3a3"/>
<rect x="340" y="347" width="10" height="6" fill="#212121"/>
<rect x="350" y="347" width="10" height="6" fill="#373737"/>
<rect x="360" y="347" width="20" height="6" fill="#292929"/>
<rect x="380" y="347" width="10" height="6" fill="#212121"/>
<rect x="390" y="347" width="20" height="6" fill="#292929"/>
<rect x="410" y="347" width="40" height="6" fill="#212121"/>
<rect x="450" y="347" width="20" height="6" fill="#292929"/>
<rect x="470" y="347" width="70" height="6" fill="#000000"/>
<rect x="540" y="347" width="20" height="6" fill="#303030"/>
<rect x="560" y="347" width="10" height="6" fill="#4c4c4c"/>
<rect x="570" y="347" width="30" height="6" fill="#303030"/>
<rect x="600" y="347" width="10" height="6" fill="#3e3e3e"/>
<rect x="610" y="347" width="10" height="6" fill="#5e5e5e"/>
<rect x="620" y="347" width="10" height="6" fill="#3e3e3e"/>
<rect x="630" y="347" width="10" height="6" fill="#303030"/>
<rect x="640" y="347" width="10" height="6" fill="#3e3e3e"/>
<rect x="650" y="347" width="30" height="6" fill="#303030"/>
<rect x="680" y="347" width="10" height="6" fill="#292929"/>
<rect x="690" y="347" width="40" height="6" fill="#212121"/>
<rect x="730" y="347" width="60" height="6" fill="#292929"/>
<rect x="790" y="347" width="10" height="6" fill="#373737"/>
<rect x="800" y="347" width="30" height="6" fill="#181818"/>
<rect x="830" y="347" width="100" height="6" fill="#0f0f0f"/>
<rect x="930" y="347" width="10" height="6" fill="#181818"/>
<rect x="940" y="347" width="20" height="6" fill="#212121"/>
<rect x="140" y="353" width="60" height="6" fill="#0f0f0f"/>
<rect x="200" y="353" width="10" height="6" fill="#737373"/>
<rect x="210" y="353" width="10" height="6" fill="#373737"/>
<rect x="220" y="353" width="30" height="6" fill="#212121"/>
<rect x="250" y="353" width="40" height="6" fill="#181818"/>
<rect x="290" y="353" width="10" height="6" fill="#292929"/>
<rect x="300" y="353" width="10" height="6" fill="#4c4c4c"/>
<rect x="310" y="353" width="10" height="6" fill="#373737"/>
<rect x="320" y="353" width="10" height="6" fill="#3e3e3e"/>
<rect x="330" y="353" width="10" height="6" fill="#8c8c8c"/>
<rect x="340" y="353" width="30" height="6" fill="#292929"/>
<rect x="370" y="353" width="10" height="6" fill="#373737"/>
<rect x="380" y="353" width="10" height="6" fill="#212121"/>
<rect x="390" y="353" width="10" height="6" fill="#292929"/>
<rect x="400" y="353" width="10" height="6" fill="#3e3e3e"/>
<rect x="410" y="353" width="10" height="6" fill="#292929"/>
<rect x="420" y="353" width="40" height="6" fill="#212121"/>
<rect x="460" y="353" width="10" height="6" fill="#292929"/>
<rect x="470" y="353" width="70" height="6" fill="#000000"/>
<rect x="540" y="353" width="10" height="6" fill="#292929"/>
<rect x="550" y="353" width="10" height="6" fill="#303030"/>
<rect x="560" y="353" width="10" height="6" fill="#4c4c4c"/>
<rect x="570" y="353" width="30" height="6" fill="#303030"/>
<rect x="600" y="353" width="10" height="6" fill="#3e3e3e"/>
<rect x="610" y="353" width="10" height="6" fill="#5e5e5e"/>
<rect x="620" y="353" width="20" height="6" fill="#3e3e3e"/>
<rect x="640" y="353" width="10" height="6" fill="#303030"/>
<rect x="650" y="353" width="10" height="6" fill="#292929"/>
<rect x="660" y="353" width="20" height="6" fill="#303030"/>
<rect x="680" y="353" width="10" height="6" fill="#292929"/>
<rect x="690" y="353" width="40" height="6" fill="#212121"/>
<rect x="730" y="353" width="10" height="6" fill="#292929"/>
<rect x="740" y="353" width="30" height="6" fill="#212121"/>
<rect x="770" y="353" width="20" height="6" fill="#292929"/>
<rect x="790" y="353" width="10" height="6" fill="#373737"/>
<rect x="800" y="353" width="10" height="6" fill="#292929"/>
<rect x="810" y="353" width="20" height="6" fill="#181818"/>
<rect x="830" y="353" width="100" height="6" fill="#0f0f0f"/>
<rect x="930" y="353" width="10" height="6" fill="#181818"/>
<rect x="940" y="353" width="20" height="6" fill="#212121"/>
<rect x="140" y="359" width="60" height="6" fill="#0f0f0f"/>
<rect x="200" y="359" width="10" height="6" fill="#737373"/>
<rect x="210" y="359" width="10" height="6" fill="#373737"/>
<rect x="220" y="359" width="30" height="6" fill="#212121"/>
<rect x="250" y="359" width="40" height="6" fill="#181818"/>
<rect x="290" y="359" width="10" height="6" fill="#292929"/>
<rect x="300" y="359" width="10" height="6" fill="#3e3e3e"/>
<rect x="310" y="359" width="10" height="6" fill="#292929"/>
<rect x="320" y="359" width="10" height="6" fill="#373737"/>
<rect x="330" y="359" width="10" height="6" fill="#8c8c8c"/>
<rect x="340" y="359" width="30" height="6" fill="#292929"/>
<rect x="370" y="359" width="10" height="6" fill="#212121"/>
<rect x="380" y="359" width="20" height="6" fill="#292929"/>
<rect x="400" y="359" width="10" height="6" fill="#4c4c4c"/>
<rect x="410" y="359" width="10" height="6" fill="#292929"/>
<rect x="420" y="359" width="30" height="6" fill="#212121"/>
<rect x="450" y="359" width="20" height="6" fill="#292929"/>
<rect x="470" y="359" width="70" height="6" fill="#000000"/>
<rect x="540" y="359" width="20" height="6" fill="#212121"/>
<rect x="560" y="359" width="10" height="6" fill="#373737"/>
<rect x="570" y="359" width="30" height="6" fill="#292929"/>
<rect x="600" y="359" width="10" height="6" fill="#373737"/>
<rect x="610" y="359" width="10" height="6" fill="#3e3e3e"/>
<rect x="620" y="359" width="30" height="6" fill="#292929"/>
<rect x="650" y="359" width="10" height="6" fill="#212121"/>
<rect x="660" y="359" width="40" height="6" fill="#292929"/>
<rect x="700" y="359" width="30" height="6" fill="#212121"/>
<rect x="730" y="359" width="20" height="6" fill="#292929"/>
<rect x="750" y="359" width="20" height="6" fill="#212121"/>
<rect x="770" y="359" width="10" height="6" fill="#292929"/>
<rect x="780" y="359" width="10" height="6" fill="#373737"/>
<rect x="790" y="359" width="20" height="6" fill="#292929"/>
<rect x="810" y="359" width="10" height="6" fill="#181818"/>
<rect x="820" y="359" width="110" height="6" fill="#0f0f0f"/>
<rect x="930" y="359" width="10" height="6" fill="#181818"/>
<rect x="940" y="359" width="20" height="6" fill="#292929"/>
<rect x="140" y="365" width="50" height="6" fill="#0f0f0f"/>
<rect x="190" y="365" width="10" height="6" fill="#212121"/>
<rect x="200" y="365" width="10" height="6" fill="#737373"/>
<rect x="210" y="365" width="10" height="6" fill="#292929"/>
<rect x="220" y="365" width="30" height="6" fill="#212121"/>
<rect x="250" y="365" width="40" height="6" fill="#181818"/>
<rect x="290" y="365" width="40" height="6" fill="#292929"/>
<rect x="330" y="365" width="10" height="6" fill="#4c4c4c"/>
<rect x="340" y="365" width="10" height="6" fill="#373737"/>
<rect x="350" y="365" width="80" height="6" fill="#292929"/>
<rect x="430" y="365" width="20" height="6" fill="#212121"/>
<rect x="450" y="365" width="20" height="6" fill="#292929"/>
<rect x="470" y="365" width="70" height="6" fill="#000000"/>
<rect x="540" y="365" width="20" height="6" fill="#212121"/>
<rect x="560" y="365" width="10" height="6" fill="#292929"/>
<rect x="570" y="365" width="20" height="6" fill="#212121"/>
<rect x="590" y="365" width="10" height="6" fill="#373737"/>
<rect x="600" y="365" width="10" height="6" fill="#292929"/>
<rect x="610" y="365" width="10" height="6" fill="#373737"/>
<rect x="620" y="365" width="30" height="6" fill="#292929"/>
<rect x="650" y="365" width="20" height="6" fill="#212121"/>
<rect x="670" y="365" width="20" height="6" fill="#292929"/>
<rect x="690" y="365" width="50" height="6" fill="#212121"/>
<rect x="740" y="365" width="10" height="6" fill="#292929"/>
<rect x="750" y="365" width="10" height="6" fill="#212121"/>
<rect x="760" y="365" width="10" height="6" fill="#181818"/>
<rect x="770" y="365" width="20" height="6" fill="#292929"/>
<rect x="790" y="365" width="10" height="6" fill="#373737"/>
<rect x="800" y="365" width="10" height="6" fill="#292929"/>
<rect x="810" y="365" width="10" height="6" fill="#181818"/>
<rect x="820" y="365" width="110" height="6" fill="#0f0f0f"/>
<rect x="930" y="365" width="10" height="6" fill="#181818"/>
<rect x="940" y="365" width="20" height="6" fill="#292929"/>
<rect x="140" y="371" width="50" height="6" fill="#0f0f0f"/>
<rect x="190" y="371" width="10" height="6" fill="#212121"/>
<rect x="200" y="371" width="10" height="6" fill="#4c4c4c"/>
<rect x="210" y="371" width="10" height="6" fill="#292929"/>
<rect x="220" y="371" width="30" height="6" fill="#212121"/>
<rect x="250" y="371" width="40" height="6" fill="#181818"/>
<rect x="290" y="371" width="10" height="6" fill="#292929"/>
<rect x="300" y="371" width="10" height="6" fill="#212121"/>
<rect x="310" y="371" width="20" height="6" fill="#292929"/>
<rect x="330" y="371" width="10" height="6" fill="#373737"/>
<rect x="340" y="371" width="10" height="6" fill="#292929"/>
<rect x="350" y="371" width="10" height="6" fill="#4c4c4c"/>
<rect x="360" y="371" width="110" height="6" fill="#292929"/>
<rect x="470" y="371" width="70" height="6" fill="#000000"/>
<rect x="540" y="371" width="10" height="6" fill="#292929"/>
<rect x="550" y="371" width="40" height="6" fill="#212121"/>
<rect x="590" y="371" width="10" height="6" fill="#3e3e3e"/>
<rect x="600" y="371" width="10" height="6" fill="#292929"/>
<rect x="610" y="371" width="10" height="6" fill="#3e3e3e"/>
<rect x="620" y="371" width="30" height="6" fill="#292929"/>
<rect x="650" y="371" width="20" height="6" fill="#212121"/>
<rect x="670" y="371" width="10" height="6" fill="#292929"/>
<rect x="680" y="371" width="10" height="6" fill="#4c4c4c"/>
<rect x="690" y="371" width="10" height="6" fill="#292929"/>
<rect x="700" y="371" width="30" height="6" fill="#212121"/>
<rect x="730" y="371" width="20" height="6" fill="#292929"/>
<rect x="750" y="371" width="10" height="6" fill="#212121"/>
<rect x="760" y="371" width="10" height="6" fill="#181818"/>
<rect x="770" y="371" width="50" height="6" fill="#292929"/>
<rect x="820" y="371" width="10" height="6" fill="#212121"/>
<rect x="830" y="371" width="10" height="6" fill="#181818"/>
<rect x="840" y="371" width="90" height="6" fill="#0f0f0f"/>
<rect x="930" y="371" width="10" height="6" fill="#181818"/>
<rect x="940" y="371" width="20" height="6" fill="#292929"/>
<rect x="140" y="377" width="50" height="6" fill="#0f0f0f"/>
<rect x="190" y="377" width="10" height="6" fill="#292929"/>
<rect x="200" y="377" width="10" height="6" fill="#8c8c8c"/>
<rect x="210" y="377" width="10" height="6" fill="#373737"/>
<rect x="220" y="377" width="10" height="6" fill="#292929"/>
<rect x="230" y="377" width="60" height="6" fill="#212121"/>
<rect x="290" y="377" width="10" height="6" fill="#292929"/>
<rect x="300" y="377" width="10" height="6" fill="#212121"/>
<rect x="310" y="377" width="20" height="6" fill="#292929"/>
<rect x="330" y="377" width="50" height="6" fill="#373737"/>
<rect x="380" y="377" width="50" height="6" fill="#292929"/>
<rect x="430" y="377" width="20" height="6" fill="#373737"/>
<rect x="450" y="377" width="20" height="6" fill="#4c4c4c"/>
<rect x="470" y="377" width="70" height="6" fill="#000000"/>
<rect x="540" y="377" width="20" height="6" fill="#3e3e3e"/>
<rect x="560" y="377" width="10" height="6" fill="#292929"/>
<rect x="570" y="377" width="20" height="6" fill="#212121"/>
<rect x="590" y="377" width="10" height="6" fill="#3e3e3e"/>
<rect x="600" y="377" width="10" height="6" fill="#292929"/>
<rect x="610" y="377" width="10" height="6" fill="#3e3e3e"/>
<rect x="620" y="377" width="20" height="6" fill="#292929"/>
<rect x="640" y="377" width="30" height="6" fill="#212121"/>
<rect x="670" y="377" width="10" height="6" fill="#292929"/>
<rect x="680" y="377" width="10" height="6" fill="#737373"/>
<rect x="690" y="377" width="10" height="6" fill="#292929"/>
<rect x="700" y="377" width="30" height="6" fill="#212121"/>
<rect x="730" y="377" width="20" height="6" fill="#292929"/>
<rect x="750" y="377" width="10" height="6" fill="#212121"/>
<rect x="760" y="377" width="10" height="6" fill="#181818"/>
<rect x="770" y="377" width="10" height="6" fill="#212121"/>
<rect x="780" y="377" width="10" height="6" fill="#181818"/>
<rect x="790" y="377" width="10" height="6" fill="#212121"/>
<rect x="800" y="377" width="10" height="6" fill="#292929"/>
<rect x="810" y="377" width="20" height="6" fill="#212121"/>
<rect x="830" y="377" width="10" height="6" fill="#181818"/>
<rect x="840" y="377" width="90" height="6" fill="#0f0f0f"/>
<rect x="930" y="377" width="10" height="6" fill="#181818"/>
<rect x="940" y="377" width="20" height="6" fill="#292929"/>
<rect x="140" y="383" width="50" height="6" fill="#0f0f0f"/>
<rect x="190" y="383" width="10" height="6" fill="#292929"/>
<rect x="200" y="383" width="10" height="6" fill="#a3a3a3"/>
<rect x="210" y="383" width="10" height="6" fill="#3e3e3e"/>
<rect x="220" y="383" width="10" height="6" fill="#292929"/>
<rect x="230" y="383" width="60" height="6" fill="#212121"/>
<rect x="290" y="383" width="10" height="6" fill="#292929"/>
<rect x="300" y="383" width="20" height="6" fill="#373737"/>
<rect x="320" y="383" width="10" height="6" fill="#292929"/>
<rect x="330" y="383" width="10" height="6" fill="#373737"/>
<rect x="340" y="383" width="10" height="6" fill="#3e3e3e"/>
<rect x="350" y="383" width="20" height="6" fill="#373737"/>
<rect x="370" y="383" width="10" height="6" fill="#3e3e3e"/>
<rect x="380" y="383" width="50" height="6" fill="#373737"/>
<rect x="430" y="383" width="10" height="6" fill="#4c4c4c"/>
<rect x="440" y="383" width="10" height="6" fill="#5e5e5e"/>
<rect x="450" y="383" width="20" height="6" fill="#8c8c8c"/>
<rect x="470" y="383" width="70" height="6" fill="#000000"/>
<rect x="540" y="383" width="10" height="6" fill="#5e5e5e"/>
<rect x="550" y="383" width="10" height="6" fill="#4c4c4c"/>
<rect x="560" y="383" width="10" height="6" fill="#3e3e3e"/>
<rect x="570" y="383" width="10" height="6" fill="#292929"/>
<rect x="580" y="383" width="10" height="6" fill="#212121"/>
<rect x="590" y="383" width="20" height="6" fill="#292929"/>
<rect x="610" y="383" width="10" height="6" fill="#373737"/>
<rect x="620" y="383" width="10" height="6" fill="#292929"/>
<rect x="630" y="383" width="30" height="6" fill="#212121"/>
<rect x="660" y="383" width="10" height="6" fill="#292929"/>
<rect x="670" y="383" width="10" height="6" fill="#212121"/>
<rect x="680" y="383" width="10" height="6" fill="#4c4c4c"/>
<rect x="690" y="383" width="10" height="6" fill="#212121"/>
<rect x="700" y="383" width="10" height="6" fill="#292929"/>
<rect x="710" y="383" width="20" height="6" fill="#212121"/>
<rect x="730" y="383" width="10" height="6" fill="#292929"/>
<rect x="740" y="383" width="20" height="6" fill="#212121"/>
<rect x="760" y="383" width="10" height="6" fill="#181818"/>
<rect x="770" y="383" width="10" height="6" fill="#292929"/>
<rect x="780" y="383" width="10" height="6" fill="#181818"/>
<rect x="790" y="383" width="20" height="6" fill="#292929"/>
<rect x="810" y="383" width="10" height="6" fill="#212121"/>
<rect x="820" y="383" width="10" height="6" fill="#292929"/>
<rect x="830" y="383" width="10" height="6" fill="#212121"/>
<rect x="840" y="383" width="20" height="6" fill="#0f0f0f"/>
<rect x="860" y="383" width="70" height="6" fill="#181818"/>
<rect x="930" y="383" width="10" height="6" fill="#212121"/>
<rect x="940" y="383" width="20" height="6" fill="#292929"/>
<rect x="140" y="389" width="50" height="6" fill="#0f0f0f"/>
<rect x="190" y="389" width="10" height="6" fill="#292929"/>
<rect x="200" y="389" width="10" height="6" fill="#8c8c8c"/>
<rect x="210" y="389" width="10" height="6" fill="#4c4c4c"/>
<rect x="220" y="389" width="10" height="6" fill="#373737"/>
<rect x="230" y="389" width="20" height="6" fill="#292929"/>
<rect x="250" y="389" width="40" height="6" fill="#212121"/>
<rect x="290" y="389" width="10" height="6" fill="#292929"/>
<rect x="300" y="389" width="50" height="6" fill="#4c4c4c"/>
<rect x="350" y="389" width="30" height="6" fill="#3e3e3e"/>
<rect x="380" y="389" width="50" height="6" fill="#373737"/>
<rect x="430" y="389" width="10" height="6" fill="#5e5e5e"/>
<rect x="440" y="389" width="10" height="6" fill="#8c8c8c"/>
<rect x="450" y="389" width="20" height="6" fill="#a3a3a3"/>
<rect x="470" y="389" width="70" height="6" fill="#000000"/>
<rect x="540" y="389" width="20" height="6" fill="#5e5e5e"/>
<rect x="560" y="389" width="10" height="6" fill="#3e3e3e"/>
<rect x="570" y="389" width="20" height="6" fill="#292929"/>
<rect x="590" y="389" width="20" height="6" fill="#212121"/>
<rect x="610" y="389" width="10" height="6" fill="#292929"/>
<rect x="620" y="389" width="140" height="6" fill="#212121"/>
<rect x="760" y="389" width="60" height="6" fill="#181818"/>
<rect x="820" y="389" width="20" height="6" fill="#292929"/>
<rect x="840" y="389" width="10" height="6" fill="#212121"/>
<rect x="850" y="389" width="10" height="6" fill="#0f0f0f"/>
<rect x="860" y="389" width="70" height="6" fill="#181818"/>
<rect x="930" y="389" width="10" height="6" fill="#212121"/>
<rect x="940" y="389" width="20" height="6" fill="#292929"/>
<rect x="140" y="395" width="50" height="14" fill="#0f0f0f"/>
<rect x="190" y="395" width="10" height="14" fill="#212121"/>
<rect x="200" y="395" width="20" height="14" fill="#292929"/>
<rect x="220" y="395" width="70" height="14" fill="#212121"/>
<rect x="290" y="395" width="10" height="14" fill="#292929"/>
<rect x="300" y="395" width="40" height="14" fill="#373737"/>
<rect x="340" y="395" width="10" height="14" fill="#292929"/>
<rect x="350" y="395" width="10" height="14" fill="#3e3e3e"/>
<rect x="360" y="395" width="70" height="14" fill="#373737"/>
<rect x="430" y="395" width="10" height="14" fill="#3e3e3e"/>
<rect x="440" y="395" width="30" height="14" fill="#4c4c4c"/>
<rect x="470" y="395" width="70" height="14" fill="#000000"/>
<rect x="540" y="395" width="20" height="14" fill="#4c4c4c"/>
<rect x="560" y="395" width="20" height="14" fill="#292929"/>
<rect x="580" y="395" width="30" height="14" fill="#212121"/>
<rect x="610" y="395" width="10" height="14" fill="#292929"/>
<rect x="620" y="395" width="140" height="14" fill="#212121"/>
<rect x="760" y="395" width="90" height="14" fill="#181818"/>
<rect x="850" y="395" width="10" height="14" fill="#0f0f0f"/>
<rect x="860" y="395" width="70" height="14" fill="#181818"/>
<rect x="930" y="395" width="10" height="14" fill="#212121"/>
<rect x="940" y="395" width="20" height="14" fill="#292929"/>
</g>
<g fill="none" stroke-linecap="round" filter="url(#sb05)"><path d="M610.4 306.0l-1.6 12.0" stroke="#afafaf" stroke-width="2.0"/><path d="M610.2 302.8l-0.6 5.4" stroke="#a5a5a5" stroke-width="2.0"/><path d="M625.1 308.6l0.8 7.6" stroke="#9b9b9b" stroke-width="1.0"/><path d="M648.7 305.8l1.9 7.8" stroke="#7e7e7e" stroke-width="1.2"/><path d="M658.9 308.2l2.2 5.9" stroke="#676767" stroke-width="2.0"/><path d="M674.4 307.5l-0.7 12.1" stroke="#383838" stroke-width="2.0"/><path d="M204.5 314.3l1.0 8.3" stroke="#8d8d8d" stroke-width="1.0"/><path d="M311.8 312.0l-1.9 9.5" stroke="#4d4d4d" stroke-width="2.0"/><path d="M551.8 309.2l-0.7 10.5" stroke="#575757" stroke-width="2.0"/><path d="M566.5 309.4l-1.3 13.1" stroke="#8b8b8b" stroke-width="1.3"/><path d="M571.8 315.2l-0.2 11.1" stroke="#9a9a9a" stroke-width="1.0"/><path d="M588.8 308.4l1.8 13.7" stroke="#3b3b3b" stroke-width="1.5"/><path d="M600.9 314.0l-1.6 8.0" stroke="#909090" stroke-width="1.3"/><path d="M614.2 316.4l-1.4 9.7" stroke="#9b9b9b" stroke-width="2.0"/><path d="M616.3 311.0l1.3 6.9" stroke="#9f9f9f" stroke-width="1.5"/><path d="M626.1 308.8l1.1 6.1" stroke="#808080" stroke-width="2.0"/><path d="M633.4 316.6l-2.2 12.1" stroke="#868686" stroke-width="1.2"/><path d="M649.2 311.2l1.8 11.6" stroke="#cccccc" stroke-width="1.2"/><path d="M644.9 308.7l-0.5 8.9" stroke="#dcdcdc" stroke-width="2.0"/><path d="M654.7 317.0l-1.9 14.0" stroke="#6e6e6e" stroke-width="1.5"/><path d="M664.0 313.4l1.1 10.2" stroke="#383838" stroke-width="2.0"/><path d="M200.3 315.0l-2.4 5.3" stroke="#8c8c8c" stroke-width="2.0"/><path d="M315.0 322.9l-1.0 6.5" stroke="#4c4c4c" stroke-width="2.0"/><path d="M550.0 316.1l-0.6 6.8" stroke="#4e4e4e" stroke-width="1.5"/><path d="M575.5 319.8l-1.5 9.3" stroke="#8d8d8d" stroke-width="1.3"/><path d="M586.0 319.0l0.0 12.1" stroke="#808080" stroke-width="1.3"/><path d="M609.6 318.9l-1.4 5.3" stroke="#8c8c8c" stroke-width="1.0"/><path d="M618.4 320.9l1.1 12.0" stroke="#818181" stroke-width="1.0"/><path d="M622.1 319.1l0.6 6.7" stroke="#c9c9c9" stroke-width="2.0"/><path d="M620.6 314.9l2.5 10.2" stroke="#c9c9c9" stroke-width="1.0"/><path d="M633.6 315.8l-0.5 10.4" stroke="#5a5a5a" stroke-width="2.0"/><path d="M649.2 321.3l1.1 11.9" stroke="#8c8c8c" stroke-width="1.3"/><path d="M205.0 326.6l2.1 6.8" stroke="#9e9e9e" stroke-width="1.3"/><path d="M318.5 326.2l0.3 13.7" stroke="#515151" stroke-width="2.0"/><path d="M331.0 327.5l2.5 6.8" stroke="#555555" stroke-width="2.0"/><path d="M544.8 327.9l0.5 5.4" stroke="#989898" stroke-width="1.0"/><path d="M557.4 320.2l1.7 10.7" stroke="#5d5d5d" stroke-width="2.0"/><path d="M573.3 328.4l0.7 12.2" stroke="#696969" stroke-width="2.0"/><path d="M584.4 325.9l-2.2 10.9" stroke="#545454" stroke-width="1.2"/><path d="M607.4 320.6l-0.3 8.6" stroke="#585858" stroke-width="1.5"/><path d="M620.2 321.5l2.1 5.1" stroke="#626262" stroke-width="2.0"/><path d="M641.6 321.0l-1.5 12.7" stroke="#676767" stroke-width="1.2"/><path d="M659.0 328.6l1.4 10.8" stroke="#404040" stroke-width="2.0"/><path d="M666.1 321.4l-0.3 13.4" stroke="#414141" stroke-width="1.5"/><path d="M675.9 321.1l2.2 6.2" stroke="#393939" stroke-width="1.5"/><path d="M202.8 329.6l-1.9 10.0" stroke="#999999" stroke-width="1.0"/><path d="M308.9 333.3l-2.5 10.7" stroke="#989898" stroke-width="1.2"/><path d="M317.4 330.6l2.3 6.0" stroke="#686868" stroke-width="1.5"/><path d="M544.5 333.3l2.0 5.9" stroke="#5b5b5b" stroke-width="2.0"/><path d="M553.6 328.0l1.6 13.6" stroke="#828282" stroke-width="1.0"/><path d="M576.5 329.1l0.3 12.1" stroke="#7a7a7a" stroke-width="1.3"/><path d="M582.7 328.4l2.2 9.6" stroke="#535353" stroke-width="1.5"/><path d="M606.8 330.1l0.4 12.5" stroke="#767676" stroke-width="1.3"/><path d="M651.9 329.4l1.1 7.4" stroke="#3f3f3f" stroke-width="2.0"/><path d="M202.4 336.9l0.9 8.6" stroke="#989898" stroke-width="1.0"/><path d="M301.4 338.1l-0.6 9.8" stroke="#929292" stroke-width="2.0"/><path d="M318.7 340.0l-0.5 8.4" stroke="#676767" stroke-width="1.5"/><path d="M333.5 335.6l-0.8 9.3" stroke="#929292" stroke-width="2.0"/><path d="M334.5 337.2l1.0 11.7" stroke="#9a9a9a" stroke-width="2.0"/><path d="M543.0 338.3l-2.0 13.0" stroke="#8f8f8f" stroke-width="1.3"/><path d="M564.1 333.8l2.1 12.0" stroke="#585858" stroke-width="1.2"/><path d="M573.1 338.4l1.8 7.7" stroke="#868686" stroke-width="1.3"/><path d="M588.1 341.0l-1.1 11.8" stroke="#4a4a4a" stroke-width="1.5"/><path d="M591.8 335.4l2.1 13.1" stroke="#5a5a5a" stroke-width="1.5"/><path d="M605.5 340.3l0.0 12.0" stroke="#545454" stroke-width="1.5"/><path d="M619.9 338.5l0.2 5.8" stroke="#484848" stroke-width="1.2"/><path d="M652.7 340.0l-1.2 11.3" stroke="#bebebe" stroke-width="2.0"/><path d="M652.7 335.5l-1.7 9.3" stroke="#cbcbcb" stroke-width="1.0"/><path d="M797.4 338.8l2.5 8.2" stroke="#535353" stroke-width="2.0"/><path d="M297.6 345.4l1.8 7.6" stroke="#414141" stroke-width="2.0"/><path d="M308.6 344.5l0.9 8.9" stroke="#bdbdbd" stroke-width="1.3"/><path d="M306.9 344.2l-0.2 12.9" stroke="#cbcbcb" stroke-width="1.0"/><path d="M332.1 340.3l1.1 7.0" stroke="#aeaeae" stroke-width="1.2"/><path d="M338.0 340.4l0.5 13.4" stroke="#b4b4b4" stroke-width="1.5"/><path d="M351.4 340.4l-2.2 12.5" stroke="#525252" stroke-width="1.5"/><path d="M540.6 338.5l-0.8 13.1" stroke="#3b3b3b" stroke-width="2.0"/><path d="M550.5 339.9l-1.7 8.0" stroke="#474747" stroke-width="1.2"/><path d="M563.1 344.5l-0.2 13.8" stroke="#575757" stroke-width="2.0"/><path d="M588.5 342.2l2.3 6.9" stroke="#515151" stroke-width="2.0"/><path d="M610.7 342.2l-1.7 10.1" stroke="#5f5f5f" stroke-width="1.2"/><path d="M658.1 338.2l-0.9 6.2" stroke="#c8c8c8" stroke-width="1.3"/><path d="M203.3 345.3l0.4 10.8" stroke="#545454" stroke-width="2.0"/><path d="M294.9 351.7l0.0 13.1" stroke="#494949" stroke-width="1.5"/><path d="M305.9 346.0l-1.9 5.1" stroke="#848484" stroke-width="2.0"/><path d="M310.7 351.1l1.3 11.2" stroke="#474747" stroke-width="2.0"/><path d="M334.1 352.5l-0.4 7.4" stroke="#bababa" stroke-width="2.0"/><path d="M335.0 351.2l-0.1 8.9" stroke="#b8b8b8" stroke-width="1.3"/><path d="M358.0 351.3l-1.1 9.3" stroke="#464646" stroke-width="2.0"/><path d="M603.3 348.6l0.3 7.7" stroke="#484848" stroke-width="1.5"/><path d="M611.5 345.0l-1.0 7.9" stroke="#808080" stroke-width="1.2"/><path d="M794.9 351.5l1.4 11.0" stroke="#494949" stroke-width="1.2"/><path d="M202.8 358.1l-0.4 8.9" stroke="#969696" stroke-width="1.2"/><path d="M219.0 356.7l0.9 8.9" stroke="#4d4d4d" stroke-width="1.5"/><path d="M303.0 357.8l0.7 8.5" stroke="#9e9e9e" stroke-width="1.3"/><path d="M313.6 350.7l0.3 12.5" stroke="#404040" stroke-width="1.2"/><path d="M320.4 352.2l-0.6 5.6" stroke="#505050" stroke-width="1.5"/><path d="M336.1 355.1l-1.2 12.5" stroke="#a7a7a7" stroke-width="2.0"/><path d="M335.6 357.0l-2.4 6.4" stroke="#b5b5b5" stroke-width="1.5"/><path d="M402.1 357.9l0.4 8.2" stroke="#4e4e4e" stroke-width="1.2"/><path d="M569.3 352.9l-1.9 7.5" stroke="#676767" stroke-width="1.5"/><path d="M799.8 353.9l-1.2 13.7" stroke="#4b4b4b" stroke-width="1.2"/><path d="M205.0 364.7l1.8 5.3" stroke="#9e9e9e" stroke-width="1.3"/><path d="M331.8 358.7l-1.3 7.0" stroke="#c7c7c7" stroke-width="2.0"/><path d="M330.9 358.6l2.0 6.2" stroke="#b4b4b4" stroke-width="1.5"/><path d="M781.2 360.8l0.0 8.7" stroke="#404040" stroke-width="2.0"/><path d="M206.6 370.7l-0.1 8.7" stroke="#828282" stroke-width="1.5"/><path d="M203.4 369.8l-1.1 7.5" stroke="#6d6d6d" stroke-width="1.5"/><path d="M338.4 376.0l2.3 12.9" stroke="#464646" stroke-width="1.5"/><path d="M357.6 374.5l0.3 12.0" stroke="#808080" stroke-width="1.3"/><path d="M684.6 372.3l-1.7 13.7" stroke="#5f5f5f" stroke-width="1.5"/><path d="M209.0 376.3l-0.4 8.3" stroke="#b1b1b1" stroke-width="1.2"/><path d="M371.1 379.2l0.1 5.2" stroke="#4a4a4a" stroke-width="1.5"/><path d="M468.4 376.8l0.6 12.6" stroke="#5b5b5b" stroke-width="2.0"/><path d="M548.1 377.2l-2.2 8.4" stroke="#4e4e4e" stroke-width="1.2"/><path d="M687.6 376.5l-1.7 9.3" stroke="#949494" stroke-width="2.0"/><path d="M205.2 385.1l1.3 11.9" stroke="#d0d0d0" stroke-width="1.2"/><path d="M200.3 385.2l0.8 7.6" stroke="#e4e4e4" stroke-width="1.2"/><path d="M314.3 381.1l2.0 13.4" stroke="#3d3d3d" stroke-width="1.5"/><path d="M338.6 384.4l-2.2 8.8" stroke="#444444" stroke-width="2.0"/><path d="M349.1 384.4l0.9 7.0" stroke="#464646" stroke-width="1.5"/><path d="M355.5 386.9l1.5 11.6" stroke="#4a4a4a" stroke-width="1.5"/><path d="M368.2 388.0l0.5 12.3" stroke="#3d3d3d" stroke-width="2.0"/><path d="M380.6 380.1l2.0 7.2" stroke="#474747" stroke-width="2.0"/><path d="M395.7 383.0l-0.8 8.1" stroke="#4d4d4d" stroke-width="2.0"/><path d="M412.3 380.7l-0.3 7.6" stroke="#494949" stroke-width="2.0"/><path d="M421.0 384.3l-0.4 13.9" stroke="#4c4c4c" stroke-width="2.0"/><path d="M445.6 382.5l-2.2 8.9" stroke="#808080" stroke-width="2.0"/><path d="M451.2 382.8l-1.5 5.7" stroke="#b8b8b8" stroke-width="1.5"/><path d="M453.2 386.2l-2.0 13.5" stroke="#bebebe" stroke-width="1.0"/><path d="M469.1 387.5l0.7 12.9" stroke="#adadad" stroke-width="1.5"/><path d="M542.4 385.2l1.7 8.1" stroke="#767676" stroke-width="2.0"/><path d="M554.8 383.1l-0.3 12.8" stroke="#7c7c7c" stroke-width="1.3"/><path d="M200.2 390.1l0.3 5.6" stroke="#acacac" stroke-width="2.0"/><path d="M200.7 388.6l2.4 5.6" stroke="#c5c5c5" stroke-width="1.5"/><path d="M211.3 393.7l-0.7 11.2" stroke="#989898" stroke-width="1.0"/><path d="M303.9 394.1l-0.3 9.7" stroke="#656565" stroke-width="1.5"/><path d="M322.4 393.2l0.3 5.9" stroke="#646464" stroke-width="2.0"/><path d="M334.0 389.3l-1.1 7.3" stroke="#6e6e6e" stroke-width="1.5"/><path d="M346.8 394.5l0.4 6.5" stroke="#585858" stroke-width="1.5"/><path d="M426.8 390.1l-0.2 9.7" stroke="#3d3d3d" stroke-width="1.2"/><path d="M432.3 393.4l1.1 9.4" stroke="#818181" stroke-width="1.0"/><path d="M445.5 394.6l0.2 10.8" stroke="#b6b6b6" stroke-width="1.3"/><path d="M447.7 389.9l1.1 6.5" stroke="#b7b7b7" stroke-width="1.3"/><path d="M455.3 394.8l-0.6 11.1" stroke="#ebebeb" stroke-width="1.5"/><path d="M454.8 393.5l0.1 6.3" stroke="#c1c1c1" stroke-width="2.0"/><path d="M461.8 391.8l-1.9 8.3" stroke="#bababa" stroke-width="1.0"/><path d="M461.8 389.3l-1.4 9.4" stroke="#ebebeb" stroke-width="2.0"/><path d="M545.8 393.3l-0.9 13.6" stroke="#7c7c7c" stroke-width="1.3"/><path d="M559.3 388.8l-1.9 11.5" stroke="#767676" stroke-width="1.5"/><path d="M318.4 400.7l-2.4 9.1" stroke="#3c3c3c" stroke-width="2.0"/><path d="M359.2 395.2l1.5 7.1" stroke="#535353" stroke-width="1.5"/><path d="M364.9 400.5l1.4 11.7" stroke="#4a4a4a" stroke-width="2.0"/><path d="M405.0 392.7l-1.0 10.1" stroke="#4b4b4b" stroke-width="1.5"/><path d="M422.3 398.6l-0.4 11.2" stroke="#4c4c4c" stroke-width="1.5"/><path d="M446.2 395.1l-1.1 13.5" stroke="#5b5b5b" stroke-width="1.5"/><path d="M544.1 400.5l-2.3 12.7" stroke="#6e6e6e" stroke-width="1.2"/></g>

</g>
<g shape-rendering="auto" filter="url(#sb05)"><polyline points="204.5,294 204.5,401" fill="none" stroke="rgb(80,190,240)" stroke-width="1" opacity="0.5" stroke-linecap="round"/><polyline points="206.5,294 206.5,401" fill="none" stroke="rgb(80,190,240)" stroke-width="1" opacity="0.4" stroke-linecap="round"/><polyline points="201,303 203,338 205,368 202,398" fill="none" stroke="rgb(70,215,230)" stroke-width="2" opacity="0.55" stroke-linecap="round"/><ellipse cx="204.5" cy="311" rx="1" ry="3" fill="rgb(225,225,35)" opacity="0.8"/><ellipse cx="202.3" cy="321" rx="1" ry="3" fill="rgb(250,30,10)" opacity="0.9"/><ellipse cx="205.8" cy="356" rx="1" ry="3.2" fill="rgb(250,30,10)" opacity="0.9"/><ellipse cx="201" cy="390" rx="2.5" ry="6" fill="rgb(225,225,35)" opacity="0.5"/><ellipse cx="200.5" cy="387" rx="1.5" ry="3.5" fill="rgb(250,30,10)" opacity="0.9"/><polyline points="210.3,303 210.3,307" fill="none" stroke="rgb(70,215,230)" stroke-width="1.5" opacity="0.7" stroke-linecap="round"/><polyline points="212.7,305 212.7,309" fill="none" stroke="rgb(70,215,230)" stroke-width="1.5" opacity="0.7" stroke-linecap="round"/><polyline points="207,306 207,312" fill="none" stroke="rgb(70,215,230)" stroke-width="1.5" opacity="0.7" stroke-linecap="round"/><polyline points="297.5,294 297.5,401" fill="none" stroke="rgb(70,170,240)" stroke-width="1.5" opacity="0.45" stroke-linecap="round"/><polyline points="334,294 334,401" fill="none" stroke="rgb(60,120,245)" stroke-width="1" opacity="0.35" stroke-linecap="round"/><polyline points="297.3,342 297.3,357.5" fill="none" stroke="rgb(225,225,35)" stroke-width="2" opacity="0.9" stroke-linecap="round"/><polyline points="297.3,346 297.3,355" fill="none" stroke="rgb(250,30,10)" stroke-width="1.2" opacity="1.0" stroke-linecap="round"/><polyline points="302.5,330.7 302.5,339" fill="none" stroke="rgb(250,30,10)" stroke-width="1.6" opacity="1.0" stroke-linecap="round"/><polyline points="304.8,347 305.5,350.5" fill="none" stroke="rgb(250,30,10)" stroke-width="2" opacity="1.0" stroke-linecap="round"/><polyline points="303,351.7 303,361" fill="none" stroke="rgb(225,225,35)" stroke-width="1.6" opacity="0.9" stroke-linecap="round"/><polyline points="299,327 299,333" fill="none" stroke="rgb(110,255,70)" stroke-width="1.5" opacity="0.8" stroke-linecap="round"/><polyline points="304,312 306.6,320" fill="none" stroke="rgb(70,215,230)" stroke-width="1.5" opacity="0.8" stroke-linecap="round"/><polyline points="325.3,321.3 328,333 331,346 333,358 334.6,368" fill="none" stroke="rgb(225,225,35)" stroke-width="2.2" opacity="0.85" stroke-linecap="round"/><polyline points="326.5,326 328.5,338" fill="none" stroke="rgb(250,30,10)" stroke-width="1.4" opacity="1.0" stroke-linecap="round"/><polyline points="330,344 332,354" fill="none" stroke="rgb(250,30,10)" stroke-width="1.4" opacity="1.0" stroke-linecap="round"/><polyline points="333,358 334.5,366" fill="none" stroke="rgb(250,30,10)" stroke-width="1.4" opacity="1.0" stroke-linecap="round"/><polyline points="323.5,350.5 323.5,362" fill="none" stroke="rgb(225,225,35)" stroke-width="1.8" opacity="0.85" stroke-linecap="round"/><polyline points="323.5,353 323.5,359" fill="none" stroke="rgb(250,30,10)" stroke-width="1.2" opacity="1.0" stroke-linecap="round"/></g>
</g>
<rect x="468" y="293" width="78" height="108" fill="#0a0023"/>
<g clip-path="url(#cp3)"><g filter="url(#cm)" shape-rendering="auto">
<g filter="url(#gb)">
<rect x="140" y="393" width="60" height="14" fill="#0f0f0f"/>
<rect x="200" y="393" width="100" height="14" fill="#212121"/>
<rect x="300" y="393" width="150" height="14" fill="#303030"/>
<rect x="450" y="393" width="20" height="14" fill="#3e3e3e"/>
<rect x="470" y="393" width="70" height="14" fill="#000000"/>
<rect x="540" y="393" width="190" height="14" fill="#303030"/>
<rect x="730" y="393" width="30" height="14" fill="#212121"/>
<rect x="760" y="393" width="40" height="14" fill="#181818"/>
<rect x="800" y="393" width="130" height="14" fill="#060606"/>
<rect x="930" y="393" width="10" height="14" fill="#181818"/>
<rect x="940" y="393" width="20" height="14" fill="#303030"/>
<rect x="140" y="407" width="60" height="6" fill="#060606"/>
<rect x="200" y="407" width="20" height="6" fill="#212121"/>
<rect x="220" y="407" width="30" height="6" fill="#060606"/>
<rect x="250" y="407" width="40" height="6" fill="#181818"/>
<rect x="290" y="407" width="10" height="6" fill="#212121"/>
<rect x="300" y="407" width="30" height="6" fill="#303030"/>
<rect x="330" y="407" width="20" height="6" fill="#212121"/>
<rect x="350" y="407" width="90" height="6" fill="#0f0f0f"/>
<rect x="440" y="407" width="10" height="6" fill="#212121"/>
<rect x="450" y="407" width="10" height="6" fill="#303030"/>
<rect x="460" y="407" width="10" height="6" fill="#3e3e3e"/>
<rect x="470" y="407" width="70" height="6" fill="#000000"/>
<rect x="540" y="407" width="70" height="6" fill="#212121"/>
<rect x="610" y="407" width="10" height="6" fill="#303030"/>
<rect x="620" y="407" width="140" height="6" fill="#212121"/>
<rect x="760" y="407" width="40" height="6" fill="#181818"/>
<rect x="800" y="407" width="130" height="6" fill="#060606"/>
<rect x="930" y="407" width="10" height="6" fill="#181818"/>
<rect x="940" y="407" width="20" height="6" fill="#303030"/>
<rect x="140" y="413" width="60" height="6" fill="#060606"/>
<rect x="200" y="413" width="10" height="6" fill="#3e3e3e"/>
<rect x="210" y="413" width="10" height="6" fill="#4c4c4c"/>
<rect x="220" y="413" width="20" height="6" fill="#0f0f0f"/>
<rect x="240" y="413" width="10" height="6" fill="#060606"/>
<rect x="250" y="413" width="40" height="6" fill="#181818"/>
<rect x="290" y="413" width="10" height="6" fill="#212121"/>
<rect x="300" y="413" width="10" height="6" fill="#3e3e3e"/>
<rect x="310" y="413" width="10" height="6" fill="#4c4c4c"/>
<rect x="320" y="413" width="10" height="6" fill="#303030"/>
<rect x="330" y="413" width="20" height="6" fill="#212121"/>
<rect x="350" y="413" width="80" height="6" fill="#0f0f0f"/>
<rect x="430" y="413" width="10" height="6" fill="#212121"/>
<rect x="440" y="413" width="10" height="6" fill="#303030"/>
<rect x="450" y="413" width="10" height="6" fill="#3e3e3e"/>
<rect x="460" y="413" width="10" height="6" fill="#4c4c4c"/>
<rect x="470" y="413" width="70" height="6" fill="#000000"/>
<rect x="540" y="413" width="50" height="6" fill="#5e5e5e"/>
<rect x="590" y="413" width="10" height="6" fill="#737373"/>
<rect x="600" y="413" width="10" height="6" fill="#5e5e5e"/>
<rect x="610" y="413" width="10" height="6" fill="#a3a3a3"/>
<rect x="620" y="413" width="10" height="6" fill="#8c8c8c"/>
<rect x="630" y="413" width="20" height="6" fill="#737373"/>
<rect x="650" y="413" width="10" height="6" fill="#a3a3a3"/>
<rect x="660" y="413" width="10" height="6" fill="#8c8c8c"/>
<rect x="670" y="413" width="10" height="6" fill="#5e5e5e"/>
<rect x="680" y="413" width="20" height="6" fill="#4c4c4c"/>
<rect x="700" y="413" width="20" height="6" fill="#3e3e3e"/>
<rect x="720" y="413" width="10" height="6" fill="#373737"/>
<rect x="730" y="413" width="20" height="6" fill="#303030"/>
<rect x="750" y="413" width="10" height="6" fill="#212121"/>
<rect x="760" y="413" width="40" height="6" fill="#181818"/>
<rect x="800" y="413" width="130" height="6" fill="#060606"/>
<rect x="930" y="413" width="10" height="6" fill="#181818"/>
<rect x="940" y="413" width="20" height="6" fill="#303030"/>
<rect x="140" y="419" width="60" height="6" fill="#060606"/>
<rect x="200" y="419" width="10" height="6" fill="#3e3e3e"/>
<rect x="210" y="419" width="10" height="6" fill="#4c4c4c"/>
<rect x="220" y="419" width="10" height="6" fill="#212121"/>
<rect x="230" y="419" width="20" height="6" fill="#0f0f0f"/>
<rect x="250" y="419" width="40" height="6" fill="#181818"/>
<rect x="290" y="419" width="10" height="6" fill="#212121"/>
<rect x="300" y="419" width="10" height="6" fill="#3e3e3e"/>
<rect x="310" y="419" width="10" height="6" fill="#4c4c4c"/>
<rect x="320" y="419" width="20" height="6" fill="#303030"/>
<rect x="340" y="419" width="10" height="6" fill="#212121"/>
<rect x="350" y="419" width="80" height="6" fill="#0f0f0f"/>
<rect x="430" y="419" width="10" height="6" fill="#303030"/>
<rect x="440" y="419" width="10" height="6" fill="#3e3e3e"/>
<rect x="450" y="419" width="20" height="6" fill="#4c4c4c"/>
<rect x="470" y="419" width="70" height="6" fill="#000000"/>
<rect x="540" y="419" width="10" height="6" fill="#737373"/>
<rect x="550" y="419" width="30" height="6" fill="#8c8c8c"/>
<rect x="580" y="419" width="10" height="6" fill="#737373"/>
<rect x="590" y="419" width="10" height="6" fill="#8c8c8c"/>
<rect x="600" y="419" width="10" height="6" fill="#737373"/>
<rect x="610" y="419" width="10" height="6" fill="#a3a3a3"/>
<rect x="620" y="419" width="30" height="6" fill="#8c8c8c"/>
<rect x="650" y="419" width="10" height="6" fill="#a3a3a3"/>
<rect x="660" y="419" width="10" height="6" fill="#8c8c8c"/>
<rect x="670" y="419" width="10" height="6" fill="#5e5e5e"/>
<rect x="680" y="419" width="40" height="6" fill="#4c4c4c"/>
<rect x="720" y="419" width="10" height="6" fill="#373737"/>
<rect x="730" y="419" width="20" height="6" fill="#303030"/>
<rect x="750" y="419" width="10" height="6" fill="#212121"/>
<rect x="760" y="419" width="40" height="6" fill="#181818"/>
<rect x="800" y="419" width="130" height="6" fill="#060606"/>
<rect x="930" y="419" width="10" height="6" fill="#181818"/>
<rect x="940" y="419" width="20" height="6" fill="#303030"/>
<rect x="140" y="425" width="60" height="6" fill="#060606"/>
<rect x="200" y="425" width="10" height="6" fill="#5e5e5e"/>
<rect x="210" y="425" width="10" height="6" fill="#4c4c4c"/>
<rect x="220" y="425" width="10" height="6" fill="#212121"/>
<rect x="230" y="425" width="20" height="6" fill="#0f0f0f"/>
<rect x="250" y="425" width="40" height="6" fill="#181818"/>
<rect x="290" y="425" width="10" height="6" fill="#373737"/>
<rect x="300" y="425" width="10" height="6" fill="#4c4c4c"/>
<rect x="310" y="425" width="10" height="6" fill="#5e5e5e"/>
<rect x="320" y="425" width="10" height="6" fill="#4c4c4c"/>
<rect x="330" y="425" width="10" height="6" fill="#5e5e5e"/>
<rect x="340" y="425" width="10" height="6" fill="#212121"/>
<rect x="350" y="425" width="70" height="6" fill="#0f0f0f"/>
<rect x="420" y="425" width="10" height="6" fill="#212121"/>
<rect x="430" y="425" width="10" height="6" fill="#303030"/>
<rect x="440" y="425" width="10" height="6" fill="#3e3e3e"/>
<rect x="450" y="425" width="20" height="6" fill="#4c4c4c"/>
<rect x="470" y="425" width="70" height="6" fill="#000000"/>
<rect x="540" y="425" width="10" height="6" fill="#8c8c8c"/>
<rect x="550" y="425" width="10" height="6" fill="#a3a3a3"/>
<rect x="560" y="425" width="10" height="6" fill="#8c8c8c"/>
<rect x="570" y="425" width="10" height="6" fill="#a3a3a3"/>
<rect x="580" y="425" width="30" height="6" fill="#737373"/>
<rect x="610" y="425" width="10" height="6" fill="#a3a3a3"/>
<rect x="620" y="425" width="10" height="6" fill="#8c8c8c"/>
<rect x="630" y="425" width="10" height="6" fill="#737373"/>
<rect x="640" y="425" width="10" height="6" fill="#a3a3a3"/>
<rect x="650" y="425" width="10" height="6" fill="#8c8c8c"/>
<rect x="660" y="425" width="10" height="6" fill="#737373"/>
<rect x="670" y="425" width="50" height="6" fill="#4c4c4c"/>
<rect x="720" y="425" width="10" height="6" fill="#373737"/>
<rect x="730" y="425" width="30" height="6" fill="#303030"/>
<rect x="760" y="425" width="40" height="6" fill="#181818"/>
<rect x="800" y="425" width="130" height="6" fill="#060606"/>
<rect x="930" y="425" width="10" height="6" fill="#181818"/>
<rect x="940" y="425" width="20" height="6" fill="#303030"/>
<rect x="140" y="431" width="60" height="6" fill="#060606"/>
<rect x="200" y="431" width="10" height="6" fill="#737373"/>
<rect x="210" y="431" width="10" height="6" fill="#3e3e3e"/>
<rect x="220" y="431" width="10" height="6" fill="#212121"/>
<rect x="230" y="431" width="20" height="6" fill="#0f0f0f"/>
<rect x="250" y="431" width="40" height="6" fill="#181818"/>
<rect x="290" y="431" width="10" height="6" fill="#4c4c4c"/>
<rect x="300" y="431" width="20" height="6" fill="#5e5e5e"/>
<rect x="320" y="431" width="10" height="6" fill="#4c4c4c"/>
<rect x="330" y="431" width="10" height="6" fill="#737373"/>
<rect x="340" y="431" width="10" height="6" fill="#212121"/>
<rect x="350" y="431" width="50" height="6" fill="#0f0f0f"/>
<rect x="400" y="431" width="20" height="6" fill="#212121"/>
<rect x="420" y="431" width="10" height="6" fill="#303030"/>
<rect x="430" y="431" width="10" height="6" fill="#3e3e3e"/>
<rect x="440" y="431" width="30" height="6" fill="#4c4c4c"/>
<rect x="470" y="431" width="70" height="6" fill="#000000"/>
<rect x="540" y="431" width="10" height="6" fill="#8c8c8c"/>
<rect x="550" y="431" width="10" height="6" fill="#a3a3a3"/>
<rect x="560" y="431" width="10" height="6" fill="#8c8c8c"/>
<rect x="570" y="431" width="10" height="6" fill="#b8b8b8"/>
<rect x="580" y="431" width="30" height="6" fill="#737373"/>
<rect x="610" y="431" width="10" height="6" fill="#8c8c8c"/>
<rect x="620" y="431" width="10" height="6" fill="#a3a3a3"/>
<rect x="630" y="431" width="10" height="6" fill="#737373"/>
<rect x="640" y="431" width="10" height="6" fill="#8c8c8c"/>
<rect x="650" y="431" width="10" height="6" fill="#737373"/>
<rect x="660" y="431" width="10" height="6" fill="#5e5e5e"/>
<rect x="670" y="431" width="10" height="6" fill="#4c4c4c"/>
<rect x="680" y="431" width="20" height="6" fill="#3e3e3e"/>
<rect x="700" y="431" width="20" height="6" fill="#4c4c4c"/>
<rect x="720" y="431" width="10" height="6" fill="#373737"/>
<rect x="730" y="431" width="30" height="6" fill="#303030"/>
<rect x="760" y="431" width="40" height="6" fill="#181818"/>
<rect x="800" y="431" width="130" height="6" fill="#060606"/>
<rect x="930" y="431" width="10" height="6" fill="#181818"/>
<rect x="940" y="431" width="20" height="6" fill="#303030"/>
<rect x="140" y="437" width="60" height="6" fill="#060606"/>
<rect x="200" y="437" width="10" height="6" fill="#5e5e5e"/>
<rect x="210" y="437" width="10" height="6" fill="#3e3e3e"/>
<rect x="220" y="437" width="10" height="6" fill="#212121"/>
<rect x="230" y="437" width="20" height="6" fill="#0f0f0f"/>
<rect x="250" y="437" width="40" height="6" fill="#181818"/>
<rect x="290" y="437" width="10" height="6" fill="#4c4c4c"/>
<rect x="300" y="437" width="10" height="6" fill="#8c8c8c"/>
<rect x="310" y="437" width="10" height="6" fill="#737373"/>
<rect x="320" y="437" width="10" height="6" fill="#4c4c4c"/>
<rect x="330" y="437" width="10" height="6" fill="#8c8c8c"/>
<rect x="340" y="437" width="30" height="6" fill="#212121"/>
<rect x="370" y="437" width="30" height="6" fill="#0f0f0f"/>
<rect x="400" y="437" width="10" height="6" fill="#212121"/>
<rect x="410" y="437" width="20" height="6" fill="#303030"/>
<rect x="430" y="437" width="10" height="6" fill="#3e3e3e"/>
<rect x="440" y="437" width="30" height="6" fill="#4c4c4c"/>
<rect x="470" y="437" width="70" height="6" fill="#000000"/>
<rect x="540" y="437" width="10" height="6" fill="#a3a3a3"/>
<rect x="550" y="437" width="10" height="6" fill="#b8b8b8"/>
<rect x="560" y="437" width="20" height="6" fill="#a3a3a3"/>
<rect x="580" y="437" width="10" height="6" fill="#737373"/>
<rect x="590" y="437" width="10" height="6" fill="#5e5e5e"/>
<rect x="600" y="437" width="10" height="6" fill="#737373"/>
<rect x="610" y="437" width="10" height="6" fill="#8c8c8c"/>
<rect x="620" y="437" width="20" height="6" fill="#737373"/>
<rect x="640" y="437" width="10" height="6" fill="#8c8c8c"/>
<rect x="650" y="437" width="20" height="6" fill="#5e5e5e"/>
<rect x="670" y="437" width="10" height="6" fill="#4c4c4c"/>
<rect x="680" y="437" width="20" height="6" fill="#3e3e3e"/>
<rect x="700" y="437" width="20" height="6" fill="#4c4c4c"/>
<rect x="720" y="437" width="40" height="6" fill="#303030"/>
<rect x="760" y="437" width="10" height="6" fill="#181818"/>
<rect x="770" y="437" width="10" height="6" fill="#303030"/>
<rect x="780" y="437" width="10" height="6" fill="#181818"/>
<rect x="790" y="437" width="10" height="6" fill="#303030"/>
<rect x="800" y="437" width="130" height="6" fill="#060606"/>
<rect x="930" y="437" width="10" height="6" fill="#181818"/>
<rect x="940" y="437" width="20" height="6" fill="#303030"/>
<rect x="140" y="443" width="60" height="6" fill="#060606"/>
<rect x="200" y="443" width="10" height="6" fill="#4c4c4c"/>
<rect x="210" y="443" width="10" height="6" fill="#303030"/>
<rect x="220" y="443" width="10" height="6" fill="#212121"/>
<rect x="230" y="443" width="20" height="6" fill="#0f0f0f"/>
<rect x="250" y="443" width="40" height="6" fill="#181818"/>
<rect x="290" y="443" width="10" height="6" fill="#4c4c4c"/>
<rect x="300" y="443" width="10" height="6" fill="#8c8c8c"/>
<rect x="310" y="443" width="10" height="6" fill="#737373"/>
<rect x="320" y="443" width="10" height="6" fill="#4c4c4c"/>
<rect x="330" y="443" width="10" height="6" fill="#a3a3a3"/>
<rect x="340" y="443" width="10" height="6" fill="#212121"/>
<rect x="350" y="443" width="10" height="6" fill="#303030"/>
<rect x="360" y="443" width="10" height="6" fill="#212121"/>
<rect x="370" y="443" width="30" height="6" fill="#0f0f0f"/>
<rect x="400" y="443" width="20" height="6" fill="#303030"/>
<rect x="420" y="443" width="20" height="6" fill="#3e3e3e"/>
<rect x="440" y="443" width="10" height="6" fill="#5e5e5e"/>
<rect x="450" y="443" width="20" height="6" fill="#4c4c4c"/>
<rect x="470" y="443" width="70" height="6" fill="#000000"/>
<rect x="540" y="443" width="10" height="6" fill="#8c8c8c"/>
<rect x="550" y="443" width="10" height="6" fill="#b8b8b8"/>
<rect x="560" y="443" width="10" height="6" fill="#8c8c8c"/>
<rect x="570" y="443" width="10" height="6" fill="#a3a3a3"/>
<rect x="580" y="443" width="10" height="6" fill="#737373"/>
<rect x="590" y="443" width="20" height="6" fill="#5e5e5e"/>
<rect x="610" y="443" width="30" height="6" fill="#737373"/>
<rect x="640" y="443" width="20" height="6" fill="#8c8c8c"/>
<rect x="660" y="443" width="10" height="6" fill="#5e5e5e"/>
<rect x="670" y="443" width="10" height="6" fill="#4c4c4c"/>
<rect x="680" y="443" width="40" height="6" fill="#3e3e3e"/>
<rect x="720" y="443" width="40" height="6" fill="#373737"/>
<rect x="760" y="443" width="10" height="6" fill="#181818"/>
<rect x="770" y="443" width="10" height="6" fill="#3e3e3e"/>
<rect x="780" y="443" width="10" height="6" fill="#181818"/>
<rect x="790" y="443" width="10" height="6" fill="#737373"/>
<rect x="800" y="443" width="130" height="6" fill="#060606"/>
<rect x="930" y="443" width="10" height="6" fill="#181818"/>
<rect x="940" y="443" width="20" height="6" fill="#303030"/>
<rect x="140" y="449" width="60" height="6" fill="#060606"/>
<rect x="200" y="449" width="10" height="6" fill="#5e5e5e"/>
<rect x="210" y="449" width="10" height="6" fill="#303030"/>
<rect x="220" y="449" width="20" height="6" fill="#212121"/>
<rect x="240" y="449" width="10" height="6" fill="#0f0f0f"/>
<rect x="250" y="449" width="40" height="6" fill="#181818"/>
<rect x="290" y="449" width="10" height="6" fill="#5e5e5e"/>
<rect x="300" y="449" width="10" height="6" fill="#a3a3a3"/>
<rect x="310" y="449" width="20" height="6" fill="#5e5e5e"/>
<rect x="330" y="449" width="10" height="6" fill="#a3a3a3"/>
<rect x="340" y="449" width="10" height="6" fill="#212121"/>
<rect x="350" y="449" width="10" height="6" fill="#4c4c4c"/>
<rect x="360" y="449" width="10" height="6" fill="#303030"/>
<rect x="370" y="449" width="20" height="6" fill="#212121"/>
<rect x="390" y="449" width="40" height="6" fill="#3e3e3e"/>
<rect x="430" y="449" width="10" height="6" fill="#4c4c4c"/>
<rect x="440" y="449" width="10" height="6" fill="#5e5e5e"/>
<rect x="450" y="449" width="10" height="6" fill="#4c4c4c"/>
<rect x="460" y="449" width="10" height="6" fill="#3e3e3e"/>
<rect x="470" y="449" width="70" height="6" fill="#000000"/>
<rect x="540" y="449" width="10" height="6" fill="#8c8c8c"/>
<rect x="550" y="449" width="10" height="6" fill="#a3a3a3"/>
<rect x="560" y="449" width="10" height="6" fill="#8c8c8c"/>
<rect x="570" y="449" width="10" height="6" fill="#a3a3a3"/>
<rect x="580" y="449" width="20" height="6" fill="#737373"/>
<rect x="600" y="449" width="10" height="6" fill="#8c8c8c"/>
<rect x="610" y="449" width="10" height="6" fill="#a3a3a3"/>
<rect x="620" y="449" width="10" height="6" fill="#8c8c8c"/>
<rect x="630" y="449" width="10" height="6" fill="#737373"/>
<rect x="640" y="449" width="20" height="6" fill="#8c8c8c"/>
<rect x="660" y="449" width="10" height="6" fill="#5e5e5e"/>
<rect x="670" y="449" width="20" height="6" fill="#4c4c4c"/>
<rect x="690" y="449" width="30" height="6" fill="#3e3e3e"/>
<rect x="720" y="449" width="40" height="6" fill="#373737"/>
<rect x="760" y="449" width="30" height="6" fill="#3e3e3e"/>
<rect x="790" y="449" width="10" height="6" fill="#5e5e5e"/>
<rect x="800" y="449" width="130" height="6" fill="#060606"/>
<rect x="930" y="449" width="10" height="6" fill="#181818"/>
<rect x="940" y="449" width="20" height="6" fill="#303030"/>
<rect x="140" y="455" width="60" height="6" fill="#060606"/>
<rect x="200" y="455" width="10" height="6" fill="#5e5e5e"/>
<rect x="210" y="455" width="10" height="6" fill="#303030"/>
<rect x="220" y="455" width="10" height="6" fill="#212121"/>
<rect x="230" y="455" width="20" height="6" fill="#0f0f0f"/>
<rect x="250" y="455" width="30" height="6" fill="#181818"/>
<rect x="280" y="455" width="10" height="6" fill="#292929"/>
<rect x="290" y="455" width="10" height="6" fill="#5e5e5e"/>
<rect x="300" y="455" width="10" height="6" fill="#a3a3a3"/>
<rect x="310" y="455" width="20" height="6" fill="#5e5e5e"/>
<rect x="330" y="455" width="10" height="6" fill="#a3a3a3"/>
<rect x="340" y="455" width="10" height="6" fill="#4c4c4c"/>
<rect x="350" y="455" width="10" height="6" fill="#3e3e3e"/>
<rect x="360" y="455" width="10" height="6" fill="#303030"/>
<rect x="370" y="455" width="10" height="6" fill="#3e3e3e"/>
<rect x="380" y="455" width="10" height="6" fill="#4c4c4c"/>
<rect x="390" y="455" width="10" height="6" fill="#3e3e3e"/>
<rect x="400" y="455" width="10" height="6" fill="#5e5e5e"/>
<rect x="410" y="455" width="10" height="6" fill="#3e3e3e"/>
<rect x="420" y="455" width="50" height="6" fill="#4c4c4c"/>
<rect x="470" y="455" width="70" height="6" fill="#000000"/>
<rect x="540" y="455" width="30" height="6" fill="#5e5e5e"/>
<rect x="570" y="455" width="10" height="6" fill="#737373"/>
<rect x="580" y="455" width="20" height="6" fill="#5e5e5e"/>
<rect x="600" y="455" width="20" height="6" fill="#737373"/>
<rect x="620" y="455" width="10" height="6" fill="#5e5e5e"/>
<rect x="630" y="455" width="50" height="6" fill="#4c4c4c"/>
<rect x="680" y="455" width="30" height="6" fill="#3e3e3e"/>
<rect x="710" y="455" width="20" height="6" fill="#303030"/>
<rect x="730" y="455" width="30" height="6" fill="#373737"/>
<rect x="760" y="455" width="10" height="6" fill="#303030"/>
<rect x="770" y="455" width="20" height="6" fill="#4c4c4c"/>
<rect x="790" y="455" width="10" height="6" fill="#5e5e5e"/>
<rect x="800" y="455" width="130" height="6" fill="#060606"/>
<rect x="930" y="455" width="10" height="6" fill="#181818"/>
<rect x="940" y="455" width="20" height="6" fill="#303030"/>
<rect x="140" y="461" width="50" height="6" fill="#060606"/>
<rect x="190" y="461" width="10" height="6" fill="#212121"/>
<rect x="200" y="461" width="10" height="6" fill="#737373"/>
<rect x="210" y="461" width="10" height="6" fill="#3e3e3e"/>
<rect x="220" y="461" width="10" height="6" fill="#212121"/>
<rect x="230" y="461" width="20" height="6" fill="#0f0f0f"/>
<rect x="250" y="461" width="30" height="6" fill="#181818"/>
<rect x="280" y="461" width="10" height="6" fill="#292929"/>
<rect x="290" y="461" width="10" height="6" fill="#5e5e5e"/>
<rect x="300" y="461" width="10" height="6" fill="#737373"/>
<rect x="310" y="461" width="10" height="6" fill="#5e5e5e"/>
<rect x="320" y="461" width="10" height="6" fill="#373737"/>
<rect x="330" y="461" width="10" height="6" fill="#b8b8b8"/>
<rect x="340" y="461" width="10" height="6" fill="#4c4c4c"/>
<rect x="350" y="461" width="20" height="6" fill="#3e3e3e"/>
<rect x="370" y="461" width="80" height="6" fill="#4c4c4c"/>
<rect x="450" y="461" width="20" height="6" fill="#3e3e3e"/>
<rect x="470" y="461" width="70" height="6" fill="#000000"/>
<rect x="540" y="461" width="20" height="6" fill="#303030"/>
<rect x="560" y="461" width="10" height="6" fill="#737373"/>
<rect x="570" y="461" width="20" height="6" fill="#4c4c4c"/>
<rect x="590" y="461" width="10" height="6" fill="#5e5e5e"/>
<rect x="600" y="461" width="20" height="6" fill="#737373"/>
<rect x="620" y="461" width="50" height="6" fill="#4c4c4c"/>
<rect x="670" y="461" width="10" height="6" fill="#737373"/>
<rect x="680" y="461" width="10" height="6" fill="#5e5e5e"/>
<rect x="690" y="461" width="20" height="6" fill="#4c4c4c"/>
<rect x="710" y="461" width="20" height="6" fill="#303030"/>
<rect x="730" y="461" width="20" height="6" fill="#3e3e3e"/>
<rect x="750" y="461" width="20" height="6" fill="#303030"/>
<rect x="770" y="461" width="10" height="6" fill="#3e3e3e"/>
<rect x="780" y="461" width="20" height="6" fill="#4c4c4c"/>
<rect x="800" y="461" width="10" height="6" fill="#303030"/>
<rect x="810" y="461" width="120" height="6" fill="#060606"/>
<rect x="930" y="461" width="10" height="6" fill="#181818"/>
<rect x="940" y="461" width="20" height="6" fill="#303030"/>
<rect x="140" y="467" width="50" height="6" fill="#060606"/>
<rect x="190" y="467" width="10" height="6" fill="#212121"/>
<rect x="200" y="467" width="10" height="6" fill="#737373"/>
<rect x="210" y="467" width="10" height="6" fill="#3e3e3e"/>
<rect x="220" y="467" width="10" height="6" fill="#292929"/>
<rect x="230" y="467" width="50" height="6" fill="#181818"/>
<rect x="280" y="467" width="10" height="6" fill="#292929"/>
<rect x="290" y="467" width="10" height="6" fill="#5e5e5e"/>
<rect x="300" y="467" width="10" height="6" fill="#737373"/>
<rect x="310" y="467" width="10" height="6" fill="#5e5e5e"/>
<rect x="320" y="467" width="10" height="6" fill="#4c4c4c"/>
<rect x="330" y="467" width="10" height="6" fill="#8c8c8c"/>
<rect x="340" y="467" width="30" height="6" fill="#4c4c4c"/>
<rect x="370" y="467" width="10" height="6" fill="#5e5e5e"/>
<rect x="380" y="467" width="10" height="6" fill="#4c4c4c"/>
<rect x="390" y="467" width="10" height="6" fill="#737373"/>
<rect x="400" y="467" width="30" height="6" fill="#4c4c4c"/>
<rect x="430" y="467" width="40" height="6" fill="#3e3e3e"/>
<rect x="470" y="467" width="70" height="6" fill="#000000"/>
<rect x="540" y="467" width="20" height="6" fill="#212121"/>
<rect x="560" y="467" width="10" height="6" fill="#4c4c4c"/>
<rect x="570" y="467" width="10" height="6" fill="#303030"/>
<rect x="580" y="467" width="10" height="6" fill="#3e3e3e"/>
<rect x="590" y="467" width="20" height="6" fill="#4c4c4c"/>
<rect x="610" y="467" width="10" height="6" fill="#737373"/>
<rect x="620" y="467" width="10" height="6" fill="#4c4c4c"/>
<rect x="630" y="467" width="10" height="6" fill="#3e3e3e"/>
<rect x="640" y="467" width="30" height="6" fill="#4c4c4c"/>
<rect x="670" y="467" width="10" height="6" fill="#737373"/>
<rect x="680" y="467" width="10" height="6" fill="#5e5e5e"/>
<rect x="690" y="467" width="10" height="6" fill="#4c4c4c"/>
<rect x="700" y="467" width="30" height="6" fill="#303030"/>
<rect x="730" y="467" width="10" height="6" fill="#3e3e3e"/>
<rect x="740" y="467" width="30" height="6" fill="#303030"/>
<rect x="770" y="467" width="20" height="6" fill="#3e3e3e"/>
<rect x="790" y="467" width="20" height="6" fill="#4c4c4c"/>
<rect x="810" y="467" width="120" height="6" fill="#060606"/>
<rect x="930" y="467" width="10" height="6" fill="#181818"/>
<rect x="940" y="467" width="20" height="6" fill="#303030"/>
<rect x="140" y="473" width="50" height="6" fill="#060606"/>
<rect x="190" y="473" width="10" height="6" fill="#212121"/>
<rect x="200" y="473" width="10" height="6" fill="#5e5e5e"/>
<rect x="210" y="473" width="10" height="6" fill="#303030"/>
<rect x="220" y="473" width="10" height="6" fill="#292929"/>
<rect x="230" y="473" width="50" height="6" fill="#181818"/>
<rect x="280" y="473" width="10" height="6" fill="#292929"/>
<rect x="290" y="473" width="30" height="6" fill="#5e5e5e"/>
<rect x="320" y="473" width="10" height="6" fill="#4c4c4c"/>
<rect x="330" y="473" width="10" height="6" fill="#737373"/>
<rect x="340" y="473" width="10" height="6" fill="#5e5e5e"/>
<rect x="350" y="473" width="60" height="6" fill="#737373"/>
<rect x="410" y="473" width="20" height="6" fill="#5e5e5e"/>
<rect x="430" y="473" width="30" height="6" fill="#4c4c4c"/>
<rect x="460" y="473" width="10" height="6" fill="#303030"/>
<rect x="470" y="473" width="70" height="6" fill="#000000"/>
<rect x="540" y="473" width="20" height="6" fill="#212121"/>
<rect x="560" y="473" width="30" height="6" fill="#303030"/>
<rect x="590" y="473" width="10" height="6" fill="#5e5e5e"/>
<rect x="600" y="473" width="10" height="6" fill="#3e3e3e"/>
<rect x="610" y="473" width="10" height="6" fill="#5e5e5e"/>
<rect x="620" y="473" width="20" height="6" fill="#4c4c4c"/>
<rect x="640" y="473" width="10" height="6" fill="#3e3e3e"/>
<rect x="650" y="473" width="20" height="6" fill="#4c4c4c"/>
<rect x="670" y="473" width="10" height="6" fill="#5e5e5e"/>
<rect x="680" y="473" width="20" height="6" fill="#737373"/>
<rect x="700" y="473" width="30" height="6" fill="#303030"/>
<rect x="730" y="473" width="10" height="6" fill="#3e3e3e"/>
<rect x="740" y="473" width="30" height="6" fill="#303030"/>
<rect x="770" y="473" width="10" height="6" fill="#3e3e3e"/>
<rect x="780" y="473" width="10" height="6" fill="#4c4c4c"/>
<rect x="790" y="473" width="10" height="6" fill="#3e3e3e"/>
<rect x="800" y="473" width="10" height="6" fill="#4c4c4c"/>
<rect x="810" y="473" width="10" height="6" fill="#303030"/>
<rect x="820" y="473" width="110" height="6" fill="#060606"/>
<rect x="930" y="473" width="10" height="6" fill="#212121"/>
<rect x="940" y="473" width="20" height="6" fill="#3e3e3e"/>
<rect x="140" y="479" width="50" height="6" fill="#060606"/>
<rect x="190" y="479" width="10" height="6" fill="#212121"/>
<rect x="200" y="479" width="20" height="6" fill="#4c4c4c"/>
<rect x="220" y="479" width="20" height="6" fill="#303030"/>
<rect x="240" y="479" width="40" height="6" fill="#212121"/>
<rect x="280" y="479" width="10" height="6" fill="#303030"/>
<rect x="290" y="479" width="20" height="6" fill="#4c4c4c"/>
<rect x="310" y="479" width="10" height="6" fill="#3e3e3e"/>
<rect x="320" y="479" width="10" height="6" fill="#4c4c4c"/>
<rect x="330" y="479" width="20" height="6" fill="#737373"/>
<rect x="350" y="479" width="10" height="6" fill="#a3a3a3"/>
<rect x="360" y="479" width="10" height="6" fill="#8c8c8c"/>
<rect x="370" y="479" width="10" height="6" fill="#737373"/>
<rect x="380" y="479" width="10" height="6" fill="#5e5e5e"/>
<rect x="390" y="479" width="10" height="6" fill="#737373"/>
<rect x="400" y="479" width="20" height="6" fill="#5e5e5e"/>
<rect x="420" y="479" width="50" height="6" fill="#4c4c4c"/>
<rect x="470" y="479" width="70" height="6" fill="#000000"/>
<rect x="540" y="479" width="20" height="6" fill="#212121"/>
<rect x="560" y="479" width="30" height="6" fill="#303030"/>
<rect x="590" y="479" width="10" height="6" fill="#5e5e5e"/>
<rect x="600" y="479" width="10" height="6" fill="#3e3e3e"/>
<rect x="610" y="479" width="10" height="6" fill="#737373"/>
<rect x="620" y="479" width="20" height="6" fill="#4c4c4c"/>
<rect x="640" y="479" width="10" height="6" fill="#3e3e3e"/>
<rect x="650" y="479" width="20" height="6" fill="#4c4c4c"/>
<rect x="670" y="479" width="10" height="6" fill="#5e5e5e"/>
<rect x="680" y="479" width="20" height="6" fill="#8c8c8c"/>
<rect x="700" y="479" width="40" height="6" fill="#303030"/>
<rect x="740" y="479" width="10" height="6" fill="#3e3e3e"/>
<rect x="750" y="479" width="30" height="6" fill="#303030"/>
<rect x="780" y="479" width="30" height="6" fill="#3e3e3e"/>
<rect x="810" y="479" width="10" height="6" fill="#303030"/>
<rect x="820" y="479" width="110" height="6" fill="#060606"/>
<rect x="930" y="479" width="10" height="6" fill="#212121"/>
<rect x="940" y="479" width="20" height="6" fill="#3e3e3e"/>
<rect x="140" y="485" width="50" height="6" fill="#060606"/>
<rect x="190" y="485" width="10" height="6" fill="#303030"/>
<rect x="200" y="485" width="10" height="6" fill="#737373"/>
<rect x="210" y="485" width="10" height="6" fill="#4c4c4c"/>
<rect x="220" y="485" width="10" height="6" fill="#3e3e3e"/>
<rect x="230" y="485" width="10" height="6" fill="#303030"/>
<rect x="240" y="485" width="40" height="6" fill="#212121"/>
<rect x="280" y="485" width="10" height="6" fill="#303030"/>
<rect x="290" y="485" width="20" height="6" fill="#4c4c4c"/>
<rect x="310" y="485" width="10" height="6" fill="#3e3e3e"/>
<rect x="320" y="485" width="10" height="6" fill="#5e5e5e"/>
<rect x="330" y="485" width="10" height="6" fill="#737373"/>
<rect x="340" y="485" width="20" height="6" fill="#8c8c8c"/>
<rect x="360" y="485" width="20" height="6" fill="#737373"/>
<rect x="380" y="485" width="10" height="6" fill="#8c8c8c"/>
<rect x="390" y="485" width="20" height="6" fill="#5e5e5e"/>
<rect x="410" y="485" width="50" height="6" fill="#4c4c4c"/>
<rect x="460" y="485" width="10" height="6" fill="#303030"/>
<rect x="470" y="485" width="70" height="6" fill="#000000"/>
<rect x="540" y="485" width="40" height="6" fill="#212121"/>
<rect x="580" y="485" width="10" height="6" fill="#303030"/>
<rect x="590" y="485" width="10" height="6" fill="#4c4c4c"/>
<rect x="600" y="485" width="10" height="6" fill="#3e3e3e"/>
<rect x="610" y="485" width="10" height="6" fill="#5e5e5e"/>
<rect x="620" y="485" width="30" height="6" fill="#3e3e3e"/>
<rect x="650" y="485" width="10" height="6" fill="#4c4c4c"/>
<rect x="660" y="485" width="10" height="6" fill="#303030"/>
<rect x="670" y="485" width="10" height="6" fill="#5e5e5e"/>
<rect x="680" y="485" width="20" height="6" fill="#8c8c8c"/>
<rect x="700" y="485" width="60" height="6" fill="#303030"/>
<rect x="760" y="485" width="10" height="6" fill="#181818"/>
<rect x="770" y="485" width="10" height="6" fill="#3e3e3e"/>
<rect x="780" y="485" width="10" height="6" fill="#303030"/>
<rect x="790" y="485" width="10" height="6" fill="#3e3e3e"/>
<rect x="800" y="485" width="10" height="6" fill="#303030"/>
<rect x="810" y="485" width="10" height="6" fill="#060606"/>
<rect x="820" y="485" width="10" height="6" fill="#303030"/>
<rect x="830" y="485" width="10" height="6" fill="#212121"/>
<rect x="840" y="485" width="90" height="6" fill="#060606"/>
<rect x="930" y="485" width="10" height="6" fill="#212121"/>
<rect x="940" y="485" width="20" height="6" fill="#3e3e3e"/>
<rect x="140" y="491" width="40" height="6" fill="#060606"/>
<rect x="180" y="491" width="10" height="6" fill="#0f0f0f"/>
<rect x="190" y="491" width="10" height="6" fill="#303030"/>
<rect x="200" y="491" width="10" height="6" fill="#a3a3a3"/>
<rect x="210" y="491" width="10" height="6" fill="#5e5e5e"/>
<rect x="220" y="491" width="10" height="6" fill="#3e3e3e"/>
<rect x="230" y="491" width="10" height="6" fill="#303030"/>
<rect x="240" y="491" width="40" height="6" fill="#212121"/>
<rect x="280" y="491" width="10" height="6" fill="#303030"/>
<rect x="290" y="491" width="20" height="6" fill="#4c4c4c"/>
<rect x="310" y="491" width="10" height="6" fill="#3e3e3e"/>
<rect x="320" y="491" width="10" height="6" fill="#5e5e5e"/>
<rect x="330" y="491" width="10" height="6" fill="#737373"/>
<rect x="340" y="491" width="10" height="6" fill="#8c8c8c"/>
<rect x="350" y="491" width="20" height="6" fill="#737373"/>
<rect x="370" y="491" width="10" height="6" fill="#5e5e5e"/>
<rect x="380" y="491" width="10" height="6" fill="#8c8c8c"/>
<rect x="390" y="491" width="20" height="6" fill="#5e5e5e"/>
<rect x="410" y="491" width="60" height="6" fill="#4c4c4c"/>
<rect x="470" y="491" width="70" height="6" fill="#000000"/>
<rect x="540" y="491" width="10" height="6" fill="#303030"/>
<rect x="550" y="491" width="30" height="6" fill="#212121"/>
<rect x="580" y="491" width="10" height="6" fill="#303030"/>
<rect x="590" y="491" width="20" height="6" fill="#3e3e3e"/>
<rect x="610" y="491" width="10" height="6" fill="#5e5e5e"/>
<rect x="620" y="491" width="50" height="6" fill="#303030"/>
<rect x="670" y="491" width="10" height="6" fill="#3e3e3e"/>
<rect x="680" y="491" width="10" height="6" fill="#4c4c4c"/>
<rect x="690" y="491" width="10" height="6" fill="#5e5e5e"/>
<rect x="700" y="491" width="60" height="6" fill="#303030"/>
<rect x="760" y="491" width="10" height="6" fill="#181818"/>
<rect x="770" y="491" width="10" height="6" fill="#3e3e3e"/>
<rect x="780" y="491" width="10" height="6" fill="#181818"/>
<rect x="790" y="491" width="10" height="6" fill="#303030"/>
<rect x="800" y="491" width="10" height="6" fill="#060606"/>
<rect x="810" y="491" width="10" height="6" fill="#212121"/>
<rect x="820" y="491" width="10" height="6" fill="#303030"/>
<rect x="830" y="491" width="10" height="6" fill="#212121"/>
<rect x="840" y="491" width="90" height="6" fill="#060606"/>
<rect x="930" y="491" width="10" height="6" fill="#303030"/>
<rect x="940" y="491" width="20" height="6" fill="#3e3e3e"/>
<rect x="140" y="497" width="40" height="6" fill="#060606"/>
<rect x="180" y="497" width="10" height="6" fill="#212121"/>
<rect x="190" y="497" width="20" height="6" fill="#a3a3a3"/>
<rect x="210" y="497" width="10" height="6" fill="#737373"/>
<rect x="220" y="497" width="10" height="6" fill="#3e3e3e"/>
<rect x="230" y="497" width="20" height="6" fill="#303030"/>
<rect x="250" y="497" width="30" height="6" fill="#212121"/>
<rect x="280" y="497" width="10" height="6" fill="#303030"/>
<rect x="290" y="497" width="30" height="6" fill="#4c4c4c"/>
<rect x="320" y="497" width="100" height="6" fill="#5e5e5e"/>
<rect x="420" y="497" width="10" height="6" fill="#737373"/>
<rect x="430" y="497" width="10" height="6" fill="#8c8c8c"/>
<rect x="440" y="497" width="30" height="6" fill="#a3a3a3"/>
<rect x="470" y="497" width="70" height="6" fill="#000000"/>
<rect x="540" y="497" width="20" height="6" fill="#3e3e3e"/>
<rect x="560" y="497" width="50" height="6" fill="#303030"/>
<rect x="610" y="497" width="10" height="6" fill="#3e3e3e"/>
<rect x="620" y="497" width="140" height="6" fill="#303030"/>
<rect x="760" y="497" width="40" height="6" fill="#181818"/>
<rect x="800" y="497" width="20" height="6" fill="#060606"/>
<rect x="820" y="497" width="20" height="6" fill="#303030"/>
<rect x="840" y="497" width="10" height="6" fill="#212121"/>
<rect x="850" y="497" width="80" height="6" fill="#060606"/>
<rect x="930" y="497" width="10" height="6" fill="#303030"/>
<rect x="940" y="497" width="20" height="6" fill="#3e3e3e"/>
<rect x="140" y="503" width="40" height="14" fill="#060606"/>
<rect x="180" y="503" width="10" height="14" fill="#0f0f0f"/>
<rect x="190" y="503" width="30" height="14" fill="#303030"/>
<rect x="220" y="503" width="70" height="14" fill="#212121"/>
<rect x="290" y="503" width="130" height="14" fill="#3e3e3e"/>
<rect x="420" y="503" width="10" height="14" fill="#4c4c4c"/>
<rect x="430" y="503" width="10" height="14" fill="#5e5e5e"/>
<rect x="440" y="503" width="30" height="14" fill="#737373"/>
<rect x="470" y="503" width="70" height="14" fill="#000000"/>
<rect x="540" y="503" width="20" height="14" fill="#3e3e3e"/>
<rect x="560" y="503" width="90" height="14" fill="#303030"/>
<rect x="650" y="503" width="110" height="14" fill="#212121"/>
<rect x="760" y="503" width="40" height="14" fill="#181818"/>
<rect x="800" y="503" width="30" height="14" fill="#060606"/>
<rect x="830" y="503" width="10" height="14" fill="#212121"/>
<rect x="840" y="503" width="90" height="14" fill="#060606"/>
<rect x="930" y="503" width="10" height="14" fill="#303030"/>
<rect x="940" y="503" width="20" height="14" fill="#3e3e3e"/>
</g>
<g fill="none" stroke-linecap="round" filter="url(#sb05)"><path d="M304.0 400.2l0.0 7.1" stroke="#414141" stroke-width="1.5"/><path d="M331.9 405.9l1.6 9.7" stroke="#3b3b3b" stroke-width="1.5"/><path d="M425.3 399.3l0.7 9.8" stroke="#424242" stroke-width="1.5"/><path d="M435.1 399.3l-0.9 12.0" stroke="#3c3c3c" stroke-width="1.5"/><path d="M609.8 399.4l0.2 7.5" stroke="#393939" stroke-width="1.5"/><path d="M684.9 399.3l2.0 8.0" stroke="#414141" stroke-width="1.5"/><path d="M943.5 398.5l0.5 12.5" stroke="#3b3b3b" stroke-width="1.5"/><path d="M301.5 407.8l0.0 14.0" stroke="#3d3d3d" stroke-width="1.5"/><path d="M320.5 406.7l1.8 8.8" stroke="#363636" stroke-width="2.0"/><path d="M458.9 404.6l-1.9 7.4" stroke="#3d3d3d" stroke-width="2.0"/><path d="M204.2 410.1l-0.2 11.2" stroke="#545454" stroke-width="1.2"/><path d="M217.7 411.7l-1.3 13.6" stroke="#595959" stroke-width="1.2"/><path d="M315.4 416.0l-2.1 8.9" stroke="#626262" stroke-width="1.2"/><path d="M467.9 415.7l1.3 8.3" stroke="#606060" stroke-width="1.2"/><path d="M559.4 412.4l1.0 6.8" stroke="#868686" stroke-width="1.5"/><path d="M578.0 418.5l1.9 5.0" stroke="#6d6d6d" stroke-width="2.0"/><path d="M590.0 415.9l-0.6 10.7" stroke="#6d6d6d" stroke-width="1.2"/><path d="M596.4 410.6l-0.1 13.3" stroke="#989898" stroke-width="1.5"/><path d="M602.3 417.0l-1.7 7.3" stroke="#808080" stroke-width="1.2"/><path d="M616.3 412.9l-1.0 9.4" stroke="#b4b4b4" stroke-width="1.2"/><path d="M613.8 414.6l0.9 7.6" stroke="#e6e6e6" stroke-width="2.0"/><path d="M628.4 414.6l1.6 7.4" stroke="#c4c4c4" stroke-width="1.5"/><path d="M622.4 417.5l2.4 6.3" stroke="#c8c8c8" stroke-width="2.0"/><path d="M630.4 412.0l0.5 12.9" stroke="#868686" stroke-width="1.2"/><path d="M649.3 415.1l1.5 13.7" stroke="#838383" stroke-width="2.0"/><path d="M649.4 410.3l0.5 8.8" stroke="#969696" stroke-width="1.5"/><path d="M654.1 416.7l1.2 12.6" stroke="#c3c3c3" stroke-width="1.0"/><path d="M653.1 415.3l1.9 7.1" stroke="#c4c4c4" stroke-width="1.2"/><path d="M662.3 413.5l-0.1 6.7" stroke="#a6a6a6" stroke-width="2.0"/><path d="M672.6 413.7l-0.4 9.1" stroke="#868686" stroke-width="1.0"/><path d="M698.2 413.5l-1.0 13.4" stroke="#898989" stroke-width="1.3"/><path d="M710.0 414.9l2.5 9.7" stroke="#4b4b4b" stroke-width="1.2"/><path d="M202.8 420.6l-0.7 5.3" stroke="#858585" stroke-width="1.0"/><path d="M216.7 421.6l2.3 12.8" stroke="#676767" stroke-width="2.0"/><path d="M318.5 418.9l-1.7 12.0" stroke="#6a6a6a" stroke-width="1.5"/><path d="M549.5 420.9l-2.2 5.5" stroke="#999999" stroke-width="1.3"/><path d="M555.5 420.2l-0.8 12.7" stroke="#b6b6b6" stroke-width="1.0"/><path d="M569.8 417.6l-0.8 12.2" stroke="#bebebe" stroke-width="1.3"/><path d="M571.0 419.1l-1.8 11.7" stroke="#b7b7b7" stroke-width="1.0"/><path d="M572.1 416.8l-2.3 7.1" stroke="#bababa" stroke-width="1.0"/><path d="M582.7 424.7l1.9 11.3" stroke="#878787" stroke-width="1.2"/><path d="M591.5 419.5l-0.8 8.4" stroke="#ababab" stroke-width="1.5"/><path d="M598.3 422.6l-0.8 11.6" stroke="#a5a5a5" stroke-width="2.0"/><path d="M605.7 419.8l0.2 8.2" stroke="#898989" stroke-width="1.0"/><path d="M611.8 418.7l0.3 12.9" stroke="#ececec" stroke-width="1.5"/><path d="M610.4 420.8l-2.0 13.2" stroke="#c6c6c6" stroke-width="2.0"/><path d="M624.6 418.6l0.8 9.2" stroke="#bbbbbb" stroke-width="1.2"/><path d="M620.5 418.1l-1.0 9.3" stroke="#acacac" stroke-width="1.5"/><path d="M639.5 420.7l-2.5 8.2" stroke="#acacac" stroke-width="1.5"/><path d="M640.7 424.5l-1.7 7.6" stroke="#a0a0a0" stroke-width="1.2"/><path d="M644.4 421.8l0.6 12.2" stroke="#b9b9b9" stroke-width="1.2"/><path d="M655.9 420.5l2.2 8.5" stroke="#cacaca" stroke-width="1.5"/><path d="M650.4 423.1l-1.8 13.4" stroke="#e3e3e3" stroke-width="1.2"/><path d="M669.4 419.9l1.2 9.2" stroke="#9f9f9f" stroke-width="1.5"/><path d="M678.4 418.6l-2.4 8.9" stroke="#6c6c6c" stroke-width="1.2"/><path d="M698.0 418.3l-1.4 13.7" stroke="#545454" stroke-width="1.5"/><path d="M707.4 417.1l-2.3 5.1" stroke="#565656" stroke-width="1.2"/><path d="M717.5 420.3l-0.4 8.2" stroke="#6a6a6a" stroke-width="2.0"/><path d="M208.9 429.9l-2.1 5.8" stroke="#707070" stroke-width="1.5"/><path d="M215.4 427.0l1.4 5.0" stroke="#7e7e7e" stroke-width="1.3"/><path d="M317.8 429.5l0.9 11.1" stroke="#717171" stroke-width="1.2"/><path d="M322.1 424.8l0.9 11.5" stroke="#626262" stroke-width="1.2"/><path d="M338.0 430.9l-2.1 12.1" stroke="#808080" stroke-width="1.0"/><path d="M445.1 425.6l0.7 9.8" stroke="#737373" stroke-width="1.3"/><path d="M547.0 427.9l-1.7 11.9" stroke="#b6b6b6" stroke-width="1.0"/><path d="M549.0 422.2l-0.9 7.2" stroke="#b6b6b6" stroke-width="1.5"/><path d="M558.3 427.3l-1.3 6.6" stroke="#d2d2d2" stroke-width="2.0"/><path d="M557.1 425.8l-0.3 8.4" stroke="#e1e1e1" stroke-width="2.0"/><path d="M563.2 428.8l2.3 9.2" stroke="#b9b9b9" stroke-width="1.2"/><path d="M563.8 423.6l2.2 7.8" stroke="#bdbdbd" stroke-width="1.2"/><path d="M579.9 429.0l0.0 10.0" stroke="#b8b8b8" stroke-width="1.2"/><path d="M577.9 423.8l2.2 7.2" stroke="#e0e0e0" stroke-width="1.0"/><path d="M581.8 426.6l-2.5 7.8" stroke="#9c9c9c" stroke-width="1.3"/><path d="M595.0 426.9l-2.3 8.8" stroke="#808080" stroke-width="1.5"/><path d="M599.4 425.3l-1.2 14.0" stroke="#919191" stroke-width="1.2"/><path d="M601.0 425.1l-0.6 13.6" stroke="#8e8e8e" stroke-width="1.2"/><path d="M615.3 428.7l-0.4 7.9" stroke="#ececec" stroke-width="1.2"/><path d="M616.5 425.2l1.8 13.0" stroke="#dedede" stroke-width="1.2"/><path d="M627.7 424.7l2.1 6.8" stroke="#afafaf" stroke-width="1.5"/><path d="M620.6 423.3l-1.1 12.4" stroke="#b8b8b8" stroke-width="1.2"/><path d="M633.9 423.0l2.1 12.6" stroke="#a2a2a2" stroke-width="2.0"/><path d="M649.6 425.2l0.6 8.1" stroke="#c0c0c0" stroke-width="1.2"/><path d="M640.9 429.2l0.3 12.6" stroke="#eaeaea" stroke-width="1.5"/><path d="M658.0 426.0l-0.8 10.5" stroke="#acacac" stroke-width="1.5"/><path d="M663.6 426.2l-2.2 13.7" stroke="#969696" stroke-width="1.3"/><path d="M673.0 429.3l-1.1 12.1" stroke="#6e6e6e" stroke-width="1.3"/><path d="M680.3 429.0l-1.7 12.0" stroke="#6b6b6b" stroke-width="2.0"/><path d="M209.0 429.4l-1.9 11.1" stroke="#a3a3a3" stroke-width="1.0"/><path d="M216.8 434.0l-1.0 9.7" stroke="#4a4a4a" stroke-width="1.5"/><path d="M297.9 434.2l-2.1 10.7" stroke="#6a6a6a" stroke-width="1.2"/><path d="M309.5 434.2l-1.1 5.4" stroke="#767676" stroke-width="1.5"/><path d="M312.9 428.4l0.6 13.8" stroke="#808080" stroke-width="2.0"/><path d="M327.5 430.1l0.1 6.6" stroke="#5c5c5c" stroke-width="1.2"/><path d="M333.4 432.8l-2.2 12.0" stroke="#9b9b9b" stroke-width="1.3"/><path d="M421.7 431.1l-1.4 9.2" stroke="#363636" stroke-width="1.5"/><path d="M435.0 429.3l-0.9 6.9" stroke="#565656" stroke-width="2.0"/><path d="M456.5 430.4l-0.9 8.7" stroke="#979797" stroke-width="1.3"/><path d="M462.3 432.5l-0.9 12.6" stroke="#818181" stroke-width="1.3"/><path d="M546.2 436.1l-2.3 13.0" stroke="#acacac" stroke-width="1.5"/><path d="M557.0 436.6l0.4 5.8" stroke="#c5c5c5" stroke-width="1.3"/><path d="M555.1 435.5l-0.4 6.3" stroke="#cfcfcf" stroke-width="1.2"/><path d="M564.7 429.0l-0.2 5.4" stroke="#b6b6b6" stroke-width="1.2"/><path d="M561.7 429.3l-0.4 7.2" stroke="#aeaeae" stroke-width="2.0"/><path d="M574.5 434.9l-0.0 13.6" stroke="#eeeeee" stroke-width="2.0"/><path d="M577.7 428.7l-1.1 7.0" stroke="#fafafa" stroke-width="1.0"/><path d="M583.5 429.5l1.7 12.4" stroke="#9d9d9d" stroke-width="2.0"/><path d="M598.6 429.4l-1.7 7.0" stroke="#a6a6a6" stroke-width="1.3"/><path d="M603.6 435.4l-1.6 5.6" stroke="#909090" stroke-width="1.5"/><path d="M614.8 434.1l-0.5 7.9" stroke="#b5b5b5" stroke-width="2.0"/><path d="M626.0 432.4l-2.1 9.3" stroke="#d7d7d7" stroke-width="1.3"/><path d="M623.8 431.2l0.3 13.4" stroke="#e5e5e5" stroke-width="1.2"/><path d="M635.6 435.7l-0.5 11.5" stroke="#828282" stroke-width="1.5"/><path d="M638.1 434.9l-0.3 11.6" stroke="#a3a3a3" stroke-width="1.5"/><path d="M646.8 430.2l-1.3 10.8" stroke="#c2c2c2" stroke-width="1.0"/><path d="M642.2 428.7l-1.2 8.7" stroke="#b5b5b5" stroke-width="1.2"/><path d="M651.0 432.2l1.0 9.4" stroke="#8a8a8a" stroke-width="1.0"/><path d="M669.2 433.9l0.8 5.1" stroke="#969696" stroke-width="1.0"/><path d="M678.1 428.5l2.3 10.7" stroke="#6e6e6e" stroke-width="2.0"/><path d="M694.1 432.2l-0.2 6.3" stroke="#515151" stroke-width="1.2"/><path d="M727.4 433.3l1.6 13.2" stroke="#3f3f3f" stroke-width="1.5"/><path d="M732.5 430.4l2.3 6.5" stroke="#3a3a3a" stroke-width="1.5"/><path d="M201.8 440.8l-0.2 5.1" stroke="#696969" stroke-width="1.2"/><path d="M294.7 439.4l0.6 13.9" stroke="#5d5d5d" stroke-width="1.2"/><path d="M301.5 436.5l1.3 13.0" stroke="#c8c8c8" stroke-width="1.0"/><path d="M306.4 441.2l1.8 5.8" stroke="#c7c7c7" stroke-width="1.2"/><path d="M310.2 438.4l-0.7 10.5" stroke="#939393" stroke-width="1.0"/><path d="M319.2 441.2l2.5 6.2" stroke="#a4a4a4" stroke-width="2.0"/><path d="M333.5 440.9l1.4 10.4" stroke="#c2c2c2" stroke-width="2.0"/><path d="M338.9 435.9l1.4 9.6" stroke="#9c9c9c" stroke-width="2.0"/><path d="M445.0 442.4l-2.2 7.9" stroke="#626262" stroke-width="1.5"/><path d="M454.5 436.2l-1.0 7.4" stroke="#565656" stroke-width="1.5"/><path d="M547.5 434.3l1.3 8.9" stroke="#d4d4d4" stroke-width="2.0"/><path d="M549.3 438.4l2.0 8.5" stroke="#b4b4b4" stroke-width="2.0"/><path d="M557.5 438.2l-1.6 6.4" stroke="#eaeaea" stroke-width="1.0"/><path d="M552.3 439.9l2.2 7.8" stroke="#e5e5e5" stroke-width="1.3"/><path d="M557.2 438.9l0.4 9.5" stroke="#cbcbcb" stroke-width="2.0"/><path d="M560.3 440.3l-2.0 6.1" stroke="#d3d3d3" stroke-width="1.5"/><path d="M564.0 436.8l-1.9 9.6" stroke="#dddddd" stroke-width="2.0"/><path d="M572.8 441.9l0.9 9.3" stroke="#cecece" stroke-width="1.5"/><path d="M578.2 441.6l0.5 9.9" stroke="#d4d4d4" stroke-width="1.3"/><path d="M582.4 436.2l-1.4 10.5" stroke="#8e8e8e" stroke-width="1.5"/><path d="M598.9 435.0l-0.2 11.9" stroke="#7e7e7e" stroke-width="1.5"/><path d="M607.2 436.9l2.4 5.4" stroke="#9c9c9c" stroke-width="1.3"/><path d="M600.8 434.3l2.3 8.4" stroke="#949494" stroke-width="1.5"/><path d="M610.6 440.7l-1.5 9.5" stroke="#c8c8c8" stroke-width="1.3"/><path d="M621.1 438.6l-0.7 11.2" stroke="#959595" stroke-width="1.5"/><path d="M636.5 442.3l1.0 8.8" stroke="#989898" stroke-width="1.0"/><path d="M632.4 440.1l-0.8 13.7" stroke="#929292" stroke-width="2.0"/><path d="M646.5 439.6l-1.6 8.7" stroke="#a6a6a6" stroke-width="1.5"/><path d="M640.2 434.4l-1.0 10.6" stroke="#9c9c9c" stroke-width="1.5"/><path d="M653.5 437.1l-2.0 5.1" stroke="#767676" stroke-width="2.0"/><path d="M667.0 434.1l2.1 8.3" stroke="#7e7e7e" stroke-width="2.0"/><path d="M686.6 441.7l0.0 11.2" stroke="#595959" stroke-width="1.5"/><path d="M708.3 434.4l-2.4 6.2" stroke="#7d7d7d" stroke-width="1.0"/><path d="M716.4 440.3l-2.2 6.3" stroke="#8a8a8a" stroke-width="1.0"/><path d="M202.9 448.7l-0.7 12.3" stroke="#585858" stroke-width="1.5"/><path d="M290.2 442.2l0.0 8.4" stroke="#727272" stroke-width="1.3"/><path d="M305.7 440.4l1.3 12.1" stroke="#adadad" stroke-width="1.3"/><path d="M309.6 443.4l2.1 11.8" stroke="#bdbdbd" stroke-width="1.5"/><path d="M312.9 445.2l0.2 6.5" stroke="#898989" stroke-width="1.2"/><path d="M321.6 446.3l-1.1 7.5" stroke="#5e5e5e" stroke-width="1.5"/><path d="M332.3 441.8l-1.2 6.3" stroke="#e5e5e5" stroke-width="2.0"/><path d="M335.2 441.1l0.5 5.3" stroke="#c0c0c0" stroke-width="2.0"/><path d="M417.1 443.4l-2.4 10.5" stroke="#424242" stroke-width="1.2"/><path d="M422.8 445.4l1.0 5.5" stroke="#565656" stroke-width="2.0"/><path d="M468.9 445.8l1.7 11.2" stroke="#686868" stroke-width="1.2"/><path d="M541.7 446.6l2.3 8.1" stroke="#9e9e9e" stroke-width="1.5"/><path d="M544.9 442.6l0.4 13.9" stroke="#9e9e9e" stroke-width="1.0"/><path d="M551.7 448.4l2.4 13.1" stroke="#eaeaea" stroke-width="2.0"/><path d="M550.8 445.4l1.9 9.6" stroke="#d8d8d8" stroke-width="1.2"/><path d="M558.3 444.5l-0.5 5.3" stroke="#e9e9e9" stroke-width="1.3"/><path d="M560.2 446.7l-0.8 9.8" stroke="#b4b4b4" stroke-width="2.0"/><path d="M560.2 441.3l-2.2 6.9" stroke="#cacaca" stroke-width="1.3"/><path d="M578.7 448.1l-1.5 12.5" stroke="#c2c2c2" stroke-width="1.0"/><path d="M578.2 443.4l1.3 11.6" stroke="#cfcfcf" stroke-width="1.2"/><path d="M581.2 442.1l0.0 11.0" stroke="#8f8f8f" stroke-width="1.2"/><path d="M594.5 448.8l1.3 13.3" stroke="#6a6a6a" stroke-width="2.0"/><path d="M618.7 447.9l2.4 11.2" stroke="#a0a0a0" stroke-width="1.2"/><path d="M619.9 446.7l-0.8 11.8" stroke="#8c8c8c" stroke-width="1.5"/><path d="M623.0 443.0l1.6 11.2" stroke="#969696" stroke-width="1.3"/><path d="M628.5 440.7l-0.4 12.0" stroke="#979797" stroke-width="1.2"/><path d="M630.8 447.6l-1.8 13.6" stroke="#8c8c8c" stroke-width="1.5"/><path d="M644.5 440.0l-2.4 10.0" stroke="#b2b2b2" stroke-width="1.5"/><path d="M647.9 446.2l0.3 7.6" stroke="#a5a5a5" stroke-width="1.0"/><path d="M655.0 440.8l-0.5 8.3" stroke="#b3b3b3" stroke-width="1.5"/><path d="M658.8 445.3l-1.2 12.2" stroke="#adadad" stroke-width="2.0"/><path d="M669.3 440.4l-0.7 6.6" stroke="#737373" stroke-width="2.0"/><path d="M673.8 446.0l2.5 10.7" stroke="#666666" stroke-width="1.5"/><path d="M697.8 444.2l-0.2 13.4" stroke="#4a4a4a" stroke-width="2.0"/><path d="M791.1 448.2l0.8 9.6" stroke="#7e7e7e" stroke-width="1.2"/><path d="M200.8 448.9l-1.0 5.3" stroke="#858585" stroke-width="1.5"/><path d="M290.5 449.6l-1.4 13.9" stroke="#838383" stroke-width="1.2"/><path d="M307.6 452.8l2.1 10.4" stroke="#c0c0c0" stroke-width="1.2"/><path d="M304.8 452.2l1.8 8.3" stroke="#b5b5b5" stroke-width="1.5"/><path d="M316.4 450.9l-0.2 7.6" stroke="#747474" stroke-width="1.5"/><path d="M325.2 453.6l1.8 11.8" stroke="#999999" stroke-width="1.3"/><path d="M335.0 448.7l-1.0 5.6" stroke="#cecece" stroke-width="1.2"/><path d="M335.3 446.1l0.5 6.4" stroke="#bbbbbb" stroke-width="1.0"/><path d="M421.6 450.5l1.3 7.2" stroke="#575757" stroke-width="1.5"/><path d="M435.4 448.4l1.4 7.8" stroke="#606060" stroke-width="1.5"/><path d="M449.3 446.2l2.4 8.3" stroke="#868686" stroke-width="2.0"/><path d="M457.1 453.4l-1.0 12.5" stroke="#878787" stroke-width="1.0"/><path d="M464.8 448.4l-0.8 11.1" stroke="#515151" stroke-width="2.0"/><path d="M544.1 448.4l0.9 11.4" stroke="#9d9d9d" stroke-width="1.2"/><path d="M545.5 452.1l2.4 9.7" stroke="#cacaca" stroke-width="1.3"/><path d="M552.9 447.5l0.2 12.0" stroke="#bababa" stroke-width="1.3"/><path d="M557.2 453.5l-2.4 8.4" stroke="#eaeaea" stroke-width="2.0"/><path d="M568.7 452.9l-1.7 11.0" stroke="#c2c2c2" stroke-width="1.5"/><path d="M565.4 447.0l-0.8 6.1" stroke="#b7b7b7" stroke-width="2.0"/><path d="M575.4 448.9l2.0 9.6" stroke="#e3e3e3" stroke-width="2.0"/><path d="M574.3 446.3l-1.3 7.7" stroke="#b9b9b9" stroke-width="1.0"/><path d="M585.0 447.7l-2.4 5.8" stroke="#9b9b9b" stroke-width="1.0"/><path d="M596.8 447.6l-1.5 12.9" stroke="#828282" stroke-width="2.0"/><path d="M607.4 447.8l1.6 11.4" stroke="#c2c2c2" stroke-width="2.0"/><path d="M602.7 446.9l-1.8 10.7" stroke="#c9c9c9" stroke-width="1.2"/><path d="M620.0 447.4l-0.8 11.0" stroke="#d9d9d9" stroke-width="1.0"/><path d="M619.5 451.0l-0.9 13.6" stroke="#d0d0d0" stroke-width="1.0"/><path d="M620.0 449.6l-2.3 11.3" stroke="#9e9e9e" stroke-width="2.0"/><path d="M626.6 452.4l-2.1 7.9" stroke="#b8b8b8" stroke-width="1.2"/><path d="M632.5 453.6l0.4 11.5" stroke="#808080" stroke-width="1.0"/><path d="M630.4 451.4l-1.3 9.7" stroke="#929292" stroke-width="1.3"/><path d="M648.8 451.3l1.4 10.9" stroke="#a7a7a7" stroke-width="1.3"/><path d="M652.0 447.1l0.8 10.1" stroke="#b9b9b9" stroke-width="1.2"/><path d="M666.1 446.6l2.3 12.8" stroke="#6b6b6b" stroke-width="2.0"/><path d="M671.4 451.9l-0.4 9.6" stroke="#6a6a6a" stroke-width="2.0"/><path d="M734.8 454.1l-2.4 5.9" stroke="#4e4e4e" stroke-width="2.0"/><path d="M773.3 454.2l0.5 9.9" stroke="#565656" stroke-width="2.0"/><path d="M793.0 447.8l1.9 9.4" stroke="#868686" stroke-width="1.3"/><path d="M203.7 456.6l0.7 7.4" stroke="#757575" stroke-width="1.2"/><path d="M211.9 460.3l2.3 6.5" stroke="#404040" stroke-width="1.5"/><path d="M291.9 458.8l-1.5 10.6" stroke="#767676" stroke-width="1.3"/><path d="M301.9 455.5l-1.8 13.0" stroke="#dddddd" stroke-width="2.0"/><path d="M305.1 460.4l0.6 7.6" stroke="#cbcbcb" stroke-width="2.0"/><path d="M325.9 456.6l-0.0 6.0" stroke="#848484" stroke-width="1.3"/><path d="M334.5 452.8l-0.9 6.5" stroke="#d0d0d0" stroke-width="1.0"/><path d="M335.7 455.9l-0.7 8.6" stroke="#b8b8b8" stroke-width="1.5"/><path d="M345.4 453.3l-0.8 13.2" stroke="#646464" stroke-width="1.2"/><path d="M376.0 458.3l-0.1 8.2" stroke="#474747" stroke-width="2.0"/><path d="M402.7 458.9l-0.1 6.5" stroke="#767676" stroke-width="2.0"/><path d="M423.5 460.8l1.2 6.1" stroke="#666666" stroke-width="1.5"/><path d="M438.4 452.2l-1.2 7.8" stroke="#5c5c5c" stroke-width="2.0"/><path d="M465.1 460.5l-2.3 10.7" stroke="#6d6d6d" stroke-width="2.0"/><path d="M545.2 459.6l2.0 10.2" stroke="#6e6e6e" stroke-width="1.2"/><path d="M552.2 453.4l-2.1 9.3" stroke="#7d7d7d" stroke-width="1.5"/><path d="M564.2 455.9l0.4 12.0" stroke="#707070" stroke-width="1.5"/><path d="M579.6 460.8l-2.1 13.0" stroke="#999999" stroke-width="1.5"/><path d="M586.4 456.4l1.7 12.5" stroke="#7d7d7d" stroke-width="1.5"/><path d="M595.6 456.1l1.5 5.2" stroke="#797979" stroke-width="1.2"/><path d="M603.7 458.6l2.0 10.1" stroke="#808080" stroke-width="1.5"/><path d="M617.4 454.1l-0.0 5.5" stroke="#a5a5a5" stroke-width="1.2"/><path d="M624.0 458.6l1.1 8.1" stroke="#919191" stroke-width="1.3"/><path d="M637.6 454.1l-2.1 13.8" stroke="#565656" stroke-width="1.5"/><path d="M656.7 460.6l0.6 11.3" stroke="#6c6c6c" stroke-width="1.2"/><path d="M663.3 454.0l1.7 6.4" stroke="#6e6e6e" stroke-width="1.5"/><path d="M672.7 452.4l1.7 9.4" stroke="#9e9e9e" stroke-width="1.3"/><path d="M686.1 458.4l1.7 13.9" stroke="#4b4b4b" stroke-width="1.2"/><path d="M715.6 455.8l2.5 9.7" stroke="#3d3d3d" stroke-width="2.0"/><path d="M754.7 457.2l-0.3 5.3" stroke="#4b4b4b" stroke-width="2.0"/><path d="M781.7 452.7l-0.8 13.3" stroke="#676767" stroke-width="1.5"/><path d="M799.6 453.9l-1.3 12.9" stroke="#858585" stroke-width="1.0"/><path d="M203.2 458.7l-1.3 12.2" stroke="#909090" stroke-width="1.3"/><path d="M293.4 462.9l-0.2 7.1" stroke="#7e7e7e" stroke-width="1.0"/><path d="M308.7 466.2l-0.0 8.2" stroke="#a2a2a2" stroke-width="1.0"/><path d="M315.6 461.2l1.2 6.1" stroke="#979797" stroke-width="1.3"/><path d="M321.7 460.3l0.4 13.0" stroke="#4f4f4f" stroke-width="1.5"/><path d="M337.2 462.2l-2.3 10.7" stroke="#efefef" stroke-width="2.0"/><path d="M338.2 458.6l1.7 12.4" stroke="#ebebeb" stroke-width="1.2"/><path d="M348.8 464.0l0.3 5.2" stroke="#666666" stroke-width="1.2"/><path d="M354.2 459.7l1.0 10.8" stroke="#9d9d9d" stroke-width="1.0"/><path d="M364.7 458.2l2.4 6.2" stroke="#515151" stroke-width="1.2"/><path d="M370.6 465.6l1.7 7.6" stroke="#666666" stroke-width="1.2"/><path d="M389.8 460.6l0.3 11.3" stroke="#606060" stroke-width="1.2"/><path d="M396.3 464.5l-1.4 6.4" stroke="#626262" stroke-width="1.2"/><path d="M407.7 466.1l-1.8 10.0" stroke="#616161" stroke-width="1.2"/><path d="M411.5 462.4l2.0 6.2" stroke="#585858" stroke-width="2.0"/><path d="M434.5 463.3l-0.8 9.9" stroke="#6d6d6d" stroke-width="1.2"/><path d="M453.8 462.3l1.5 8.0" stroke="#989898" stroke-width="1.3"/><path d="M564.2 461.3l0.9 10.4" stroke="#a1a1a1" stroke-width="1.2"/><path d="M576.9 463.2l1.7 7.3" stroke="#6f6f6f" stroke-width="1.5"/><path d="M582.5 466.9l-0.2 11.6" stroke="#5f5f5f" stroke-width="1.2"/><path d="M591.5 462.3l2.1 5.8" stroke="#959595" stroke-width="1.0"/><path d="M609.9 465.0l-2.2 5.9" stroke="#969696" stroke-width="1.2"/><path d="M605.5 458.5l2.4 11.1" stroke="#858585" stroke-width="2.0"/><path d="M615.0 461.2l-1.5 10.1" stroke="#9b9b9b" stroke-width="1.3"/><path d="M611.5 458.8l1.8 10.3" stroke="#898989" stroke-width="1.0"/><path d="M628.8 462.6l-0.1 10.7" stroke="#676767" stroke-width="1.5"/><path d="M639.2 459.0l-1.1 8.3" stroke="#6d6d6d" stroke-width="1.5"/><path d="M649.1 465.4l-1.2 6.1" stroke="#616161" stroke-width="1.5"/><path d="M654.9 464.2l1.0 12.5" stroke="#747474" stroke-width="1.3"/><path d="M675.0 465.2l-1.7 10.5" stroke="#7e7e7e" stroke-width="1.3"/><path d="M688.5 458.7l0.1 9.2" stroke="#838383" stroke-width="1.5"/><path d="M696.1 458.5l1.5 6.1" stroke="#717171" stroke-width="1.3"/><path d="M707.2 459.9l0.1 7.0" stroke="#949494" stroke-width="1.3"/><path d="M722.3 462.2l0.9 5.6" stroke="#3c3c3c" stroke-width="2.0"/><path d="M744.4 463.6l0.8 10.5" stroke="#474747" stroke-width="1.2"/><path d="M795.0 461.9l1.1 6.9" stroke="#575757" stroke-width="1.5"/><path d="M201.2 468.1l-0.7 10.3" stroke="#a4a4a4" stroke-width="1.2"/><path d="M217.4 470.1l2.1 13.9" stroke="#4c4c4c" stroke-width="1.5"/><path d="M300.0 470.6l1.2 12.4" stroke="#858585" stroke-width="2.0"/><path d="M305.9 464.7l0.1 9.2" stroke="#8c8c8c" stroke-width="2.0"/><path d="M318.2 467.5l1.3 8.4" stroke="#7a7a7a" stroke-width="1.0"/><path d="M331.3 471.1l-1.5 10.2" stroke="#b8b8b8" stroke-width="1.5"/><path d="M336.5 471.1l0.7 11.8" stroke="#a6a6a6" stroke-width="1.5"/><path d="M352.1 470.8l1.7 10.2" stroke="#959595" stroke-width="1.0"/><path d="M364.1 465.1l0.2 12.6" stroke="#949494" stroke-width="1.0"/><path d="M376.1 464.1l1.0 12.1" stroke="#898989" stroke-width="1.2"/><path d="M387.7 466.2l-1.0 5.3" stroke="#666666" stroke-width="2.0"/><path d="M390.8 467.1l0.7 12.5" stroke="#919191" stroke-width="1.2"/><path d="M418.3 468.6l-2.4 13.5" stroke="#6f6f6f" stroke-width="2.0"/><path d="M462.6 470.3l-1.0 10.9" stroke="#7e7e7e" stroke-width="1.3"/><path d="M594.7 471.0l0.4 10.2" stroke="#858585" stroke-width="1.3"/><path d="M614.9 464.5l-1.1 5.1" stroke="#929292" stroke-width="2.0"/><path d="M623.7 470.0l1.5 7.0" stroke="#737373" stroke-width="1.3"/><path d="M631.5 467.5l1.5 8.2" stroke="#565656" stroke-width="1.5"/><path d="M648.9 468.0l0.8 13.4" stroke="#5e5e5e" stroke-width="1.2"/><path d="M654.7 465.5l0.2 5.0" stroke="#939393" stroke-width="1.0"/><path d="M667.8 466.3l1.4 5.4" stroke="#626262" stroke-width="1.5"/><path d="M671.9 472.9l-1.9 12.9" stroke="#9f9f9f" stroke-width="1.3"/><path d="M685.5 467.4l-0.3 12.6" stroke="#787878" stroke-width="1.5"/><path d="M698.5 465.2l1.3 9.6" stroke="#5f5f5f" stroke-width="1.5"/><path d="M763.2 469.5l2.5 7.3" stroke="#3f3f3f" stroke-width="1.2"/><path d="M784.0 466.2l1.3 7.4" stroke="#464646" stroke-width="1.5"/><path d="M795.7 472.3l0.0 11.8" stroke="#5c5c5c" stroke-width="1.2"/><path d="M806.3 469.7l0.8 8.5" stroke="#626262" stroke-width="2.0"/><path d="M207.4 473.6l0.0 5.6" stroke="#898989" stroke-width="1.3"/><path d="M297.4 477.7l-0.3 9.2" stroke="#707070" stroke-width="2.0"/><path d="M303.4 477.2l0.9 7.9" stroke="#747474" stroke-width="1.2"/><path d="M312.6 474.0l1.2 13.5" stroke="#6d6d6d" stroke-width="2.0"/><path d="M320.7 476.3l-2.2 13.2" stroke="#575757" stroke-width="1.2"/><path d="M338.5 471.6l2.4 8.3" stroke="#949494" stroke-width="2.0"/><path d="M344.9 472.9l0.2 6.2" stroke="#828282" stroke-width="1.5"/><path d="M358.3 473.0l2.0 5.7" stroke="#9e9e9e" stroke-width="1.0"/><path d="M363.4 470.2l0.6 5.3" stroke="#959595" stroke-width="1.3"/><path d="M367.2 470.1l1.0 8.5" stroke="#a2a2a2" stroke-width="2.0"/><path d="M378.0 473.3l1.4 8.0" stroke="#999999" stroke-width="2.0"/><path d="M380.2 477.2l2.1 7.8" stroke="#9a9a9a" stroke-width="2.0"/><path d="M391.8 471.6l-1.5 11.3" stroke="#878787" stroke-width="1.2"/><path d="M400.8 476.0l-1.0 12.3" stroke="#939393" stroke-width="1.5"/><path d="M419.5 471.6l1.8 10.4" stroke="#787878" stroke-width="1.0"/><path d="M427.9 477.0l2.1 5.5" stroke="#818181" stroke-width="1.5"/><path d="M436.1 472.9l1.6 6.0" stroke="#5b5b5b" stroke-width="1.2"/><path d="M444.8 473.8l-2.2 9.4" stroke="#606060" stroke-width="2.0"/><path d="M450.7 478.1l-0.4 5.1" stroke="#616161" stroke-width="1.5"/><path d="M593.4 477.4l-2.0 11.7" stroke="#9d9d9d" stroke-width="1.3"/><path d="M614.0 470.9l2.0 12.0" stroke="#777777" stroke-width="1.0"/><path d="M642.0 471.6l1.5 14.0" stroke="#7b7b7b" stroke-width="1.0"/><path d="M652.2 471.3l-1.7 6.1" stroke="#6c6c6c" stroke-width="1.5"/><path d="M667.5 472.1l-1.6 8.0" stroke="#656565" stroke-width="1.5"/><path d="M678.8 472.5l1.4 10.2" stroke="#7d7d7d" stroke-width="1.3"/><path d="M681.0 470.9l0.5 6.4" stroke="#8e8e8e" stroke-width="1.5"/><path d="M697.5 472.9l-1.7 13.4" stroke="#8a8a8a" stroke-width="1.0"/><path d="M726.3 474.5l1.8 12.0" stroke="#3f3f3f" stroke-width="2.0"/><path d="M784.7 477.4l1.5 12.2" stroke="#5e5e5e" stroke-width="1.2"/><path d="M800.6 476.7l-0.6 6.9" stroke="#8a8a8a" stroke-width="1.0"/><path d="M941.3 470.6l1.6 13.8" stroke="#505050" stroke-width="2.0"/><path d="M215.8 478.4l1.1 8.6" stroke="#6d6d6d" stroke-width="1.2"/><path d="M230.1 481.6l-1.7 9.2" stroke="#383838" stroke-width="1.2"/><path d="M298.4 482.2l0.3 10.1" stroke="#626262" stroke-width="1.5"/><path d="M305.6 476.5l2.4 7.1" stroke="#8d8d8d" stroke-width="1.3"/><path d="M321.1 476.5l-1.7 10.9" stroke="#767676" stroke-width="1.0"/><path d="M337.6 478.7l-0.2 13.5" stroke="#868686" stroke-width="2.0"/><path d="M345.7 484.5l0.1 5.0" stroke="#9d9d9d" stroke-width="2.0"/><path d="M352.9 484.1l-0.9 7.0" stroke="#b8b8b8" stroke-width="1.0"/><path d="M353.4 481.3l-2.4 7.0" stroke="#bcbcbc" stroke-width="1.3"/><path d="M364.1 482.1l-1.6 8.4" stroke="#a2a2a2" stroke-width="1.5"/><path d="M369.3 482.4l1.2 8.3" stroke="#a2a2a2" stroke-width="1.5"/><path d="M378.8 484.4l1.8 13.3" stroke="#a3a3a3" stroke-width="1.2"/><path d="M387.0 484.1l-2.5 12.5" stroke="#7c7c7c" stroke-width="1.5"/><path d="M395.3 476.5l1.7 6.0" stroke="#878787" stroke-width="2.0"/><path d="M406.8 479.5l-1.6 10.6" stroke="#6b6b6b" stroke-width="1.2"/><path d="M418.6 483.5l-1.4 13.2" stroke="#7a7a7a" stroke-width="1.2"/><path d="M446.3 476.5l-0.4 11.3" stroke="#717171" stroke-width="1.0"/><path d="M466.7 483.4l-2.4 5.3" stroke="#626262" stroke-width="1.2"/><path d="M576.9 484.8l-1.3 12.1" stroke="#3b3b3b" stroke-width="1.2"/><path d="M603.9 477.3l-1.0 8.5" stroke="#464646" stroke-width="1.2"/><path d="M612.3 481.6l-1.0 5.1" stroke="#a4a4a4" stroke-width="1.3"/><path d="M651.8 476.3l1.0 9.9" stroke="#6b6b6b" stroke-width="1.5"/><path d="M660.5 480.4l-1.6 11.4" stroke="#6d6d6d" stroke-width="2.0"/><path d="M672.6 481.2l-2.3 12.9" stroke="#7a7a7a" stroke-width="1.5"/><path d="M685.4 477.9l0.1 9.3" stroke="#b8b8b8" stroke-width="1.0"/><path d="M693.7 484.4l-0.3 11.9" stroke="#b1b1b1" stroke-width="2.0"/><path d="M691.3 476.3l-0.6 9.5" stroke="#c9c9c9" stroke-width="1.2"/><path d="M706.8 480.5l-2.1 11.2" stroke="#454545" stroke-width="1.2"/><path d="M733.0 477.8l-1.8 5.3" stroke="#3d3d3d" stroke-width="2.0"/><path d="M763.3 482.8l0.2 7.6" stroke="#414141" stroke-width="2.0"/><path d="M785.0 482.2l1.6 13.1" stroke="#5a5a5a" stroke-width="2.0"/><path d="M797.2 478.3l-0.3 6.5" stroke="#818181" stroke-width="1.3"/><path d="M813.5 482.6l-2.5 11.5" stroke="#363636" stroke-width="1.2"/><path d="M943.2 482.5l0.6 8.1" stroke="#545454" stroke-width="1.5"/><path d="M209.3 489.4l1.9 13.7" stroke="#989898" stroke-width="1.3"/><path d="M228.5 489.5l-1.2 7.7" stroke="#5a5a5a" stroke-width="1.5"/><path d="M305.4 486.5l1.2 7.5" stroke="#606060" stroke-width="1.2"/><path d="M321.9 489.2l0.0 12.8" stroke="#838383" stroke-width="1.2"/><path d="M331.2 483.9l1.2 10.5" stroke="#7f7f7f" stroke-width="2.0"/><path d="M339.1 487.2l-2.1 5.2" stroke="#838383" stroke-width="1.5"/><path d="M347.1 482.8l-1.8 13.5" stroke="#b2b2b2" stroke-width="1.2"/><path d="M351.8 485.9l-0.7 10.5" stroke="#bdbdbd" stroke-width="1.0"/><path d="M359.4 485.9l-1.7 5.7" stroke="#a3a3a3" stroke-width="1.2"/><path d="M366.3 487.3l1.2 10.7" stroke="#9c9c9c" stroke-width="2.0"/><path d="M371.6 484.3l-2.5 7.1" stroke="#8c8c8c" stroke-width="1.2"/><path d="M389.2 487.8l2.4 10.1" stroke="#9c9c9c" stroke-width="2.0"/><path d="M385.0 483.4l-1.3 9.4" stroke="#c2c2c2" stroke-width="1.5"/><path d="M395.4 487.1l1.7 7.3" stroke="#808080" stroke-width="1.2"/><path d="M402.1 490.4l2.0 7.3" stroke="#7b7b7b" stroke-width="1.3"/><path d="M410.7 489.0l-0.1 9.0" stroke="#565656" stroke-width="1.5"/><path d="M427.8 486.0l-1.4 8.0" stroke="#696969" stroke-width="1.5"/><path d="M448.6 487.3l2.3 10.7" stroke="#818181" stroke-width="1.0"/><path d="M452.3 487.5l0.7 6.0" stroke="#646464" stroke-width="1.5"/><path d="M615.3 489.4l-2.2 11.2" stroke="#787878" stroke-width="1.2"/><path d="M622.3 490.2l-0.5 11.9" stroke="#848484" stroke-width="1.3"/><path d="M656.9 489.0l-0.9 7.0" stroke="#6c6c6c" stroke-width="1.5"/><path d="M675.0 484.8l0.2 9.6" stroke="#888888" stroke-width="2.0"/><path d="M685.9 487.9l1.5 8.8" stroke="#a0a0a0" stroke-width="1.5"/><path d="M690.8 482.4l-1.8 13.8" stroke="#a2a2a2" stroke-width="1.3"/><path d="M699.4 489.3l2.3 9.1" stroke="#b2b2b2" stroke-width="1.0"/><path d="M702.4 488.8l0.7 8.5" stroke="#3b3b3b" stroke-width="2.0"/><path d="M775.2 487.1l1.2 12.8" stroke="#575757" stroke-width="2.0"/><path d="M201.9 496.8l2.2 13.4" stroke="#c1c1c1" stroke-width="1.5"/><path d="M201.4 490.0l0.1 5.2" stroke="#dfdfdf" stroke-width="1.5"/><path d="M217.2 492.9l0.2 9.4" stroke="#878787" stroke-width="1.0"/><path d="M222.5 495.0l-0.6 9.1" stroke="#494949" stroke-width="2.0"/><path d="M312.9 495.9l0.9 7.9" stroke="#4f4f4f" stroke-width="1.2"/><path d="M325.3 495.3l0.1 12.7" stroke="#767676" stroke-width="2.0"/><path d="M338.1 495.9l2.2 13.2" stroke="#a2a2a2" stroke-width="1.5"/><path d="M344.8 493.1l0.4 12.5" stroke="#a4a4a4" stroke-width="2.0"/><path d="M345.6 496.4l-1.0 10.8" stroke="#a8a8a8" stroke-width="1.5"/><path d="M358.5 495.6l-2.1 8.0" stroke="#a4a4a4" stroke-width="1.5"/><path d="M357.1 488.0l2.0 13.8" stroke="#969696" stroke-width="2.0"/><path d="M361.1 496.2l-0.4 8.3" stroke="#9c9c9c" stroke-width="1.5"/><path d="M376.7 490.2l-1.9 9.1" stroke="#7e7e7e" stroke-width="1.0"/><path d="M385.5 492.0l-2.2 6.7" stroke="#c8c8c8" stroke-width="1.5"/><path d="M389.6 488.5l-0.3 10.4" stroke="#b1b1b1" stroke-width="1.2"/><path d="M393.1 495.6l-0.0 5.3" stroke="#828282" stroke-width="1.5"/><path d="M403.6 490.9l-1.2 9.2" stroke="#787878" stroke-width="1.2"/><path d="M425.4 488.4l-0.8 8.1" stroke="#666666" stroke-width="1.2"/><path d="M439.5 494.5l-1.0 12.2" stroke="#606060" stroke-width="1.5"/><path d="M548.8 488.0l-2.0 7.5" stroke="#404040" stroke-width="1.5"/><path d="M608.7 490.1l1.3 11.0" stroke="#565656" stroke-width="1.2"/><path d="M618.0 494.5l2.0 7.9" stroke="#818181" stroke-width="1.5"/><path d="M632.2 490.8l2.2 11.2" stroke="#404040" stroke-width="1.5"/><path d="M647.4 494.3l0.9 13.8" stroke="#414141" stroke-width="2.0"/><path d="M665.2 493.4l-2.2 13.8" stroke="#393939" stroke-width="1.5"/><path d="M689.5 491.7l-0.4 9.5" stroke="#666666" stroke-width="1.2"/><path d="M693.5 496.8l-2.0 11.9" stroke="#6b6b6b" stroke-width="1.5"/><path d="M193.8 502.8l-0.3 7.8" stroke="#c1c1c1" stroke-width="1.2"/><path d="M192.3 496.7l-1.8 8.6" stroke="#e9e9e9" stroke-width="1.3"/><path d="M209.0 501.6l-1.7 8.2" stroke="#b8b8b8" stroke-width="1.3"/><path d="M204.0 498.0l-1.3 7.3" stroke="#d2d2d2" stroke-width="2.0"/><path d="M214.7 494.7l-1.8 12.5" stroke="#818181" stroke-width="1.5"/><path d="M228.7 501.4l1.4 9.7" stroke="#555555" stroke-width="1.2"/><path d="M298.2 500.4l1.8 9.1" stroke="#5e5e5e" stroke-width="1.5"/><path d="M306.2 501.8l1.7 6.9" stroke="#5d5d5d" stroke-width="1.2"/><path d="M318.1 494.3l-1.0 12.1" stroke="#747474" stroke-width="1.3"/><path d="M328.7 500.6l-0.0 11.2" stroke="#868686" stroke-width="1.0"/><path d="M334.8 494.0l-2.4 11.6" stroke="#7f7f7f" stroke-width="2.0"/><path d="M359.1 502.5l-1.9 5.6" stroke="#888888" stroke-width="1.5"/><path d="M363.0 500.7l-1.3 13.1" stroke="#787878" stroke-width="1.5"/><path d="M375.8 494.5l-1.6 13.1" stroke="#7e7e7e" stroke-width="1.2"/><path d="M384.0 495.9l2.3 10.2" stroke="#707070" stroke-width="1.5"/><path d="M397.3 501.2l0.8 12.8" stroke="#767676" stroke-width="2.0"/><path d="M405.6 495.0l0.3 8.7" stroke="#808080" stroke-width="1.5"/><path d="M416.8 499.3l0.2 8.8" stroke="#7b7b7b" stroke-width="1.0"/><path d="M429.4 496.8l0.1 9.3" stroke="#a2a2a2" stroke-width="2.0"/><path d="M425.5 502.9l2.1 6.1" stroke="#8a8a8a" stroke-width="2.0"/><path d="M432.2 494.9l1.0 7.7" stroke="#c0c0c0" stroke-width="1.2"/><path d="M432.2 498.7l-1.3 9.3" stroke="#c3c3c3" stroke-width="1.3"/><path d="M448.3 500.9l-0.9 6.3" stroke="#d7d7d7" stroke-width="1.0"/><path d="M441.1 495.5l-2.1 6.6" stroke="#e8e8e8" stroke-width="1.2"/><path d="M458.1 495.9l0.6 12.3" stroke="#bebebe" stroke-width="1.2"/><path d="M455.4 495.3l0.1 11.0" stroke="#e1e1e1" stroke-width="2.0"/><path d="M468.6 498.8l1.8 13.5" stroke="#d2d2d2" stroke-width="1.5"/><path d="M466.8 501.2l0.3 7.9" stroke="#d5d5d5" stroke-width="1.0"/><path d="M636.6 499.5l-2.3 13.0" stroke="#363636" stroke-width="1.2"/><path d="M685.1 494.3l2.4 11.2" stroke="#414141" stroke-width="1.5"/><path d="M722.8 494.4l-2.0 13.5" stroke="#383838" stroke-width="1.2"/><path d="M747.9 498.3l2.5 8.5" stroke="#454545" stroke-width="1.2"/><path d="M949.7 494.2l-1.0 5.5" stroke="#464646" stroke-width="2.0"/><path d="M306.2 502.4l-1.3 7.5" stroke="#505050" stroke-width="1.2"/><path d="M321.6 503.9l1.6 6.9" stroke="#989898" stroke-width="1.3"/><path d="M337.9 508.2l1.0 12.9" stroke="#5a5a5a" stroke-width="1.2"/><path d="M391.6 507.8l0.6 13.2" stroke="#4f4f4f" stroke-width="1.2"/><path d="M414.0 503.6l-1.1 5.9" stroke="#575757" stroke-width="1.5"/><path d="M427.4 501.9l0.4 5.4" stroke="#808080" stroke-width="1.3"/><path d="M439.2 502.3l1.7 6.0" stroke="#787878" stroke-width="1.5"/><path d="M440.4 508.5l-0.8 6.2" stroke="#828282" stroke-width="1.2"/><path d="M457.6 503.0l-1.1 13.6" stroke="#838383" stroke-width="1.2"/><path d="M466.8 505.2l-2.0 7.7" stroke="#969696" stroke-width="2.0"/><path d="M469.3 505.1l-2.0 5.6" stroke="#888888" stroke-width="1.2"/><path d="M608.1 505.8l-0.1 7.9" stroke="#404040" stroke-width="2.0"/><path d="M612.6 505.8l1.5 12.1" stroke="#3f3f3f" stroke-width="1.2"/><path d="M933.9 501.3l2.3 7.8" stroke="#373737" stroke-width="1.2"/></g>

</g>
<g shape-rendering="auto" filter="url(#sb05)"><polyline points="204.5,402 204.5,509" fill="none" stroke="rgb(80,190,240)" stroke-width="1" opacity="0.5" stroke-linecap="round"/><polyline points="206.5,402 206.5,509" fill="none" stroke="rgb(80,190,240)" stroke-width="1" opacity="0.4" stroke-linecap="round"/><polyline points="201,411 203,446 205,476 202,506" fill="none" stroke="rgb(70,215,230)" stroke-width="2" opacity="0.55" stroke-linecap="round"/><ellipse cx="204.5" cy="419" rx="1" ry="3" fill="rgb(225,225,35)" opacity="0.8"/><ellipse cx="202.3" cy="429" rx="1" ry="3" fill="rgb(250,30,10)" opacity="0.9"/><ellipse cx="205.8" cy="464" rx="1" ry="3.2" fill="rgb(250,30,10)" opacity="0.9"/><ellipse cx="201" cy="498" rx="2.5" ry="6" fill="rgb(225,225,35)" opacity="0.5"/><ellipse cx="200.5" cy="495" rx="1.5" ry="3.5" fill="rgb(250,30,10)" opacity="0.9"/><polyline points="210.3,411 210.3,415" fill="none" stroke="rgb(70,215,230)" stroke-width="1.5" opacity="0.7" stroke-linecap="round"/><polyline points="212.7,413 212.7,417" fill="none" stroke="rgb(70,215,230)" stroke-width="1.5" opacity="0.7" stroke-linecap="round"/><polyline points="207,414 207,420" fill="none" stroke="rgb(70,215,230)" stroke-width="1.5" opacity="0.7" stroke-linecap="round"/><polyline points="297.5,402 297.5,509" fill="none" stroke="rgb(70,170,240)" stroke-width="1.5" opacity="0.45" stroke-linecap="round"/><polyline points="334,402 334,509" fill="none" stroke="rgb(60,120,245)" stroke-width="1" opacity="0.35" stroke-linecap="round"/><polyline points="297.3,450 297.3,465.5" fill="none" stroke="rgb(225,225,35)" stroke-width="2" opacity="0.9" stroke-linecap="round"/><polyline points="297.3,454 297.3,463" fill="none" stroke="rgb(250,30,10)" stroke-width="1.2" opacity="1.0" stroke-linecap="round"/><polyline points="302.5,438.7 302.5,447" fill="none" stroke="rgb(250,30,10)" stroke-width="1.6" opacity="1.0" stroke-linecap="round"/><polyline points="304.8,455 305.5,458.5" fill="none" stroke="rgb(250,30,10)" stroke-width="2" opacity="1.0" stroke-linecap="round"/><polyline points="303,459.7 303,469" fill="none" stroke="rgb(225,225,35)" stroke-width="1.6" opacity="0.9" stroke-linecap="round"/><polyline points="299,435 299,441" fill="none" stroke="rgb(110,255,70)" stroke-width="1.5" opacity="0.8" stroke-linecap="round"/><polyline points="304,420 306.6,428" fill="none" stroke="rgb(70,215,230)" stroke-width="1.5" opacity="0.8" stroke-linecap="round"/><polyline points="325.3,429.3 328,441 331,454 333,466 334.6,476" fill="none" stroke="rgb(225,225,35)" stroke-width="2.2" opacity="0.85" stroke-linecap="round"/><polyline points="326.5,434 328.5,446" fill="none" stroke="rgb(250,30,10)" stroke-width="1.4" opacity="1.0" stroke-linecap="round"/><polyline points="330,452 332,462" fill="none" stroke="rgb(250,30,10)" stroke-width="1.4" opacity="1.0" stroke-linecap="round"/><polyline points="333,466 334.5,474" fill="none" stroke="rgb(250,30,10)" stroke-width="1.4" opacity="1.0" stroke-linecap="round"/><polyline points="323.5,458.5 323.5,470" fill="none" stroke="rgb(225,225,35)" stroke-width="1.8" opacity="0.85" stroke-linecap="round"/><polyline points="323.5,461 323.5,467" fill="none" stroke="rgb(250,30,10)" stroke-width="1.2" opacity="1.0" stroke-linecap="round"/></g>
</g>
<rect x="468" y="401" width="78" height="108" fill="#0a0023"/>
<path d="M150.5 77V510M950.5 77V510M150 77.5H951M150 185.5H951M150 293.5H951M150 401.5H951M150 509.5H951M142 77.5H150M951 77.5H959M146 80.5H150M951 80.5H955M146 83.5H150M951 83.5H955M146 86.5H150M951 86.5H955M146 89.5H150M951 89.5H955M146 92.5H150M951 92.5H955M142 95.5H150M951 95.5H959M146 98.5H150M951 98.5H955M146 101.5H150M951 101.5H955M146 104.5H150M951 104.5H955M146 107.5H150M951 107.5H955M146 110.5H150M951 110.5H955M142 113.5H150M951 113.5H959M146 116.5H150M951 116.5H955M146 119.5H150M951 119.5H955M146 122.5H150M951 122.5H955M146 125.5H150M951 125.5H955M146 128.5H150M951 128.5H955M142 131.5H150M951 131.5H959M146 134.5H150M951 134.5H955M146 137.5H150M951 137.5H955M146 140.5H150M951 140.5H955M146 143.5H150M951 143.5H955M146 146.5H150M951 146.5H955M142 149.5H150M951 149.5H959M146 152.5H150M951 152.5H955M146 155.5H150M951 155.5H955M146 158.5H150M951 158.5H955M146 161.5H150M951 161.5H955M146 164.5H150M951 164.5H955M142 167.5H150M951 167.5H959M146 170.5H150M951 170.5H955M146 173.5H150M951 173.5H955M146 176.5H150M951 176.5H955M146 179.5H150M951 179.5H955M146 182.5H150M951 182.5H955M142 185.5H150M951 185.5H959M142 185.5H150M951 185.5H959M146 188.5H150M951 188.5H955M146 191.5H150M951 191.5H955M146 194.5H150M951 194.5H955M146 197.5H150M951 197.5H955M146 200.5H150M951 200.5H955M142 203.5H150M951 203.5H959M146 206.5H150M951 206.5H955M146 209.5H150M951 209.5H955M146 212.5H150M951 212.5H955M146 215.5H150M951 215.5H955M146 218.5H150M951 218.5H955M142 221.5H150M951 221.5H959M146 224.5H150M951 224.5H955M146 227.5H150M951 227.5H955M146 230.5H150M951 230.5H955M146 233.5H150M951 233.5H955M146 236.5H150M951 236.5H955M142 239.5H150M951 239.5H959M146 242.5H150M951 242.5H955M146 245.5H150M951 245.5H955M146 248.5H150M951 248.5H955M146 251.5H150M951 251.5H955M146 254.5H150M951 254.5H955M142 257.5H150M951 257.5H959M146 260.5H150M951 260.5H955M146 263.5H150M951 263.5H955M146 266.5H150M951 266.5H955M146 269.5H150M951 269.5H955M146 272.5H150M951 272.5H955M142 275.5H150M951 275.5H959M146 278.5H150M951 278.5H955M146 281.5H150M951 281.5H955M146 284.5H150M951 284.5H955M146 287.5H150M951 287.5H955M146 290.5H150M951 290.5H955M142 293.5H150M951 293.5H959M142 293.5H150M951 293.5H959M146 296.5H150M951 296.5H955M146 299.5H150M951 299.5H955M146 302.5H150M951 302.5H955M146 305.5H150M951 305.5H955M146 308.5H150M951 308.5H955M142 311.5H150M951 311.5H959M146 314.5H150M951 314.5H955M146 317.5H150M951 317.5H955M146 320.5H150M951 320.5H955M146 323.5H150M951 323.5H955M146 326.5H150M951 326.5H955M142 329.5H150M951 329.5H959M146 332.5H150M951 332.5H955M146 335.5H150M951 335.5H955M146 338.5H150M951 338.5H955M146 341.5H150M951 341.5H955M146 344.5H150M951 344.5H955M142 347.5H150M951 347.5H959M146 350.5H150M951 350.5H955M146 353.5H150M951 353.5H955M146 356.5H150M951 356.5H955M146 359.5H150M951 359.5H955M146 362.5H150M951 362.5H955M142 365.5H150M951 365.5H959M146 368.5H150M951 368.5H955M146 371.5H150M951 371.5H955M146 374.5H150M951 374.5H955M146 377.5H150M951 377.5H955M146 380.5H150M951 380.5H955M142 383.5H150M951 383.5H959M146 386.5H150M951 386.5H955M146 389.5H150M951 389.5H955M146 392.5H150M951 392.5H955M146 395.5H150M951 395.5H955M146 398.5H150M951 398.5H955M142 401.5H150M951 401.5H959M142 401.5H150M951 401.5H959M146 404.5H150M951 404.5H955M146 407.5H150M951 407.5H955M146 410.5H150M951 410.5H955M146 413.5H150M951 413.5H955M146 416.5H150M951 416.5H955M142 419.5H150M951 419.5H959M146 422.5H150M951 422.5H955M146 425.5H150M951 425.5H955M146 428.5H150M951 428.5H955M146 431.5H150M951 431.5H955M146 434.5H150M951 434.5H955M142 437.5H150M951 437.5H959M146 440.5H150M951 440.5H955M146 443.5H150M951 443.5H955M146 446.5H150M951 446.5H955M146 449.5H150M951 449.5H955M146 452.5H150M951 452.5H955M142 455.5H150M951 455.5H959M146 458.5H150M951 458.5H955M146 461.5H150M951 461.5H955M146 464.5H150M951 464.5H955M146 467.5H150M951 467.5H955M146 470.5H150M951 470.5H955M142 473.5H150M951 473.5H959M146 476.5H150M951 476.5H955M146 479.5H150M951 479.5H955M146 482.5H150M951 482.5H955M146 485.5H150M951 485.5H955M146 488.5H150M951 488.5H955M142 491.5H150M951 491.5H959M146 494.5H150M951 494.5H955M146 497.5H150M951 497.5H955M146 500.5H150M951 500.5H955M146 503.5H150M951 503.5H955M146 506.5H150M951 506.5H955M142 509.5H150M951 509.5H959M150.5 74V77M161.5 75V77M172.5 75V77M183.5 75V77M194.5 75V77M205.5 75V77M217.5 75V77M228.5 75V77M239.5 75V77M250.5 75V77M261.5 75V77M272.5 75V77M283.5 74V77M294.5 75V77M305.5 75V77M317.5 75V77M328.5 75V77M339.5 75V77M350.5 75V77M361.5 75V77M372.5 75V77M384.5 75V77M395.5 75V77M406.5 75V77M417.5 74V77M428.5 75V77M439.5 75V77M451.5 75V77M462.5 75V77M473.5 75V77M484.5 75V77M495.5 75V77M506.5 75V77M518.5 75V77M529.5 75V77M540.5 75V77M551.5 74V77M562.5 75V77M573.5 75V77M584.5 75V77M595.5 75V77M606.5 75V77M618.5 75V77M629.5 75V77M640.5 75V77M651.5 75V77M662.5 75V77M673.5 75V77M684.5 74V77M695.5 75V77M706.5 75V77M718.5 75V77M729.5 75V77M740.5 75V77M751.5 75V77M762.5 75V77M773.5 75V77M785.5 75V77M796.5 75V77M807.5 75V77M818.5 74V77M829.5 75V77M840.5 75V77M851.5 75V77M862.5 75V77M873.5 75V77M884.5 75V77M895.5 75V77M906.5 75V77M917.5 75V77M928.5 75V77M939.5 75V77M950.5 74V77M150.5 182V185M161.5 183V185M172.5 183V185M183.5 183V185M194.5 183V185M205.5 183V185M217.5 183V185M228.5 183V185M239.5 183V185M250.5 183V185M261.5 183V185M272.5 183V185M283.5 182V185M294.5 183V185M305.5 183V185M317.5 183V185M328.5 183V185M339.5 183V185M350.5 183V185M361.5 183V185M372.5 183V185M384.5 183V185M395.5 183V185M406.5 183V185M417.5 182V185M428.5 183V185M439.5 183V185M451.5 183V185M462.5 183V185M473.5 183V185M484.5 183V185M495.5 183V185M506.5 183V185M518.5 183V185M529.5 183V185M540.5 183V185M551.5 182V185M562.5 183V185M573.5 183V185M584.5 183V185M595.5 183V185M606.5 183V185M618.5 183V185M629.5 183V185M640.5 183V185M651.5 183V185M662.5 183V185M673.5 183V185M684.5 182V185M695.5 183V185M706.5 183V185M718.5 183V185M729.5 183V185M740.5 183V185M751.5 183V185M762.5 183V185M773.5 183V185M785.5 183V185M796.5 183V185M807.5 183V185M818.5 182V185M829.5 183V185M840.5 183V185M851.5 183V185M862.5 183V185M873.5 183V185M884.5 183V185M895.5 183V185M906.5 183V185M917.5 183V185M928.5 183V185M939.5 183V185M950.5 182V185M150.5 290V293M161.5 291V293M172.5 291V293M183.5 291V293M194.5 291V293M205.5 291V293M217.5 291V293M228.5 291V293M239.5 291V293M250.5 291V293M261.5 291V293M272.5 291V293M283.5 290V293M294.5 291V293M305.5 291V293M317.5 291V293M328.5 291V293M339.5 291V293M350.5 291V293M361.5 291V293M372.5 291V293M384.5 291V293M395.5 291V293M406.5 291V293M417.5 290V293M428.5 291V293M439.5 291V293M451.5 291V293M462.5 291V293M473.5 291V293M484.5 291V293M495.5 291V293M506.5 291V293M518.5 291V293M529.5 291V293M540.5 291V293M551.5 290V293M562.5 291V293M573.5 291V293M584.5 291V293M595.5 291V293M606.5 291V293M618.5 291V293M629.5 291V293M640.5 291V293M651.5 291V293M662.5 291V293M673.5 291V293M684.5 290V293M695.5 291V293M706.5 291V293M718.5 291V293M729.5 291V293M740.5 291V293M751.5 291V293M762.5 291V293M773.5 291V293M785.5 291V293M796.5 291V293M807.5 291V293M818.5 290V293M829.5 291V293M840.5 291V293M851.5 291V293M862.5 291V293M873.5 291V293M884.5 291V293M895.5 291V293M906.5 291V293M917.5 291V293M928.5 291V293M939.5 291V293M950.5 290V293M150.5 398V401M150.5 510V514M161.5 399V401M161.5 510V513M172.5 399V401M172.5 510V513M183.5 399V401M183.5 510V513M194.5 399V401M194.5 510V513M205.5 399V401M205.5 510V513M217.5 399V401M217.5 510V513M228.5 399V401M228.5 510V513M239.5 399V401M239.5 510V513M250.5 399V401M250.5 510V513M261.5 399V401M261.5 510V513M272.5 399V401M272.5 510V513M283.5 398V401M283.5 510V514M294.5 399V401M294.5 510V513M305.5 399V401M305.5 510V513M317.5 399V401M317.5 510V513M328.5 399V401M328.5 510V513M339.5 399V401M339.5 510V513M350.5 399V401M350.5 510V513M361.5 399V401M361.5 510V513M372.5 399V401M372.5 510V513M384.5 399V401M384.5 510V513M395.5 399V401M395.5 510V513M406.5 399V401M406.5 510V513M417.5 398V401M417.5 510V514M428.5 399V401M428.5 510V513M439.5 399V401M439.5 510V513M451.5 399V401M451.5 510V513M462.5 399V401M462.5 510V513M473.5 399V401M473.5 510V513M484.5 399V401M484.5 510V513M495.5 399V401M495.5 510V513M506.5 399V401M506.5 510V513M518.5 399V401M518.5 510V513M529.5 399V401M529.5 510V513M540.5 399V401M540.5 510V513M551.5 398V401M551.5 510V514M562.5 399V401M562.5 510V513M573.5 399V401M573.5 510V513M584.5 399V401M584.5 510V513M595.5 399V401M595.5 510V513M606.5 399V401M606.5 510V513M618.5 399V401M618.5 510V513M629.5 399V401M629.5 510V513M640.5 399V401M640.5 510V513M651.5 399V401M651.5 510V513M662.5 399V401M662.5 510V513M673.5 399V401M673.5 510V513M684.5 398V401M684.5 510V514M695.5 399V401M695.5 510V513M706.5 399V401M706.5 510V513M718.5 399V401M718.5 510V513M729.5 399V401M729.5 510V513M740.5 399V401M740.5 510V513M751.5 399V401M751.5 510V513M762.5 399V401M762.5 510V513M773.5 399V401M773.5 510V513M785.5 399V401M785.5 510V513M796.5 399V401M796.5 510V513M807.5 399V401M807.5 510V513M818.5 398V401M818.5 510V514M829.5 399V401M829.5 510V513M840.5 399V401M840.5 510V513M851.5 399V401M851.5 510V513M862.5 399V401M862.5 510V513M873.5 399V401M873.5 510V513M884.5 399V401M884.5 510V513M895.5 399V401M895.5 510V513M906.5 399V401M906.5 510V513M917.5 399V401M917.5 510V513M928.5 399V401M928.5 510V513M939.5 399V401M939.5 510V513M950.5 398V401M950.5 510V514" stroke="#000" stroke-width="1" fill="none"/>
<rect x="50.5" y="91.5" width="16" height="76" fill="#fff" stroke="#000" stroke-width="1"/>
<rect x="51" y="93" width="15" height="74" fill="url(#cbg)"/>
<rect x="50.5" y="199.5" width="16" height="76" fill="#fff" stroke="#000" stroke-width="1"/>
<rect x="51" y="201" width="15" height="74" fill="url(#cbg)"/>
<rect x="50.5" y="307.5" width="16" height="76" fill="#fff" stroke="#000" stroke-width="1"/>
<rect x="51" y="309" width="15" height="74" fill="url(#cbg)"/>
<rect x="50.5" y="415.5" width="16" height="76" fill="#fff" stroke="#000" stroke-width="1"/>
<rect x="51" y="417" width="15" height="74" fill="url(#cbg)"/>
<g shape-rendering="auto"><text x="68" y="95" class="b">2000R</text>
<text x="68" y="167" class="b">1R</text>
<text x="0" y="0" class="w" text-anchor="middle" transform="translate(106 122) scale(0.9 1.08)">6</text>
<text x="0" y="0" class="w" text-anchor="middle" transform="translate(106 131) scale(0.9 1.08)">3</text>
<text x="0" y="0" class="w" text-anchor="middle" transform="translate(106 140) scale(0.9 1.08)">0</text>
<text x="0" y="0" class="w" text-anchor="middle" transform="translate(106 149) scale(0.9 1.08)">0</text>
<text x="139" y="83" class="b" text-anchor="end">N</text>
<text x="139" y="99" class="b" text-anchor="end">30</text>
<text x="139" y="117" class="b" text-anchor="end">60</text>
<text x="139" y="135" class="b" text-anchor="end">90</text>
<text x="139" y="153" class="b" text-anchor="end">120</text>
<text x="139" y="171" class="b" text-anchor="end">150</text>
<text x="139" y="185.5" class="b" text-anchor="end">S</text>
<text x="68" y="203" class="b">600R</text>
<text x="68" y="275" class="b">1R</text>
<text x="0" y="0" class="w" text-anchor="middle" transform="translate(106 230) scale(0.9 1.08)">4</text>
<text x="0" y="0" class="w" text-anchor="middle" transform="translate(106 239) scale(0.9 1.08)">2</text>
<text x="0" y="0" class="w" text-anchor="middle" transform="translate(106 248) scale(0.9 1.08)">7</text>
<text x="0" y="0" class="w" text-anchor="middle" transform="translate(106 257) scale(0.9 1.08)">8</text>
<text x="139" y="191" class="b" text-anchor="end">N</text>
<text x="139" y="207" class="b" text-anchor="end">30</text>
<text x="139" y="225" class="b" text-anchor="end">60</text>
<text x="139" y="243" class="b" text-anchor="end">90</text>
<text x="139" y="261" class="b" text-anchor="end">120</text>
<text x="139" y="279" class="b" text-anchor="end">150</text>
<text x="139" y="293.5" class="b" text-anchor="end">S</text>
<text x="68" y="311" class="b">3kR</text>
<text x="68" y="383" class="b">1R</text>
<text x="0" y="0" class="w" text-anchor="middle" transform="translate(106 338) scale(0.9 1.08)">5</text>
<text x="0" y="0" class="w" text-anchor="middle" transform="translate(106 347) scale(0.9 1.08)">5</text>
<text x="0" y="0" class="w" text-anchor="middle" transform="translate(106 356) scale(0.9 1.08)">7</text>
<text x="0" y="0" class="w" text-anchor="middle" transform="translate(106 365) scale(0.9 1.08)">7</text>
<text x="139" y="299" class="b" text-anchor="end">N</text>
<text x="139" y="315" class="b" text-anchor="end">30</text>
<text x="139" y="333" class="b" text-anchor="end">60</text>
<text x="139" y="351" class="b" text-anchor="end">90</text>
<text x="139" y="369" class="b" text-anchor="end">120</text>
<text x="139" y="387" class="b" text-anchor="end">150</text>
<text x="139" y="401.5" class="b" text-anchor="end">S</text>
<text x="68" y="419" class="b">600R</text>
<text x="68" y="491" class="b">1R</text>
<text x="0" y="0" class="w" text-anchor="middle" transform="translate(106 446) scale(0.9 1.08)">8</text>
<text x="0" y="0" class="w" text-anchor="middle" transform="translate(106 455) scale(0.9 1.08)">4</text>
<text x="0" y="0" class="w" text-anchor="middle" transform="translate(106 464) scale(0.9 1.08)">4</text>
<text x="0" y="0" class="w" text-anchor="middle" transform="translate(106 473) scale(0.9 1.08)">6</text>
<text x="139" y="407" class="b" text-anchor="end">N</text>
<text x="139" y="423" class="b" text-anchor="end">30</text>
<text x="139" y="441" class="b" text-anchor="end">60</text>
<text x="139" y="459" class="b" text-anchor="end">90</text>
<text x="139" y="477" class="b" text-anchor="end">120</text>
<text x="139" y="495" class="b" text-anchor="end">150</text>
<text x="139" y="509.5" class="b" text-anchor="end">S</text>
<text x="150.5" y="526" class="b" text-anchor="middle">00:01:00</text>
<text x="283.5" y="526" class="b" text-anchor="middle">04:00:00</text>
<text x="417.5" y="526" class="b" text-anchor="middle">08:00:00</text>
<text x="551.5" y="526" class="b" text-anchor="middle">12:00:00</text>
<text x="684.5" y="526" class="b" text-anchor="middle">16:00:00</text>
<text x="818.5" y="526" class="b" text-anchor="middle">20:00:00</text>
<text x="550" y="536.5" class="b" text-anchor="middle">Time UT</text>
<text x="550.5" y="71.8" class="t" text-anchor="middle">LYR MSP , day 322, 2025-11-18 Peak-Base</text></g>
</svg>
</body></html>
